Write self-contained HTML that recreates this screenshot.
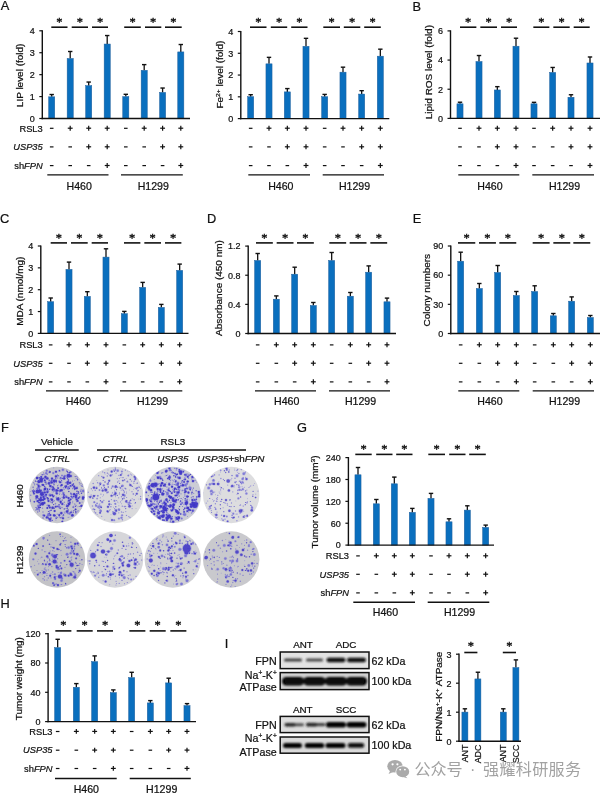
<!DOCTYPE html>
<html lang="en"><head><meta charset="utf-8"><title>Figure</title>
<style>
html,body{margin:0;padding:0;background:#fff;}
body{width:600px;height:793px;overflow:hidden;}
svg{display:block;font-family:"Liberation Sans","Noto Sans CJK SC",sans-serif;}
svg text{stroke:#111;stroke-width:.22px;}
svg text.wm{stroke:none;}
</style></head><body>
<svg width="600" height="793" viewBox="0 0 600 793">
<rect x="0" y="0" width="600" height="793" fill="#fff"/>
<text x="0.8" y="9.7" font-size="12.8" text-anchor="start" fill="#111" >A</text>
<line x1="51.7" y1="96.82" x2="51.7" y2="94.52" stroke="#111" stroke-width="1.3" stroke-linecap="butt"/>
<line x1="49.5" y1="94.52" x2="53.9" y2="94.52" stroke="#111" stroke-width="1.4" stroke-linecap="butt"/>
<rect x="48.65" y="96.82" width="6.1" height="21.68" fill="#0a6fbe" stroke="#1f5f9c" stroke-width="0.5"/>
<line x1="70.2" y1="58.49" x2="70.2" y2="51.49" stroke="#111" stroke-width="1.3" stroke-linecap="butt"/>
<line x1="68" y1="51.49" x2="72.4" y2="51.49" stroke="#111" stroke-width="1.4" stroke-linecap="butt"/>
<rect x="67.15" y="58.49" width="6.1" height="60.01" fill="#0a6fbe" stroke="#1f5f9c" stroke-width="0.5"/>
<line x1="88.7" y1="85.65" x2="88.7" y2="82.05" stroke="#111" stroke-width="1.3" stroke-linecap="butt"/>
<line x1="86.5" y1="82.05" x2="90.9" y2="82.05" stroke="#111" stroke-width="1.4" stroke-linecap="butt"/>
<rect x="85.65" y="85.65" width="6.1" height="32.85" fill="#0a6fbe" stroke="#1f5f9c" stroke-width="0.5"/>
<line x1="107.2" y1="44.04" x2="107.2" y2="35.54" stroke="#111" stroke-width="1.3" stroke-linecap="butt"/>
<line x1="105" y1="35.54" x2="109.4" y2="35.54" stroke="#111" stroke-width="1.4" stroke-linecap="butt"/>
<rect x="104.15" y="44.04" width="6.1" height="74.46" fill="#0a6fbe" stroke="#1f5f9c" stroke-width="0.5"/>
<line x1="125.8" y1="96.6" x2="125.8" y2="94.3" stroke="#111" stroke-width="1.3" stroke-linecap="butt"/>
<line x1="123.6" y1="94.3" x2="128" y2="94.3" stroke="#111" stroke-width="1.4" stroke-linecap="butt"/>
<rect x="122.75" y="96.6" width="6.1" height="21.9" fill="#0a6fbe" stroke="#1f5f9c" stroke-width="0.5"/>
<line x1="144.2" y1="70.32" x2="144.2" y2="64.62" stroke="#111" stroke-width="1.3" stroke-linecap="butt"/>
<line x1="142" y1="64.62" x2="146.4" y2="64.62" stroke="#111" stroke-width="1.4" stroke-linecap="butt"/>
<rect x="141.15" y="70.32" width="6.1" height="48.18" fill="#0a6fbe" stroke="#1f5f9c" stroke-width="0.5"/>
<line x1="162.6" y1="92.44" x2="162.6" y2="88.04" stroke="#111" stroke-width="1.3" stroke-linecap="butt"/>
<line x1="160.4" y1="88.04" x2="164.8" y2="88.04" stroke="#111" stroke-width="1.4" stroke-linecap="butt"/>
<rect x="159.55" y="92.44" width="6.1" height="26.06" fill="#0a6fbe" stroke="#1f5f9c" stroke-width="0.5"/>
<line x1="180.8" y1="51.92" x2="180.8" y2="44.52" stroke="#111" stroke-width="1.3" stroke-linecap="butt"/>
<line x1="178.6" y1="44.52" x2="183" y2="44.52" stroke="#111" stroke-width="1.4" stroke-linecap="butt"/>
<rect x="177.75" y="51.92" width="6.1" height="66.58" fill="#0a6fbe" stroke="#1f5f9c" stroke-width="0.5"/>
<line x1="42.3" y1="30.2" x2="42.3" y2="119.2" stroke="#111" stroke-width="1.4" stroke-linecap="butt"/>
<line x1="41.6" y1="118.5" x2="190" y2="118.5" stroke="#111" stroke-width="1.4" stroke-linecap="butt"/>
<line x1="39.3" y1="118.5" x2="42.3" y2="118.5" stroke="#111" stroke-width="1.2" stroke-linecap="butt"/>
<text x="34.7" y="121.8" font-size="9" text-anchor="end" fill="#111" >0</text>
<line x1="39.3" y1="96.58" x2="42.3" y2="96.58" stroke="#111" stroke-width="1.2" stroke-linecap="butt"/>
<text x="34.7" y="99.88" font-size="9" text-anchor="end" fill="#111" >1</text>
<line x1="39.3" y1="74.65" x2="42.3" y2="74.65" stroke="#111" stroke-width="1.2" stroke-linecap="butt"/>
<text x="34.7" y="77.95" font-size="9" text-anchor="end" fill="#111" >2</text>
<line x1="39.3" y1="52.72" x2="42.3" y2="52.72" stroke="#111" stroke-width="1.2" stroke-linecap="butt"/>
<text x="34.7" y="56.02" font-size="9" text-anchor="end" fill="#111" >3</text>
<line x1="39.3" y1="30.8" x2="42.3" y2="30.8" stroke="#111" stroke-width="1.2" stroke-linecap="butt"/>
<text x="34.7" y="34.1" font-size="9" text-anchor="end" fill="#111" >4</text>
<text transform="translate(22.8 75.4) rotate(-90) scale(1.195 1)" font-size="8.35" text-anchor="middle" fill="#111">LIP level (fold)</text>
<line x1="51.3" y1="27.2" x2="67.5" y2="27.2" stroke="#111" stroke-width="1.6" stroke-linecap="butt"/>
<text x="59.4" y="26.2" font-size="12.4" text-anchor="middle" fill="#111" font-family="Liberation Serif, serif" style="stroke-width:.4px">*</text>
<line x1="71.7" y1="27.2" x2="88" y2="27.2" stroke="#111" stroke-width="1.6" stroke-linecap="butt"/>
<text x="79.85" y="26.2" font-size="12.4" text-anchor="middle" fill="#111" font-family="Liberation Serif, serif" style="stroke-width:.4px">*</text>
<line x1="92" y1="27.2" x2="108" y2="27.2" stroke="#111" stroke-width="1.6" stroke-linecap="butt"/>
<text x="100" y="26.2" font-size="12.4" text-anchor="middle" fill="#111" font-family="Liberation Serif, serif" style="stroke-width:.4px">*</text>
<line x1="124.2" y1="27.2" x2="140.8" y2="27.2" stroke="#111" stroke-width="1.6" stroke-linecap="butt"/>
<text x="132.5" y="26.2" font-size="12.4" text-anchor="middle" fill="#111" font-family="Liberation Serif, serif" style="stroke-width:.4px">*</text>
<line x1="145" y1="27.2" x2="161.3" y2="27.2" stroke="#111" stroke-width="1.6" stroke-linecap="butt"/>
<text x="153.15" y="26.2" font-size="12.4" text-anchor="middle" fill="#111" font-family="Liberation Serif, serif" style="stroke-width:.4px">*</text>
<line x1="165" y1="27.2" x2="181.7" y2="27.2" stroke="#111" stroke-width="1.6" stroke-linecap="butt"/>
<text x="173.35" y="26.2" font-size="12.4" text-anchor="middle" fill="#111" font-family="Liberation Serif, serif" style="stroke-width:.4px">*</text>
<line x1="49.9" y1="128.3" x2="53.5" y2="128.3" stroke="#111" stroke-width="1.2" stroke-linecap="butt"/>
<line x1="67.75" y1="128.2" x2="72.65" y2="128.2" stroke="#111" stroke-width="1.2" stroke-linecap="butt"/>
<line x1="70.2" y1="125.75" x2="70.2" y2="130.65" stroke="#111" stroke-width="1.2" stroke-linecap="butt"/>
<line x1="86.25" y1="128.2" x2="91.15" y2="128.2" stroke="#111" stroke-width="1.2" stroke-linecap="butt"/>
<line x1="88.7" y1="125.75" x2="88.7" y2="130.65" stroke="#111" stroke-width="1.2" stroke-linecap="butt"/>
<line x1="104.75" y1="128.2" x2="109.65" y2="128.2" stroke="#111" stroke-width="1.2" stroke-linecap="butt"/>
<line x1="107.2" y1="125.75" x2="107.2" y2="130.65" stroke="#111" stroke-width="1.2" stroke-linecap="butt"/>
<line x1="124" y1="128.3" x2="127.6" y2="128.3" stroke="#111" stroke-width="1.2" stroke-linecap="butt"/>
<line x1="141.75" y1="128.2" x2="146.65" y2="128.2" stroke="#111" stroke-width="1.2" stroke-linecap="butt"/>
<line x1="144.2" y1="125.75" x2="144.2" y2="130.65" stroke="#111" stroke-width="1.2" stroke-linecap="butt"/>
<line x1="160.15" y1="128.2" x2="165.05" y2="128.2" stroke="#111" stroke-width="1.2" stroke-linecap="butt"/>
<line x1="162.6" y1="125.75" x2="162.6" y2="130.65" stroke="#111" stroke-width="1.2" stroke-linecap="butt"/>
<line x1="178.35" y1="128.2" x2="183.25" y2="128.2" stroke="#111" stroke-width="1.2" stroke-linecap="butt"/>
<line x1="180.8" y1="125.75" x2="180.8" y2="130.65" stroke="#111" stroke-width="1.2" stroke-linecap="butt"/>
<line x1="49.9" y1="146.9" x2="53.5" y2="146.9" stroke="#111" stroke-width="1.2" stroke-linecap="butt"/>
<line x1="68.4" y1="146.9" x2="72" y2="146.9" stroke="#111" stroke-width="1.2" stroke-linecap="butt"/>
<line x1="86.25" y1="146.8" x2="91.15" y2="146.8" stroke="#111" stroke-width="1.2" stroke-linecap="butt"/>
<line x1="88.7" y1="144.35" x2="88.7" y2="149.25" stroke="#111" stroke-width="1.2" stroke-linecap="butt"/>
<line x1="104.75" y1="146.8" x2="109.65" y2="146.8" stroke="#111" stroke-width="1.2" stroke-linecap="butt"/>
<line x1="107.2" y1="144.35" x2="107.2" y2="149.25" stroke="#111" stroke-width="1.2" stroke-linecap="butt"/>
<line x1="124" y1="146.9" x2="127.6" y2="146.9" stroke="#111" stroke-width="1.2" stroke-linecap="butt"/>
<line x1="142.4" y1="146.9" x2="146" y2="146.9" stroke="#111" stroke-width="1.2" stroke-linecap="butt"/>
<line x1="160.15" y1="146.8" x2="165.05" y2="146.8" stroke="#111" stroke-width="1.2" stroke-linecap="butt"/>
<line x1="162.6" y1="144.35" x2="162.6" y2="149.25" stroke="#111" stroke-width="1.2" stroke-linecap="butt"/>
<line x1="178.35" y1="146.8" x2="183.25" y2="146.8" stroke="#111" stroke-width="1.2" stroke-linecap="butt"/>
<line x1="180.8" y1="144.35" x2="180.8" y2="149.25" stroke="#111" stroke-width="1.2" stroke-linecap="butt"/>
<line x1="49.9" y1="165.6" x2="53.5" y2="165.6" stroke="#111" stroke-width="1.2" stroke-linecap="butt"/>
<line x1="68.4" y1="165.6" x2="72" y2="165.6" stroke="#111" stroke-width="1.2" stroke-linecap="butt"/>
<line x1="86.9" y1="165.6" x2="90.5" y2="165.6" stroke="#111" stroke-width="1.2" stroke-linecap="butt"/>
<line x1="104.75" y1="165.5" x2="109.65" y2="165.5" stroke="#111" stroke-width="1.2" stroke-linecap="butt"/>
<line x1="107.2" y1="163.05" x2="107.2" y2="167.95" stroke="#111" stroke-width="1.2" stroke-linecap="butt"/>
<line x1="124" y1="165.6" x2="127.6" y2="165.6" stroke="#111" stroke-width="1.2" stroke-linecap="butt"/>
<line x1="142.4" y1="165.6" x2="146" y2="165.6" stroke="#111" stroke-width="1.2" stroke-linecap="butt"/>
<line x1="160.8" y1="165.6" x2="164.4" y2="165.6" stroke="#111" stroke-width="1.2" stroke-linecap="butt"/>
<line x1="178.35" y1="165.5" x2="183.25" y2="165.5" stroke="#111" stroke-width="1.2" stroke-linecap="butt"/>
<line x1="180.8" y1="163.05" x2="180.8" y2="167.95" stroke="#111" stroke-width="1.2" stroke-linecap="butt"/>
<text x="42.7" y="131.5" font-size="9.3" text-anchor="end" fill="#111">RSL3</text>
<text x="42.7" y="150.1" font-size="9.3" text-anchor="end" fill="#111"><tspan font-style="italic">USP35</tspan></text>
<text x="42.7" y="168.8" font-size="9.3" text-anchor="end" fill="#111">sh<tspan font-style="italic">FPN</tspan></text>
<line x1="47.3" y1="174.9" x2="108.5" y2="174.9" stroke="#111" stroke-width="1.4" stroke-linecap="butt"/>
<line x1="121" y1="174.9" x2="182.8" y2="174.9" stroke="#111" stroke-width="1.4" stroke-linecap="butt"/>
<text x="79.2" y="189.6" font-size="10.6" text-anchor="middle" fill="#111" >H460</text>
<text x="153.3" y="189.6" font-size="10.6" text-anchor="middle" fill="#111" >H1299</text>
<line x1="250.67" y1="96.7" x2="250.67" y2="94.7" stroke="#111" stroke-width="1.3" stroke-linecap="butt"/>
<line x1="248.47" y1="94.7" x2="252.87" y2="94.7" stroke="#111" stroke-width="1.4" stroke-linecap="butt"/>
<rect x="247.62" y="96.7" width="6.1" height="21.9" fill="#0a6fbe" stroke="#1f5f9c" stroke-width="0.5"/>
<line x1="269" y1="63.85" x2="269" y2="57.35" stroke="#111" stroke-width="1.3" stroke-linecap="butt"/>
<line x1="266.8" y1="57.35" x2="271.2" y2="57.35" stroke="#111" stroke-width="1.4" stroke-linecap="butt"/>
<rect x="265.95" y="63.85" width="6.1" height="54.75" fill="#0a6fbe" stroke="#1f5f9c" stroke-width="0.5"/>
<line x1="287.33" y1="91.88" x2="287.33" y2="88.58" stroke="#111" stroke-width="1.3" stroke-linecap="butt"/>
<line x1="285.13" y1="88.58" x2="289.53" y2="88.58" stroke="#111" stroke-width="1.4" stroke-linecap="butt"/>
<rect x="284.28" y="91.88" width="6.1" height="26.72" fill="#0a6fbe" stroke="#1f5f9c" stroke-width="0.5"/>
<line x1="306" y1="46.33" x2="306" y2="38.33" stroke="#111" stroke-width="1.3" stroke-linecap="butt"/>
<line x1="303.8" y1="38.33" x2="308.2" y2="38.33" stroke="#111" stroke-width="1.4" stroke-linecap="butt"/>
<rect x="302.95" y="46.33" width="6.1" height="72.27" fill="#0a6fbe" stroke="#1f5f9c" stroke-width="0.5"/>
<line x1="324.67" y1="96.7" x2="324.67" y2="94.4" stroke="#111" stroke-width="1.3" stroke-linecap="butt"/>
<line x1="322.47" y1="94.4" x2="326.87" y2="94.4" stroke="#111" stroke-width="1.4" stroke-linecap="butt"/>
<rect x="321.62" y="96.7" width="6.1" height="21.9" fill="#0a6fbe" stroke="#1f5f9c" stroke-width="0.5"/>
<line x1="343" y1="72.17" x2="343" y2="67.17" stroke="#111" stroke-width="1.3" stroke-linecap="butt"/>
<line x1="340.8" y1="67.17" x2="345.2" y2="67.17" stroke="#111" stroke-width="1.4" stroke-linecap="butt"/>
<rect x="339.95" y="72.17" width="6.1" height="46.43" fill="#0a6fbe" stroke="#1f5f9c" stroke-width="0.5"/>
<line x1="361.67" y1="94.07" x2="361.67" y2="90.67" stroke="#111" stroke-width="1.3" stroke-linecap="butt"/>
<line x1="359.47" y1="90.67" x2="363.87" y2="90.67" stroke="#111" stroke-width="1.4" stroke-linecap="butt"/>
<rect x="358.62" y="94.07" width="6.1" height="24.53" fill="#0a6fbe" stroke="#1f5f9c" stroke-width="0.5"/>
<line x1="380.33" y1="56.18" x2="380.33" y2="49.18" stroke="#111" stroke-width="1.3" stroke-linecap="butt"/>
<line x1="378.13" y1="49.18" x2="382.53" y2="49.18" stroke="#111" stroke-width="1.4" stroke-linecap="butt"/>
<rect x="377.28" y="56.18" width="6.1" height="62.41" fill="#0a6fbe" stroke="#1f5f9c" stroke-width="0.5"/>
<line x1="240.8" y1="30.9" x2="240.8" y2="119.3" stroke="#111" stroke-width="1.4" stroke-linecap="butt"/>
<line x1="240.1" y1="118.6" x2="389.3" y2="118.6" stroke="#111" stroke-width="1.4" stroke-linecap="butt"/>
<line x1="237.8" y1="118.6" x2="240.8" y2="118.6" stroke="#111" stroke-width="1.2" stroke-linecap="butt"/>
<text x="233.2" y="121.9" font-size="9" text-anchor="end" fill="#111" >0</text>
<line x1="237.8" y1="96.82" x2="240.8" y2="96.82" stroke="#111" stroke-width="1.2" stroke-linecap="butt"/>
<text x="233.2" y="100.12" font-size="9" text-anchor="end" fill="#111" >1</text>
<line x1="237.8" y1="75.05" x2="240.8" y2="75.05" stroke="#111" stroke-width="1.2" stroke-linecap="butt"/>
<text x="233.2" y="78.35" font-size="9" text-anchor="end" fill="#111" >2</text>
<line x1="237.8" y1="53.28" x2="240.8" y2="53.28" stroke="#111" stroke-width="1.2" stroke-linecap="butt"/>
<text x="233.2" y="56.58" font-size="9" text-anchor="end" fill="#111" >3</text>
<line x1="237.8" y1="31.5" x2="240.8" y2="31.5" stroke="#111" stroke-width="1.2" stroke-linecap="butt"/>
<text x="233.2" y="34.8" font-size="9" text-anchor="end" fill="#111" >4</text>
<text transform="translate(222.8 74.6) rotate(-90) scale(1.195 1)" font-size="8.35" text-anchor="middle" fill="#111">Fe<tspan font-size="5.6" dy="-3.2">2+</tspan><tspan dy="3.2"> level (fold)</tspan></text>
<line x1="250" y1="27.2" x2="266.5" y2="27.2" stroke="#111" stroke-width="1.6" stroke-linecap="butt"/>
<text x="258.25" y="26.2" font-size="12.4" text-anchor="middle" fill="#111" font-family="Liberation Serif, serif" style="stroke-width:.4px">*</text>
<line x1="270.8" y1="27.2" x2="287.2" y2="27.2" stroke="#111" stroke-width="1.6" stroke-linecap="butt"/>
<text x="279" y="26.2" font-size="12.4" text-anchor="middle" fill="#111" font-family="Liberation Serif, serif" style="stroke-width:.4px">*</text>
<line x1="291.2" y1="27.2" x2="307.5" y2="27.2" stroke="#111" stroke-width="1.6" stroke-linecap="butt"/>
<text x="299.35" y="26.2" font-size="12.4" text-anchor="middle" fill="#111" font-family="Liberation Serif, serif" style="stroke-width:.4px">*</text>
<line x1="323.3" y1="27.2" x2="340" y2="27.2" stroke="#111" stroke-width="1.6" stroke-linecap="butt"/>
<text x="331.65" y="26.2" font-size="12.4" text-anchor="middle" fill="#111" font-family="Liberation Serif, serif" style="stroke-width:.4px">*</text>
<line x1="343.8" y1="27.2" x2="360.3" y2="27.2" stroke="#111" stroke-width="1.6" stroke-linecap="butt"/>
<text x="352.05" y="26.2" font-size="12.4" text-anchor="middle" fill="#111" font-family="Liberation Serif, serif" style="stroke-width:.4px">*</text>
<line x1="364.2" y1="27.2" x2="380.8" y2="27.2" stroke="#111" stroke-width="1.6" stroke-linecap="butt"/>
<text x="372.5" y="26.2" font-size="12.4" text-anchor="middle" fill="#111" font-family="Liberation Serif, serif" style="stroke-width:.4px">*</text>
<line x1="248.87" y1="128.3" x2="252.47" y2="128.3" stroke="#111" stroke-width="1.2" stroke-linecap="butt"/>
<line x1="266.55" y1="128.2" x2="271.45" y2="128.2" stroke="#111" stroke-width="1.2" stroke-linecap="butt"/>
<line x1="269" y1="125.75" x2="269" y2="130.65" stroke="#111" stroke-width="1.2" stroke-linecap="butt"/>
<line x1="284.88" y1="128.2" x2="289.78" y2="128.2" stroke="#111" stroke-width="1.2" stroke-linecap="butt"/>
<line x1="287.33" y1="125.75" x2="287.33" y2="130.65" stroke="#111" stroke-width="1.2" stroke-linecap="butt"/>
<line x1="303.55" y1="128.2" x2="308.45" y2="128.2" stroke="#111" stroke-width="1.2" stroke-linecap="butt"/>
<line x1="306" y1="125.75" x2="306" y2="130.65" stroke="#111" stroke-width="1.2" stroke-linecap="butt"/>
<line x1="322.87" y1="128.3" x2="326.47" y2="128.3" stroke="#111" stroke-width="1.2" stroke-linecap="butt"/>
<line x1="340.55" y1="128.2" x2="345.45" y2="128.2" stroke="#111" stroke-width="1.2" stroke-linecap="butt"/>
<line x1="343" y1="125.75" x2="343" y2="130.65" stroke="#111" stroke-width="1.2" stroke-linecap="butt"/>
<line x1="359.22" y1="128.2" x2="364.12" y2="128.2" stroke="#111" stroke-width="1.2" stroke-linecap="butt"/>
<line x1="361.67" y1="125.75" x2="361.67" y2="130.65" stroke="#111" stroke-width="1.2" stroke-linecap="butt"/>
<line x1="377.88" y1="128.2" x2="382.78" y2="128.2" stroke="#111" stroke-width="1.2" stroke-linecap="butt"/>
<line x1="380.33" y1="125.75" x2="380.33" y2="130.65" stroke="#111" stroke-width="1.2" stroke-linecap="butt"/>
<line x1="248.87" y1="146.9" x2="252.47" y2="146.9" stroke="#111" stroke-width="1.2" stroke-linecap="butt"/>
<line x1="267.2" y1="146.9" x2="270.8" y2="146.9" stroke="#111" stroke-width="1.2" stroke-linecap="butt"/>
<line x1="284.88" y1="146.8" x2="289.78" y2="146.8" stroke="#111" stroke-width="1.2" stroke-linecap="butt"/>
<line x1="287.33" y1="144.35" x2="287.33" y2="149.25" stroke="#111" stroke-width="1.2" stroke-linecap="butt"/>
<line x1="303.55" y1="146.8" x2="308.45" y2="146.8" stroke="#111" stroke-width="1.2" stroke-linecap="butt"/>
<line x1="306" y1="144.35" x2="306" y2="149.25" stroke="#111" stroke-width="1.2" stroke-linecap="butt"/>
<line x1="322.87" y1="146.9" x2="326.47" y2="146.9" stroke="#111" stroke-width="1.2" stroke-linecap="butt"/>
<line x1="341.2" y1="146.9" x2="344.8" y2="146.9" stroke="#111" stroke-width="1.2" stroke-linecap="butt"/>
<line x1="359.22" y1="146.8" x2="364.12" y2="146.8" stroke="#111" stroke-width="1.2" stroke-linecap="butt"/>
<line x1="361.67" y1="144.35" x2="361.67" y2="149.25" stroke="#111" stroke-width="1.2" stroke-linecap="butt"/>
<line x1="377.88" y1="146.8" x2="382.78" y2="146.8" stroke="#111" stroke-width="1.2" stroke-linecap="butt"/>
<line x1="380.33" y1="144.35" x2="380.33" y2="149.25" stroke="#111" stroke-width="1.2" stroke-linecap="butt"/>
<line x1="248.87" y1="165.6" x2="252.47" y2="165.6" stroke="#111" stroke-width="1.2" stroke-linecap="butt"/>
<line x1="267.2" y1="165.6" x2="270.8" y2="165.6" stroke="#111" stroke-width="1.2" stroke-linecap="butt"/>
<line x1="285.53" y1="165.6" x2="289.13" y2="165.6" stroke="#111" stroke-width="1.2" stroke-linecap="butt"/>
<line x1="303.55" y1="165.5" x2="308.45" y2="165.5" stroke="#111" stroke-width="1.2" stroke-linecap="butt"/>
<line x1="306" y1="163.05" x2="306" y2="167.95" stroke="#111" stroke-width="1.2" stroke-linecap="butt"/>
<line x1="322.87" y1="165.6" x2="326.47" y2="165.6" stroke="#111" stroke-width="1.2" stroke-linecap="butt"/>
<line x1="341.2" y1="165.6" x2="344.8" y2="165.6" stroke="#111" stroke-width="1.2" stroke-linecap="butt"/>
<line x1="359.87" y1="165.6" x2="363.47" y2="165.6" stroke="#111" stroke-width="1.2" stroke-linecap="butt"/>
<line x1="377.88" y1="165.5" x2="382.78" y2="165.5" stroke="#111" stroke-width="1.2" stroke-linecap="butt"/>
<line x1="380.33" y1="163.05" x2="380.33" y2="167.95" stroke="#111" stroke-width="1.2" stroke-linecap="butt"/>
<line x1="248.3" y1="174.9" x2="310" y2="174.9" stroke="#111" stroke-width="1.4" stroke-linecap="butt"/>
<line x1="322.7" y1="174.9" x2="384" y2="174.9" stroke="#111" stroke-width="1.4" stroke-linecap="butt"/>
<text x="280.8" y="189.6" font-size="10.6" text-anchor="middle" fill="#111" >H460</text>
<text x="354.5" y="189.6" font-size="10.6" text-anchor="middle" fill="#111" >H1299</text>
<text x="412.4" y="10.7" font-size="12.8" text-anchor="start" fill="#111" >B</text>
<line x1="460" y1="103.82" x2="460" y2="102.22" stroke="#111" stroke-width="1.3" stroke-linecap="butt"/>
<line x1="457.8" y1="102.22" x2="462.2" y2="102.22" stroke="#111" stroke-width="1.4" stroke-linecap="butt"/>
<rect x="456.95" y="103.82" width="6.1" height="14.58" fill="#0a6fbe" stroke="#1f5f9c" stroke-width="0.5"/>
<line x1="479" y1="61.53" x2="479" y2="55.53" stroke="#111" stroke-width="1.3" stroke-linecap="butt"/>
<line x1="476.8" y1="55.53" x2="481.2" y2="55.53" stroke="#111" stroke-width="1.4" stroke-linecap="butt"/>
<rect x="475.95" y="61.53" width="6.1" height="56.88" fill="#0a6fbe" stroke="#1f5f9c" stroke-width="0.5"/>
<line x1="497.33" y1="89.96" x2="497.33" y2="86.66" stroke="#111" stroke-width="1.3" stroke-linecap="butt"/>
<line x1="495.13" y1="86.66" x2="499.53" y2="86.66" stroke="#111" stroke-width="1.4" stroke-linecap="butt"/>
<rect x="494.28" y="89.96" width="6.1" height="28.44" fill="#0a6fbe" stroke="#1f5f9c" stroke-width="0.5"/>
<line x1="516" y1="46.21" x2="516" y2="38.21" stroke="#111" stroke-width="1.3" stroke-linecap="butt"/>
<line x1="513.8" y1="38.21" x2="518.2" y2="38.21" stroke="#111" stroke-width="1.4" stroke-linecap="butt"/>
<rect x="512.95" y="46.21" width="6.1" height="72.19" fill="#0a6fbe" stroke="#1f5f9c" stroke-width="0.5"/>
<line x1="534" y1="103.82" x2="534" y2="102.32" stroke="#111" stroke-width="1.3" stroke-linecap="butt"/>
<line x1="531.8" y1="102.32" x2="536.2" y2="102.32" stroke="#111" stroke-width="1.4" stroke-linecap="butt"/>
<rect x="530.95" y="103.82" width="6.1" height="14.58" fill="#0a6fbe" stroke="#1f5f9c" stroke-width="0.5"/>
<line x1="552.67" y1="72.46" x2="552.67" y2="67.46" stroke="#111" stroke-width="1.3" stroke-linecap="butt"/>
<line x1="550.47" y1="67.46" x2="554.87" y2="67.46" stroke="#111" stroke-width="1.4" stroke-linecap="butt"/>
<rect x="549.62" y="72.46" width="6.1" height="45.94" fill="#0a6fbe" stroke="#1f5f9c" stroke-width="0.5"/>
<line x1="571" y1="97.25" x2="571" y2="94.75" stroke="#111" stroke-width="1.3" stroke-linecap="butt"/>
<line x1="568.8" y1="94.75" x2="573.2" y2="94.75" stroke="#111" stroke-width="1.4" stroke-linecap="butt"/>
<rect x="567.95" y="97.25" width="6.1" height="21.15" fill="#0a6fbe" stroke="#1f5f9c" stroke-width="0.5"/>
<line x1="590" y1="62.98" x2="590" y2="56.98" stroke="#111" stroke-width="1.3" stroke-linecap="butt"/>
<line x1="587.8" y1="56.98" x2="592.2" y2="56.98" stroke="#111" stroke-width="1.4" stroke-linecap="butt"/>
<rect x="586.95" y="62.98" width="6.1" height="55.42" fill="#0a6fbe" stroke="#1f5f9c" stroke-width="0.5"/>
<line x1="450.5" y1="30.3" x2="450.5" y2="119.1" stroke="#111" stroke-width="1.4" stroke-linecap="butt"/>
<line x1="449.8" y1="118.4" x2="600" y2="118.4" stroke="#111" stroke-width="1.4" stroke-linecap="butt"/>
<line x1="447.5" y1="118.4" x2="450.5" y2="118.4" stroke="#111" stroke-width="1.2" stroke-linecap="butt"/>
<text x="442.9" y="121.7" font-size="9" text-anchor="end" fill="#111" >0</text>
<line x1="447.5" y1="89.23" x2="450.5" y2="89.23" stroke="#111" stroke-width="1.2" stroke-linecap="butt"/>
<text x="442.9" y="92.53" font-size="9" text-anchor="end" fill="#111" >2</text>
<line x1="447.5" y1="60.07" x2="450.5" y2="60.07" stroke="#111" stroke-width="1.2" stroke-linecap="butt"/>
<text x="442.9" y="63.37" font-size="9" text-anchor="end" fill="#111" >4</text>
<line x1="447.5" y1="30.9" x2="450.5" y2="30.9" stroke="#111" stroke-width="1.2" stroke-linecap="butt"/>
<text x="442.9" y="34.2" font-size="9" text-anchor="end" fill="#111" >6</text>
<text transform="translate(432 72.1) rotate(-90) scale(1.195 1)" font-size="8.35" text-anchor="middle" fill="#111">Lipid ROS level (fold)</text>
<line x1="460" y1="27.2" x2="476.37" y2="27.2" stroke="#111" stroke-width="1.6" stroke-linecap="butt"/>
<text x="468.18" y="26.2" font-size="12.4" text-anchor="middle" fill="#111" font-family="Liberation Serif, serif" style="stroke-width:.4px">*</text>
<line x1="480.33" y1="27.2" x2="497.03" y2="27.2" stroke="#111" stroke-width="1.6" stroke-linecap="butt"/>
<text x="488.68" y="26.2" font-size="12.4" text-anchor="middle" fill="#111" font-family="Liberation Serif, serif" style="stroke-width:.4px">*</text>
<line x1="501" y1="27.2" x2="517.03" y2="27.2" stroke="#111" stroke-width="1.6" stroke-linecap="butt"/>
<text x="509.02" y="26.2" font-size="12.4" text-anchor="middle" fill="#111" font-family="Liberation Serif, serif" style="stroke-width:.4px">*</text>
<line x1="533.33" y1="27.2" x2="549.37" y2="27.2" stroke="#111" stroke-width="1.6" stroke-linecap="butt"/>
<text x="541.35" y="26.2" font-size="12.4" text-anchor="middle" fill="#111" font-family="Liberation Serif, serif" style="stroke-width:.4px">*</text>
<line x1="553.33" y1="27.2" x2="569.7" y2="27.2" stroke="#111" stroke-width="1.6" stroke-linecap="butt"/>
<text x="561.52" y="26.2" font-size="12.4" text-anchor="middle" fill="#111" font-family="Liberation Serif, serif" style="stroke-width:.4px">*</text>
<line x1="573.67" y1="27.2" x2="589.7" y2="27.2" stroke="#111" stroke-width="1.6" stroke-linecap="butt"/>
<text x="581.68" y="26.2" font-size="12.4" text-anchor="middle" fill="#111" font-family="Liberation Serif, serif" style="stroke-width:.4px">*</text>
<line x1="458.2" y1="128.3" x2="461.8" y2="128.3" stroke="#111" stroke-width="1.2" stroke-linecap="butt"/>
<line x1="476.55" y1="128.2" x2="481.45" y2="128.2" stroke="#111" stroke-width="1.2" stroke-linecap="butt"/>
<line x1="479" y1="125.75" x2="479" y2="130.65" stroke="#111" stroke-width="1.2" stroke-linecap="butt"/>
<line x1="494.88" y1="128.2" x2="499.78" y2="128.2" stroke="#111" stroke-width="1.2" stroke-linecap="butt"/>
<line x1="497.33" y1="125.75" x2="497.33" y2="130.65" stroke="#111" stroke-width="1.2" stroke-linecap="butt"/>
<line x1="513.55" y1="128.2" x2="518.45" y2="128.2" stroke="#111" stroke-width="1.2" stroke-linecap="butt"/>
<line x1="516" y1="125.75" x2="516" y2="130.65" stroke="#111" stroke-width="1.2" stroke-linecap="butt"/>
<line x1="532.2" y1="128.3" x2="535.8" y2="128.3" stroke="#111" stroke-width="1.2" stroke-linecap="butt"/>
<line x1="550.22" y1="128.2" x2="555.12" y2="128.2" stroke="#111" stroke-width="1.2" stroke-linecap="butt"/>
<line x1="552.67" y1="125.75" x2="552.67" y2="130.65" stroke="#111" stroke-width="1.2" stroke-linecap="butt"/>
<line x1="568.55" y1="128.2" x2="573.45" y2="128.2" stroke="#111" stroke-width="1.2" stroke-linecap="butt"/>
<line x1="571" y1="125.75" x2="571" y2="130.65" stroke="#111" stroke-width="1.2" stroke-linecap="butt"/>
<line x1="587.55" y1="128.2" x2="592.45" y2="128.2" stroke="#111" stroke-width="1.2" stroke-linecap="butt"/>
<line x1="590" y1="125.75" x2="590" y2="130.65" stroke="#111" stroke-width="1.2" stroke-linecap="butt"/>
<line x1="458.2" y1="146.9" x2="461.8" y2="146.9" stroke="#111" stroke-width="1.2" stroke-linecap="butt"/>
<line x1="477.2" y1="146.9" x2="480.8" y2="146.9" stroke="#111" stroke-width="1.2" stroke-linecap="butt"/>
<line x1="494.88" y1="146.8" x2="499.78" y2="146.8" stroke="#111" stroke-width="1.2" stroke-linecap="butt"/>
<line x1="497.33" y1="144.35" x2="497.33" y2="149.25" stroke="#111" stroke-width="1.2" stroke-linecap="butt"/>
<line x1="513.55" y1="146.8" x2="518.45" y2="146.8" stroke="#111" stroke-width="1.2" stroke-linecap="butt"/>
<line x1="516" y1="144.35" x2="516" y2="149.25" stroke="#111" stroke-width="1.2" stroke-linecap="butt"/>
<line x1="532.2" y1="146.9" x2="535.8" y2="146.9" stroke="#111" stroke-width="1.2" stroke-linecap="butt"/>
<line x1="550.87" y1="146.9" x2="554.47" y2="146.9" stroke="#111" stroke-width="1.2" stroke-linecap="butt"/>
<line x1="568.55" y1="146.8" x2="573.45" y2="146.8" stroke="#111" stroke-width="1.2" stroke-linecap="butt"/>
<line x1="571" y1="144.35" x2="571" y2="149.25" stroke="#111" stroke-width="1.2" stroke-linecap="butt"/>
<line x1="587.55" y1="146.8" x2="592.45" y2="146.8" stroke="#111" stroke-width="1.2" stroke-linecap="butt"/>
<line x1="590" y1="144.35" x2="590" y2="149.25" stroke="#111" stroke-width="1.2" stroke-linecap="butt"/>
<line x1="458.2" y1="165.6" x2="461.8" y2="165.6" stroke="#111" stroke-width="1.2" stroke-linecap="butt"/>
<line x1="477.2" y1="165.6" x2="480.8" y2="165.6" stroke="#111" stroke-width="1.2" stroke-linecap="butt"/>
<line x1="495.53" y1="165.6" x2="499.13" y2="165.6" stroke="#111" stroke-width="1.2" stroke-linecap="butt"/>
<line x1="513.55" y1="165.5" x2="518.45" y2="165.5" stroke="#111" stroke-width="1.2" stroke-linecap="butt"/>
<line x1="516" y1="163.05" x2="516" y2="167.95" stroke="#111" stroke-width="1.2" stroke-linecap="butt"/>
<line x1="532.2" y1="165.6" x2="535.8" y2="165.6" stroke="#111" stroke-width="1.2" stroke-linecap="butt"/>
<line x1="550.87" y1="165.6" x2="554.47" y2="165.6" stroke="#111" stroke-width="1.2" stroke-linecap="butt"/>
<line x1="569.2" y1="165.6" x2="572.8" y2="165.6" stroke="#111" stroke-width="1.2" stroke-linecap="butt"/>
<line x1="587.55" y1="165.5" x2="592.45" y2="165.5" stroke="#111" stroke-width="1.2" stroke-linecap="butt"/>
<line x1="590" y1="163.05" x2="590" y2="167.95" stroke="#111" stroke-width="1.2" stroke-linecap="butt"/>
<line x1="458.3" y1="174.9" x2="519.3" y2="174.9" stroke="#111" stroke-width="1.4" stroke-linecap="butt"/>
<line x1="532.3" y1="174.9" x2="594" y2="174.9" stroke="#111" stroke-width="1.4" stroke-linecap="butt"/>
<text x="490" y="189.6" font-size="10.6" text-anchor="middle" fill="#111" >H460</text>
<text x="564.5" y="189.6" font-size="10.6" text-anchor="middle" fill="#111" >H1299</text>
<text x="0.1" y="223.2" font-size="12.8" text-anchor="start" fill="#111" >C</text>
<line x1="50.67" y1="301.7" x2="50.67" y2="298" stroke="#111" stroke-width="1.3" stroke-linecap="butt"/>
<line x1="48.47" y1="298" x2="52.87" y2="298" stroke="#111" stroke-width="1.4" stroke-linecap="butt"/>
<rect x="47.62" y="301.7" width="6.1" height="31.7" fill="#0a6fbe" stroke="#1f5f9c" stroke-width="0.5"/>
<line x1="69" y1="269.4" x2="69" y2="262.1" stroke="#111" stroke-width="1.3" stroke-linecap="butt"/>
<line x1="66.8" y1="262.1" x2="71.2" y2="262.1" stroke="#111" stroke-width="1.4" stroke-linecap="butt"/>
<rect x="65.95" y="269.4" width="6.1" height="64" fill="#0a6fbe" stroke="#1f5f9c" stroke-width="0.5"/>
<line x1="87.33" y1="296.4" x2="87.33" y2="291.7" stroke="#111" stroke-width="1.3" stroke-linecap="butt"/>
<line x1="85.13" y1="291.7" x2="89.53" y2="291.7" stroke="#111" stroke-width="1.4" stroke-linecap="butt"/>
<rect x="84.28" y="296.4" width="6.1" height="37" fill="#0a6fbe" stroke="#1f5f9c" stroke-width="0.5"/>
<line x1="106" y1="257.1" x2="106" y2="248.8" stroke="#111" stroke-width="1.3" stroke-linecap="butt"/>
<line x1="103.8" y1="248.8" x2="108.2" y2="248.8" stroke="#111" stroke-width="1.4" stroke-linecap="butt"/>
<rect x="102.95" y="257.1" width="6.1" height="76.3" fill="#0a6fbe" stroke="#1f5f9c" stroke-width="0.5"/>
<line x1="124.33" y1="313.7" x2="124.33" y2="311.4" stroke="#111" stroke-width="1.3" stroke-linecap="butt"/>
<line x1="122.13" y1="311.4" x2="126.53" y2="311.4" stroke="#111" stroke-width="1.4" stroke-linecap="butt"/>
<rect x="121.28" y="313.7" width="6.1" height="19.7" fill="#0a6fbe" stroke="#1f5f9c" stroke-width="0.5"/>
<line x1="142.67" y1="287.4" x2="142.67" y2="282.4" stroke="#111" stroke-width="1.3" stroke-linecap="butt"/>
<line x1="140.47" y1="282.4" x2="144.87" y2="282.4" stroke="#111" stroke-width="1.4" stroke-linecap="butt"/>
<rect x="139.62" y="287.4" width="6.1" height="46" fill="#0a6fbe" stroke="#1f5f9c" stroke-width="0.5"/>
<line x1="161.33" y1="307.4" x2="161.33" y2="304.4" stroke="#111" stroke-width="1.3" stroke-linecap="butt"/>
<line x1="159.13" y1="304.4" x2="163.53" y2="304.4" stroke="#111" stroke-width="1.4" stroke-linecap="butt"/>
<rect x="158.28" y="307.4" width="6.1" height="26" fill="#0a6fbe" stroke="#1f5f9c" stroke-width="0.5"/>
<line x1="179.67" y1="270.4" x2="179.67" y2="264.1" stroke="#111" stroke-width="1.3" stroke-linecap="butt"/>
<line x1="177.47" y1="264.1" x2="181.87" y2="264.1" stroke="#111" stroke-width="1.4" stroke-linecap="butt"/>
<rect x="176.62" y="270.4" width="6.1" height="63" fill="#0a6fbe" stroke="#1f5f9c" stroke-width="0.5"/>
<line x1="40.8" y1="245.4" x2="40.8" y2="334.1" stroke="#111" stroke-width="1.4" stroke-linecap="butt"/>
<line x1="40.1" y1="333.4" x2="188.5" y2="333.4" stroke="#111" stroke-width="1.4" stroke-linecap="butt"/>
<line x1="37.8" y1="333.4" x2="40.8" y2="333.4" stroke="#111" stroke-width="1.2" stroke-linecap="butt"/>
<text x="33.2" y="336.7" font-size="9" text-anchor="end" fill="#111" >0</text>
<line x1="37.8" y1="311.55" x2="40.8" y2="311.55" stroke="#111" stroke-width="1.2" stroke-linecap="butt"/>
<text x="33.2" y="314.85" font-size="9" text-anchor="end" fill="#111" >1</text>
<line x1="37.8" y1="289.7" x2="40.8" y2="289.7" stroke="#111" stroke-width="1.2" stroke-linecap="butt"/>
<text x="33.2" y="293" font-size="9" text-anchor="end" fill="#111" >2</text>
<line x1="37.8" y1="267.85" x2="40.8" y2="267.85" stroke="#111" stroke-width="1.2" stroke-linecap="butt"/>
<text x="33.2" y="271.15" font-size="9" text-anchor="end" fill="#111" >3</text>
<line x1="37.8" y1="246" x2="40.8" y2="246" stroke="#111" stroke-width="1.2" stroke-linecap="butt"/>
<text x="33.2" y="249.3" font-size="9" text-anchor="end" fill="#111" >4</text>
<text transform="translate(23 291.2) rotate(-90) scale(1.195 1)" font-size="8.35" text-anchor="middle" fill="#111">MDA (nmol/mg)</text>
<line x1="50.67" y1="242.9" x2="67.03" y2="242.9" stroke="#111" stroke-width="1.6" stroke-linecap="butt"/>
<text x="58.85" y="241.9" font-size="12.4" text-anchor="middle" fill="#111" font-family="Liberation Serif, serif" style="stroke-width:.4px">*</text>
<line x1="71" y1="242.9" x2="87.7" y2="242.9" stroke="#111" stroke-width="1.6" stroke-linecap="butt"/>
<text x="79.35" y="241.9" font-size="12.4" text-anchor="middle" fill="#111" font-family="Liberation Serif, serif" style="stroke-width:.4px">*</text>
<line x1="91.67" y1="242.9" x2="108.03" y2="242.9" stroke="#111" stroke-width="1.6" stroke-linecap="butt"/>
<text x="99.85" y="241.9" font-size="12.4" text-anchor="middle" fill="#111" font-family="Liberation Serif, serif" style="stroke-width:.4px">*</text>
<line x1="124" y1="242.9" x2="140.37" y2="242.9" stroke="#111" stroke-width="1.6" stroke-linecap="butt"/>
<text x="132.18" y="241.9" font-size="12.4" text-anchor="middle" fill="#111" font-family="Liberation Serif, serif" style="stroke-width:.4px">*</text>
<line x1="144.33" y1="242.9" x2="161.03" y2="242.9" stroke="#111" stroke-width="1.6" stroke-linecap="butt"/>
<text x="152.68" y="241.9" font-size="12.4" text-anchor="middle" fill="#111" font-family="Liberation Serif, serif" style="stroke-width:.4px">*</text>
<line x1="165" y1="242.9" x2="181.37" y2="242.9" stroke="#111" stroke-width="1.6" stroke-linecap="butt"/>
<text x="173.18" y="241.9" font-size="12.4" text-anchor="middle" fill="#111" font-family="Liberation Serif, serif" style="stroke-width:.4px">*</text>
<line x1="48.87" y1="344.9" x2="52.47" y2="344.9" stroke="#111" stroke-width="1.2" stroke-linecap="butt"/>
<line x1="66.55" y1="344.8" x2="71.45" y2="344.8" stroke="#111" stroke-width="1.2" stroke-linecap="butt"/>
<line x1="69" y1="342.35" x2="69" y2="347.25" stroke="#111" stroke-width="1.2" stroke-linecap="butt"/>
<line x1="84.88" y1="344.8" x2="89.78" y2="344.8" stroke="#111" stroke-width="1.2" stroke-linecap="butt"/>
<line x1="87.33" y1="342.35" x2="87.33" y2="347.25" stroke="#111" stroke-width="1.2" stroke-linecap="butt"/>
<line x1="103.55" y1="344.8" x2="108.45" y2="344.8" stroke="#111" stroke-width="1.2" stroke-linecap="butt"/>
<line x1="106" y1="342.35" x2="106" y2="347.25" stroke="#111" stroke-width="1.2" stroke-linecap="butt"/>
<line x1="122.53" y1="344.9" x2="126.13" y2="344.9" stroke="#111" stroke-width="1.2" stroke-linecap="butt"/>
<line x1="140.22" y1="344.8" x2="145.12" y2="344.8" stroke="#111" stroke-width="1.2" stroke-linecap="butt"/>
<line x1="142.67" y1="342.35" x2="142.67" y2="347.25" stroke="#111" stroke-width="1.2" stroke-linecap="butt"/>
<line x1="158.88" y1="344.8" x2="163.78" y2="344.8" stroke="#111" stroke-width="1.2" stroke-linecap="butt"/>
<line x1="161.33" y1="342.35" x2="161.33" y2="347.25" stroke="#111" stroke-width="1.2" stroke-linecap="butt"/>
<line x1="177.22" y1="344.8" x2="182.12" y2="344.8" stroke="#111" stroke-width="1.2" stroke-linecap="butt"/>
<line x1="179.67" y1="342.35" x2="179.67" y2="347.25" stroke="#111" stroke-width="1.2" stroke-linecap="butt"/>
<line x1="48.87" y1="363.3" x2="52.47" y2="363.3" stroke="#111" stroke-width="1.2" stroke-linecap="butt"/>
<line x1="67.2" y1="363.3" x2="70.8" y2="363.3" stroke="#111" stroke-width="1.2" stroke-linecap="butt"/>
<line x1="84.88" y1="363.2" x2="89.78" y2="363.2" stroke="#111" stroke-width="1.2" stroke-linecap="butt"/>
<line x1="87.33" y1="360.75" x2="87.33" y2="365.65" stroke="#111" stroke-width="1.2" stroke-linecap="butt"/>
<line x1="103.55" y1="363.2" x2="108.45" y2="363.2" stroke="#111" stroke-width="1.2" stroke-linecap="butt"/>
<line x1="106" y1="360.75" x2="106" y2="365.65" stroke="#111" stroke-width="1.2" stroke-linecap="butt"/>
<line x1="122.53" y1="363.3" x2="126.13" y2="363.3" stroke="#111" stroke-width="1.2" stroke-linecap="butt"/>
<line x1="140.87" y1="363.3" x2="144.47" y2="363.3" stroke="#111" stroke-width="1.2" stroke-linecap="butt"/>
<line x1="158.88" y1="363.2" x2="163.78" y2="363.2" stroke="#111" stroke-width="1.2" stroke-linecap="butt"/>
<line x1="161.33" y1="360.75" x2="161.33" y2="365.65" stroke="#111" stroke-width="1.2" stroke-linecap="butt"/>
<line x1="177.22" y1="363.2" x2="182.12" y2="363.2" stroke="#111" stroke-width="1.2" stroke-linecap="butt"/>
<line x1="179.67" y1="360.75" x2="179.67" y2="365.65" stroke="#111" stroke-width="1.2" stroke-linecap="butt"/>
<line x1="48.87" y1="381.9" x2="52.47" y2="381.9" stroke="#111" stroke-width="1.2" stroke-linecap="butt"/>
<line x1="67.2" y1="381.9" x2="70.8" y2="381.9" stroke="#111" stroke-width="1.2" stroke-linecap="butt"/>
<line x1="85.53" y1="381.9" x2="89.13" y2="381.9" stroke="#111" stroke-width="1.2" stroke-linecap="butt"/>
<line x1="103.55" y1="381.8" x2="108.45" y2="381.8" stroke="#111" stroke-width="1.2" stroke-linecap="butt"/>
<line x1="106" y1="379.35" x2="106" y2="384.25" stroke="#111" stroke-width="1.2" stroke-linecap="butt"/>
<line x1="122.53" y1="381.9" x2="126.13" y2="381.9" stroke="#111" stroke-width="1.2" stroke-linecap="butt"/>
<line x1="140.87" y1="381.9" x2="144.47" y2="381.9" stroke="#111" stroke-width="1.2" stroke-linecap="butt"/>
<line x1="159.53" y1="381.9" x2="163.13" y2="381.9" stroke="#111" stroke-width="1.2" stroke-linecap="butt"/>
<line x1="177.22" y1="381.8" x2="182.12" y2="381.8" stroke="#111" stroke-width="1.2" stroke-linecap="butt"/>
<line x1="179.67" y1="379.35" x2="179.67" y2="384.25" stroke="#111" stroke-width="1.2" stroke-linecap="butt"/>
<text x="42.7" y="348.1" font-size="9.3" text-anchor="end" fill="#111">RSL3</text>
<text x="42.7" y="366.5" font-size="9.3" text-anchor="end" fill="#111"><tspan font-style="italic">USP35</tspan></text>
<text x="42.7" y="385.1" font-size="9.3" text-anchor="end" fill="#111">sh<tspan font-style="italic">FPN</tspan></text>
<line x1="46" y1="390.9" x2="108.3" y2="390.9" stroke="#111" stroke-width="1.4" stroke-linecap="butt"/>
<line x1="120" y1="390.9" x2="182.3" y2="390.9" stroke="#111" stroke-width="1.4" stroke-linecap="butt"/>
<text x="78.3" y="404.8" font-size="10.6" text-anchor="middle" fill="#111" >H460</text>
<text x="152.5" y="404.8" font-size="10.6" text-anchor="middle" fill="#111" >H1299</text>
<text x="207" y="223" font-size="12.8" text-anchor="start" fill="#111" >D</text>
<line x1="257.67" y1="260.5" x2="257.67" y2="253.5" stroke="#111" stroke-width="1.3" stroke-linecap="butt"/>
<line x1="255.47" y1="253.5" x2="259.87" y2="253.5" stroke="#111" stroke-width="1.4" stroke-linecap="butt"/>
<rect x="254.62" y="260.5" width="6.1" height="73" fill="#0a6fbe" stroke="#1f5f9c" stroke-width="0.5"/>
<line x1="276.33" y1="299.2" x2="276.33" y2="295.9" stroke="#111" stroke-width="1.3" stroke-linecap="butt"/>
<line x1="274.13" y1="295.9" x2="278.53" y2="295.9" stroke="#111" stroke-width="1.4" stroke-linecap="butt"/>
<rect x="273.28" y="299.2" width="6.1" height="34.3" fill="#0a6fbe" stroke="#1f5f9c" stroke-width="0.5"/>
<line x1="294.67" y1="274.2" x2="294.67" y2="267.2" stroke="#111" stroke-width="1.3" stroke-linecap="butt"/>
<line x1="292.47" y1="267.2" x2="296.87" y2="267.2" stroke="#111" stroke-width="1.4" stroke-linecap="butt"/>
<rect x="291.62" y="274.2" width="6.1" height="59.3" fill="#0a6fbe" stroke="#1f5f9c" stroke-width="0.5"/>
<line x1="313.33" y1="305.5" x2="313.33" y2="302.5" stroke="#111" stroke-width="1.3" stroke-linecap="butt"/>
<line x1="311.13" y1="302.5" x2="315.53" y2="302.5" stroke="#111" stroke-width="1.4" stroke-linecap="butt"/>
<rect x="310.28" y="305.5" width="6.1" height="28" fill="#0a6fbe" stroke="#1f5f9c" stroke-width="0.5"/>
<line x1="331.67" y1="260.5" x2="331.67" y2="252.5" stroke="#111" stroke-width="1.3" stroke-linecap="butt"/>
<line x1="329.47" y1="252.5" x2="333.87" y2="252.5" stroke="#111" stroke-width="1.4" stroke-linecap="butt"/>
<rect x="328.62" y="260.5" width="6.1" height="73" fill="#0a6fbe" stroke="#1f5f9c" stroke-width="0.5"/>
<line x1="350.33" y1="296.2" x2="350.33" y2="292.5" stroke="#111" stroke-width="1.3" stroke-linecap="butt"/>
<line x1="348.13" y1="292.5" x2="352.53" y2="292.5" stroke="#111" stroke-width="1.4" stroke-linecap="butt"/>
<rect x="347.28" y="296.2" width="6.1" height="37.3" fill="#0a6fbe" stroke="#1f5f9c" stroke-width="0.5"/>
<line x1="368.67" y1="272.2" x2="368.67" y2="265.9" stroke="#111" stroke-width="1.3" stroke-linecap="butt"/>
<line x1="366.47" y1="265.9" x2="370.87" y2="265.9" stroke="#111" stroke-width="1.4" stroke-linecap="butt"/>
<rect x="365.62" y="272.2" width="6.1" height="61.3" fill="#0a6fbe" stroke="#1f5f9c" stroke-width="0.5"/>
<line x1="387" y1="301.8" x2="387" y2="298.1" stroke="#111" stroke-width="1.3" stroke-linecap="butt"/>
<line x1="384.8" y1="298.1" x2="389.2" y2="298.1" stroke="#111" stroke-width="1.4" stroke-linecap="butt"/>
<rect x="383.95" y="301.8" width="6.1" height="31.7" fill="#0a6fbe" stroke="#1f5f9c" stroke-width="0.5"/>
<line x1="248.2" y1="245.5" x2="248.2" y2="334.2" stroke="#111" stroke-width="1.4" stroke-linecap="butt"/>
<line x1="247.5" y1="333.5" x2="396" y2="333.5" stroke="#111" stroke-width="1.4" stroke-linecap="butt"/>
<line x1="245.2" y1="333.5" x2="248.2" y2="333.5" stroke="#111" stroke-width="1.2" stroke-linecap="butt"/>
<text x="240.6" y="336.8" font-size="9" text-anchor="end" fill="#111" >0</text>
<line x1="245.2" y1="304.37" x2="248.2" y2="304.37" stroke="#111" stroke-width="1.2" stroke-linecap="butt"/>
<text x="240.6" y="307.67" font-size="9" text-anchor="end" fill="#111" >0.4</text>
<line x1="245.2" y1="275.23" x2="248.2" y2="275.23" stroke="#111" stroke-width="1.2" stroke-linecap="butt"/>
<text x="240.6" y="278.53" font-size="9" text-anchor="end" fill="#111" >0.8</text>
<line x1="245.2" y1="246.1" x2="248.2" y2="246.1" stroke="#111" stroke-width="1.2" stroke-linecap="butt"/>
<text x="240.6" y="249.4" font-size="9" text-anchor="end" fill="#111" >1.2</text>
<text transform="translate(222 288.1) rotate(-90) scale(1.195 1)" font-size="8.35" text-anchor="middle" fill="#111">Absorbance (450 nm)</text>
<line x1="256" y1="242.9" x2="272.83" y2="242.9" stroke="#111" stroke-width="1.6" stroke-linecap="butt"/>
<text x="264.42" y="241.9" font-size="12.4" text-anchor="middle" fill="#111" font-family="Liberation Serif, serif" style="stroke-width:.4px">*</text>
<line x1="276.67" y1="242.9" x2="293.5" y2="242.9" stroke="#111" stroke-width="1.6" stroke-linecap="butt"/>
<text x="285.08" y="241.9" font-size="12.4" text-anchor="middle" fill="#111" font-family="Liberation Serif, serif" style="stroke-width:.4px">*</text>
<line x1="297" y1="242.9" x2="313.83" y2="242.9" stroke="#111" stroke-width="1.6" stroke-linecap="butt"/>
<text x="305.42" y="241.9" font-size="12.4" text-anchor="middle" fill="#111" font-family="Liberation Serif, serif" style="stroke-width:.4px">*</text>
<line x1="329.33" y1="242.9" x2="346.17" y2="242.9" stroke="#111" stroke-width="1.6" stroke-linecap="butt"/>
<text x="337.75" y="241.9" font-size="12.4" text-anchor="middle" fill="#111" font-family="Liberation Serif, serif" style="stroke-width:.4px">*</text>
<line x1="349.67" y1="242.9" x2="366.5" y2="242.9" stroke="#111" stroke-width="1.6" stroke-linecap="butt"/>
<text x="358.08" y="241.9" font-size="12.4" text-anchor="middle" fill="#111" font-family="Liberation Serif, serif" style="stroke-width:.4px">*</text>
<line x1="370.33" y1="242.9" x2="387.17" y2="242.9" stroke="#111" stroke-width="1.6" stroke-linecap="butt"/>
<text x="378.75" y="241.9" font-size="12.4" text-anchor="middle" fill="#111" font-family="Liberation Serif, serif" style="stroke-width:.4px">*</text>
<line x1="255.87" y1="344.9" x2="259.47" y2="344.9" stroke="#111" stroke-width="1.2" stroke-linecap="butt"/>
<line x1="273.88" y1="344.8" x2="278.78" y2="344.8" stroke="#111" stroke-width="1.2" stroke-linecap="butt"/>
<line x1="276.33" y1="342.35" x2="276.33" y2="347.25" stroke="#111" stroke-width="1.2" stroke-linecap="butt"/>
<line x1="292.22" y1="344.8" x2="297.12" y2="344.8" stroke="#111" stroke-width="1.2" stroke-linecap="butt"/>
<line x1="294.67" y1="342.35" x2="294.67" y2="347.25" stroke="#111" stroke-width="1.2" stroke-linecap="butt"/>
<line x1="310.88" y1="344.8" x2="315.78" y2="344.8" stroke="#111" stroke-width="1.2" stroke-linecap="butt"/>
<line x1="313.33" y1="342.35" x2="313.33" y2="347.25" stroke="#111" stroke-width="1.2" stroke-linecap="butt"/>
<line x1="329.87" y1="344.9" x2="333.47" y2="344.9" stroke="#111" stroke-width="1.2" stroke-linecap="butt"/>
<line x1="347.88" y1="344.8" x2="352.78" y2="344.8" stroke="#111" stroke-width="1.2" stroke-linecap="butt"/>
<line x1="350.33" y1="342.35" x2="350.33" y2="347.25" stroke="#111" stroke-width="1.2" stroke-linecap="butt"/>
<line x1="366.22" y1="344.8" x2="371.12" y2="344.8" stroke="#111" stroke-width="1.2" stroke-linecap="butt"/>
<line x1="368.67" y1="342.35" x2="368.67" y2="347.25" stroke="#111" stroke-width="1.2" stroke-linecap="butt"/>
<line x1="384.55" y1="344.8" x2="389.45" y2="344.8" stroke="#111" stroke-width="1.2" stroke-linecap="butt"/>
<line x1="387" y1="342.35" x2="387" y2="347.25" stroke="#111" stroke-width="1.2" stroke-linecap="butt"/>
<line x1="255.87" y1="363.3" x2="259.47" y2="363.3" stroke="#111" stroke-width="1.2" stroke-linecap="butt"/>
<line x1="274.53" y1="363.3" x2="278.13" y2="363.3" stroke="#111" stroke-width="1.2" stroke-linecap="butt"/>
<line x1="292.22" y1="363.2" x2="297.12" y2="363.2" stroke="#111" stroke-width="1.2" stroke-linecap="butt"/>
<line x1="294.67" y1="360.75" x2="294.67" y2="365.65" stroke="#111" stroke-width="1.2" stroke-linecap="butt"/>
<line x1="310.88" y1="363.2" x2="315.78" y2="363.2" stroke="#111" stroke-width="1.2" stroke-linecap="butt"/>
<line x1="313.33" y1="360.75" x2="313.33" y2="365.65" stroke="#111" stroke-width="1.2" stroke-linecap="butt"/>
<line x1="329.87" y1="363.3" x2="333.47" y2="363.3" stroke="#111" stroke-width="1.2" stroke-linecap="butt"/>
<line x1="348.53" y1="363.3" x2="352.13" y2="363.3" stroke="#111" stroke-width="1.2" stroke-linecap="butt"/>
<line x1="366.22" y1="363.2" x2="371.12" y2="363.2" stroke="#111" stroke-width="1.2" stroke-linecap="butt"/>
<line x1="368.67" y1="360.75" x2="368.67" y2="365.65" stroke="#111" stroke-width="1.2" stroke-linecap="butt"/>
<line x1="384.55" y1="363.2" x2="389.45" y2="363.2" stroke="#111" stroke-width="1.2" stroke-linecap="butt"/>
<line x1="387" y1="360.75" x2="387" y2="365.65" stroke="#111" stroke-width="1.2" stroke-linecap="butt"/>
<line x1="255.87" y1="381.9" x2="259.47" y2="381.9" stroke="#111" stroke-width="1.2" stroke-linecap="butt"/>
<line x1="274.53" y1="381.9" x2="278.13" y2="381.9" stroke="#111" stroke-width="1.2" stroke-linecap="butt"/>
<line x1="292.87" y1="381.9" x2="296.47" y2="381.9" stroke="#111" stroke-width="1.2" stroke-linecap="butt"/>
<line x1="310.88" y1="381.8" x2="315.78" y2="381.8" stroke="#111" stroke-width="1.2" stroke-linecap="butt"/>
<line x1="313.33" y1="379.35" x2="313.33" y2="384.25" stroke="#111" stroke-width="1.2" stroke-linecap="butt"/>
<line x1="329.87" y1="381.9" x2="333.47" y2="381.9" stroke="#111" stroke-width="1.2" stroke-linecap="butt"/>
<line x1="348.53" y1="381.9" x2="352.13" y2="381.9" stroke="#111" stroke-width="1.2" stroke-linecap="butt"/>
<line x1="366.87" y1="381.9" x2="370.47" y2="381.9" stroke="#111" stroke-width="1.2" stroke-linecap="butt"/>
<line x1="384.55" y1="381.8" x2="389.45" y2="381.8" stroke="#111" stroke-width="1.2" stroke-linecap="butt"/>
<line x1="387" y1="379.35" x2="387" y2="384.25" stroke="#111" stroke-width="1.2" stroke-linecap="butt"/>
<line x1="255" y1="390.9" x2="316" y2="390.9" stroke="#111" stroke-width="1.4" stroke-linecap="butt"/>
<line x1="329" y1="390.9" x2="390" y2="390.9" stroke="#111" stroke-width="1.4" stroke-linecap="butt"/>
<text x="286.7" y="404.8" font-size="10.6" text-anchor="middle" fill="#111" >H460</text>
<text x="360.5" y="404.8" font-size="10.6" text-anchor="middle" fill="#111" >H1299</text>
<text x="412.7" y="222.5" font-size="12.8" text-anchor="start" fill="#111" >E</text>
<line x1="460.67" y1="261.2" x2="460.67" y2="252.2" stroke="#111" stroke-width="1.3" stroke-linecap="butt"/>
<line x1="458.47" y1="252.2" x2="462.87" y2="252.2" stroke="#111" stroke-width="1.4" stroke-linecap="butt"/>
<rect x="457.62" y="261.2" width="6.1" height="72.3" fill="#0a6fbe" stroke="#1f5f9c" stroke-width="0.5"/>
<line x1="479.33" y1="288.5" x2="479.33" y2="283.5" stroke="#111" stroke-width="1.3" stroke-linecap="butt"/>
<line x1="477.13" y1="283.5" x2="481.53" y2="283.5" stroke="#111" stroke-width="1.4" stroke-linecap="butt"/>
<rect x="476.28" y="288.5" width="6.1" height="45" fill="#0a6fbe" stroke="#1f5f9c" stroke-width="0.5"/>
<line x1="497.67" y1="272.5" x2="497.67" y2="265.5" stroke="#111" stroke-width="1.3" stroke-linecap="butt"/>
<line x1="495.47" y1="265.5" x2="499.87" y2="265.5" stroke="#111" stroke-width="1.4" stroke-linecap="butt"/>
<rect x="494.62" y="272.5" width="6.1" height="61" fill="#0a6fbe" stroke="#1f5f9c" stroke-width="0.5"/>
<line x1="516.33" y1="295.5" x2="516.33" y2="291.5" stroke="#111" stroke-width="1.3" stroke-linecap="butt"/>
<line x1="514.13" y1="291.5" x2="518.53" y2="291.5" stroke="#111" stroke-width="1.4" stroke-linecap="butt"/>
<rect x="513.28" y="295.5" width="6.1" height="38" fill="#0a6fbe" stroke="#1f5f9c" stroke-width="0.5"/>
<line x1="534.67" y1="291.5" x2="534.67" y2="285.8" stroke="#111" stroke-width="1.3" stroke-linecap="butt"/>
<line x1="532.47" y1="285.8" x2="536.87" y2="285.8" stroke="#111" stroke-width="1.4" stroke-linecap="butt"/>
<rect x="531.62" y="291.5" width="6.1" height="42" fill="#0a6fbe" stroke="#1f5f9c" stroke-width="0.5"/>
<line x1="553.33" y1="315.8" x2="553.33" y2="313.5" stroke="#111" stroke-width="1.3" stroke-linecap="butt"/>
<line x1="551.13" y1="313.5" x2="555.53" y2="313.5" stroke="#111" stroke-width="1.4" stroke-linecap="butt"/>
<rect x="550.28" y="315.8" width="6.1" height="17.7" fill="#0a6fbe" stroke="#1f5f9c" stroke-width="0.5"/>
<line x1="571.67" y1="301.2" x2="571.67" y2="296.9" stroke="#111" stroke-width="1.3" stroke-linecap="butt"/>
<line x1="569.47" y1="296.9" x2="573.87" y2="296.9" stroke="#111" stroke-width="1.4" stroke-linecap="butt"/>
<rect x="568.62" y="301.2" width="6.1" height="32.3" fill="#0a6fbe" stroke="#1f5f9c" stroke-width="0.5"/>
<line x1="590.33" y1="317.5" x2="590.33" y2="315.5" stroke="#111" stroke-width="1.3" stroke-linecap="butt"/>
<line x1="588.13" y1="315.5" x2="592.53" y2="315.5" stroke="#111" stroke-width="1.4" stroke-linecap="butt"/>
<rect x="587.28" y="317.5" width="6.1" height="16" fill="#0a6fbe" stroke="#1f5f9c" stroke-width="0.5"/>
<line x1="450.8" y1="245.4" x2="450.8" y2="334.2" stroke="#111" stroke-width="1.4" stroke-linecap="butt"/>
<line x1="450.1" y1="333.5" x2="600" y2="333.5" stroke="#111" stroke-width="1.4" stroke-linecap="butt"/>
<line x1="447.8" y1="333.5" x2="450.8" y2="333.5" stroke="#111" stroke-width="1.2" stroke-linecap="butt"/>
<text x="443.2" y="336.8" font-size="9" text-anchor="end" fill="#111" >0</text>
<line x1="447.8" y1="304.33" x2="450.8" y2="304.33" stroke="#111" stroke-width="1.2" stroke-linecap="butt"/>
<text x="443.2" y="307.63" font-size="9" text-anchor="end" fill="#111" >30</text>
<line x1="447.8" y1="275.17" x2="450.8" y2="275.17" stroke="#111" stroke-width="1.2" stroke-linecap="butt"/>
<text x="443.2" y="278.47" font-size="9" text-anchor="end" fill="#111" >60</text>
<line x1="447.8" y1="246" x2="450.8" y2="246" stroke="#111" stroke-width="1.2" stroke-linecap="butt"/>
<text x="443.2" y="249.3" font-size="9" text-anchor="end" fill="#111" >90</text>
<text transform="translate(430 290.2) rotate(-90) scale(1.195 1)" font-size="8.35" text-anchor="middle" fill="#111">Colony numbers</text>
<line x1="458" y1="242.9" x2="475.27" y2="242.9" stroke="#111" stroke-width="1.6" stroke-linecap="butt"/>
<text x="466.63" y="241.9" font-size="12.4" text-anchor="middle" fill="#111" font-family="Liberation Serif, serif" style="stroke-width:.4px">*</text>
<line x1="479" y1="242.9" x2="495.93" y2="242.9" stroke="#111" stroke-width="1.6" stroke-linecap="butt"/>
<text x="487.47" y="241.9" font-size="12.4" text-anchor="middle" fill="#111" font-family="Liberation Serif, serif" style="stroke-width:.4px">*</text>
<line x1="499.33" y1="242.9" x2="516.27" y2="242.9" stroke="#111" stroke-width="1.6" stroke-linecap="butt"/>
<text x="507.8" y="241.9" font-size="12.4" text-anchor="middle" fill="#111" font-family="Liberation Serif, serif" style="stroke-width:.4px">*</text>
<line x1="532.67" y1="242.9" x2="549.6" y2="242.9" stroke="#111" stroke-width="1.6" stroke-linecap="butt"/>
<text x="541.13" y="241.9" font-size="12.4" text-anchor="middle" fill="#111" font-family="Liberation Serif, serif" style="stroke-width:.4px">*</text>
<line x1="553.33" y1="242.9" x2="570.27" y2="242.9" stroke="#111" stroke-width="1.6" stroke-linecap="butt"/>
<text x="561.8" y="241.9" font-size="12.4" text-anchor="middle" fill="#111" font-family="Liberation Serif, serif" style="stroke-width:.4px">*</text>
<line x1="573.33" y1="242.9" x2="590.27" y2="242.9" stroke="#111" stroke-width="1.6" stroke-linecap="butt"/>
<text x="581.8" y="241.9" font-size="12.4" text-anchor="middle" fill="#111" font-family="Liberation Serif, serif" style="stroke-width:.4px">*</text>
<line x1="458.87" y1="344.9" x2="462.47" y2="344.9" stroke="#111" stroke-width="1.2" stroke-linecap="butt"/>
<line x1="476.88" y1="344.8" x2="481.78" y2="344.8" stroke="#111" stroke-width="1.2" stroke-linecap="butt"/>
<line x1="479.33" y1="342.35" x2="479.33" y2="347.25" stroke="#111" stroke-width="1.2" stroke-linecap="butt"/>
<line x1="495.22" y1="344.8" x2="500.12" y2="344.8" stroke="#111" stroke-width="1.2" stroke-linecap="butt"/>
<line x1="497.67" y1="342.35" x2="497.67" y2="347.25" stroke="#111" stroke-width="1.2" stroke-linecap="butt"/>
<line x1="513.88" y1="344.8" x2="518.78" y2="344.8" stroke="#111" stroke-width="1.2" stroke-linecap="butt"/>
<line x1="516.33" y1="342.35" x2="516.33" y2="347.25" stroke="#111" stroke-width="1.2" stroke-linecap="butt"/>
<line x1="532.87" y1="344.9" x2="536.47" y2="344.9" stroke="#111" stroke-width="1.2" stroke-linecap="butt"/>
<line x1="550.88" y1="344.8" x2="555.78" y2="344.8" stroke="#111" stroke-width="1.2" stroke-linecap="butt"/>
<line x1="553.33" y1="342.35" x2="553.33" y2="347.25" stroke="#111" stroke-width="1.2" stroke-linecap="butt"/>
<line x1="569.22" y1="344.8" x2="574.12" y2="344.8" stroke="#111" stroke-width="1.2" stroke-linecap="butt"/>
<line x1="571.67" y1="342.35" x2="571.67" y2="347.25" stroke="#111" stroke-width="1.2" stroke-linecap="butt"/>
<line x1="587.88" y1="344.8" x2="592.78" y2="344.8" stroke="#111" stroke-width="1.2" stroke-linecap="butt"/>
<line x1="590.33" y1="342.35" x2="590.33" y2="347.25" stroke="#111" stroke-width="1.2" stroke-linecap="butt"/>
<line x1="458.87" y1="363.3" x2="462.47" y2="363.3" stroke="#111" stroke-width="1.2" stroke-linecap="butt"/>
<line x1="477.53" y1="363.3" x2="481.13" y2="363.3" stroke="#111" stroke-width="1.2" stroke-linecap="butt"/>
<line x1="495.22" y1="363.2" x2="500.12" y2="363.2" stroke="#111" stroke-width="1.2" stroke-linecap="butt"/>
<line x1="497.67" y1="360.75" x2="497.67" y2="365.65" stroke="#111" stroke-width="1.2" stroke-linecap="butt"/>
<line x1="513.88" y1="363.2" x2="518.78" y2="363.2" stroke="#111" stroke-width="1.2" stroke-linecap="butt"/>
<line x1="516.33" y1="360.75" x2="516.33" y2="365.65" stroke="#111" stroke-width="1.2" stroke-linecap="butt"/>
<line x1="532.87" y1="363.3" x2="536.47" y2="363.3" stroke="#111" stroke-width="1.2" stroke-linecap="butt"/>
<line x1="551.53" y1="363.3" x2="555.13" y2="363.3" stroke="#111" stroke-width="1.2" stroke-linecap="butt"/>
<line x1="569.22" y1="363.2" x2="574.12" y2="363.2" stroke="#111" stroke-width="1.2" stroke-linecap="butt"/>
<line x1="571.67" y1="360.75" x2="571.67" y2="365.65" stroke="#111" stroke-width="1.2" stroke-linecap="butt"/>
<line x1="587.88" y1="363.2" x2="592.78" y2="363.2" stroke="#111" stroke-width="1.2" stroke-linecap="butt"/>
<line x1="590.33" y1="360.75" x2="590.33" y2="365.65" stroke="#111" stroke-width="1.2" stroke-linecap="butt"/>
<line x1="458.87" y1="381.9" x2="462.47" y2="381.9" stroke="#111" stroke-width="1.2" stroke-linecap="butt"/>
<line x1="477.53" y1="381.9" x2="481.13" y2="381.9" stroke="#111" stroke-width="1.2" stroke-linecap="butt"/>
<line x1="495.87" y1="381.9" x2="499.47" y2="381.9" stroke="#111" stroke-width="1.2" stroke-linecap="butt"/>
<line x1="513.88" y1="381.8" x2="518.78" y2="381.8" stroke="#111" stroke-width="1.2" stroke-linecap="butt"/>
<line x1="516.33" y1="379.35" x2="516.33" y2="384.25" stroke="#111" stroke-width="1.2" stroke-linecap="butt"/>
<line x1="532.87" y1="381.9" x2="536.47" y2="381.9" stroke="#111" stroke-width="1.2" stroke-linecap="butt"/>
<line x1="551.53" y1="381.9" x2="555.13" y2="381.9" stroke="#111" stroke-width="1.2" stroke-linecap="butt"/>
<line x1="569.87" y1="381.9" x2="573.47" y2="381.9" stroke="#111" stroke-width="1.2" stroke-linecap="butt"/>
<line x1="587.88" y1="381.8" x2="592.78" y2="381.8" stroke="#111" stroke-width="1.2" stroke-linecap="butt"/>
<line x1="590.33" y1="379.35" x2="590.33" y2="384.25" stroke="#111" stroke-width="1.2" stroke-linecap="butt"/>
<line x1="458.3" y1="390.9" x2="519.3" y2="390.9" stroke="#111" stroke-width="1.4" stroke-linecap="butt"/>
<line x1="532.7" y1="390.9" x2="594" y2="390.9" stroke="#111" stroke-width="1.4" stroke-linecap="butt"/>
<text x="490" y="404.8" font-size="10.6" text-anchor="middle" fill="#111" >H460</text>
<text x="564.5" y="404.8" font-size="10.6" text-anchor="middle" fill="#111" >H1299</text>
<text x="296.9" y="431.5" font-size="12.8" text-anchor="start" fill="#111" >G</text>
<line x1="358" y1="474.8" x2="358" y2="467.5" stroke="#111" stroke-width="1.3" stroke-linecap="butt"/>
<line x1="355.8" y1="467.5" x2="360.2" y2="467.5" stroke="#111" stroke-width="1.4" stroke-linecap="butt"/>
<rect x="354.95" y="474.8" width="6.1" height="70.3" fill="#0a6fbe" stroke="#1f5f9c" stroke-width="0.5"/>
<line x1="376.33" y1="503.8" x2="376.33" y2="499.5" stroke="#111" stroke-width="1.3" stroke-linecap="butt"/>
<line x1="374.13" y1="499.5" x2="378.53" y2="499.5" stroke="#111" stroke-width="1.4" stroke-linecap="butt"/>
<rect x="373.28" y="503.8" width="6.1" height="41.3" fill="#0a6fbe" stroke="#1f5f9c" stroke-width="0.5"/>
<line x1="394.33" y1="483.8" x2="394.33" y2="477.1" stroke="#111" stroke-width="1.3" stroke-linecap="butt"/>
<line x1="392.13" y1="477.1" x2="396.53" y2="477.1" stroke="#111" stroke-width="1.4" stroke-linecap="butt"/>
<rect x="391.28" y="483.8" width="6.1" height="61.3" fill="#0a6fbe" stroke="#1f5f9c" stroke-width="0.5"/>
<line x1="412.33" y1="512.4" x2="412.33" y2="508.4" stroke="#111" stroke-width="1.3" stroke-linecap="butt"/>
<line x1="410.13" y1="508.4" x2="414.53" y2="508.4" stroke="#111" stroke-width="1.4" stroke-linecap="butt"/>
<rect x="409.28" y="512.4" width="6.1" height="32.7" fill="#0a6fbe" stroke="#1f5f9c" stroke-width="0.5"/>
<line x1="431" y1="498.4" x2="431" y2="493.4" stroke="#111" stroke-width="1.3" stroke-linecap="butt"/>
<line x1="428.8" y1="493.4" x2="433.2" y2="493.4" stroke="#111" stroke-width="1.4" stroke-linecap="butt"/>
<rect x="427.95" y="498.4" width="6.1" height="46.7" fill="#0a6fbe" stroke="#1f5f9c" stroke-width="0.5"/>
<line x1="449" y1="521.8" x2="449" y2="518.8" stroke="#111" stroke-width="1.3" stroke-linecap="butt"/>
<line x1="446.8" y1="518.8" x2="451.2" y2="518.8" stroke="#111" stroke-width="1.4" stroke-linecap="butt"/>
<rect x="445.95" y="521.8" width="6.1" height="23.3" fill="#0a6fbe" stroke="#1f5f9c" stroke-width="0.5"/>
<line x1="467.33" y1="510.1" x2="467.33" y2="505.8" stroke="#111" stroke-width="1.3" stroke-linecap="butt"/>
<line x1="465.13" y1="505.8" x2="469.53" y2="505.8" stroke="#111" stroke-width="1.4" stroke-linecap="butt"/>
<rect x="464.28" y="510.1" width="6.1" height="35" fill="#0a6fbe" stroke="#1f5f9c" stroke-width="0.5"/>
<line x1="485.67" y1="527.4" x2="485.67" y2="525.1" stroke="#111" stroke-width="1.3" stroke-linecap="butt"/>
<line x1="483.47" y1="525.1" x2="487.87" y2="525.1" stroke="#111" stroke-width="1.4" stroke-linecap="butt"/>
<rect x="482.62" y="527.4" width="6.1" height="17.7" fill="#0a6fbe" stroke="#1f5f9c" stroke-width="0.5"/>
<line x1="348.4" y1="457" x2="348.4" y2="545.8" stroke="#111" stroke-width="1.4" stroke-linecap="butt"/>
<line x1="347.7" y1="545.1" x2="494" y2="545.1" stroke="#111" stroke-width="1.4" stroke-linecap="butt"/>
<line x1="345.4" y1="545.1" x2="348.4" y2="545.1" stroke="#111" stroke-width="1.2" stroke-linecap="butt"/>
<text x="340.8" y="548.4" font-size="9" text-anchor="end" fill="#111" >0</text>
<line x1="345.4" y1="523.23" x2="348.4" y2="523.23" stroke="#111" stroke-width="1.2" stroke-linecap="butt"/>
<text x="340.8" y="526.52" font-size="9" text-anchor="end" fill="#111" >60</text>
<line x1="345.4" y1="501.35" x2="348.4" y2="501.35" stroke="#111" stroke-width="1.2" stroke-linecap="butt"/>
<text x="340.8" y="504.65" font-size="9" text-anchor="end" fill="#111" >120</text>
<line x1="345.4" y1="479.48" x2="348.4" y2="479.48" stroke="#111" stroke-width="1.2" stroke-linecap="butt"/>
<text x="340.8" y="482.78" font-size="9" text-anchor="end" fill="#111" >180</text>
<line x1="345.4" y1="457.6" x2="348.4" y2="457.6" stroke="#111" stroke-width="1.2" stroke-linecap="butt"/>
<text x="340.8" y="460.9" font-size="9" text-anchor="end" fill="#111" >240</text>
<text transform="translate(318.3 501.9) rotate(-90) scale(1.195 1)" font-size="8.35" text-anchor="middle" fill="#111">Tumor volume (mm<tspan font-size="5.6" dy="-3.2">3</tspan><tspan dy="3.2">)</tspan></text>
<line x1="355.3" y1="454.4" x2="371.7" y2="454.4" stroke="#111" stroke-width="1.6" stroke-linecap="butt"/>
<text x="363.5" y="452.8" font-size="12.4" text-anchor="middle" fill="#111" font-family="Liberation Serif, serif" style="stroke-width:.4px">*</text>
<line x1="376.2" y1="454.4" x2="392.5" y2="454.4" stroke="#111" stroke-width="1.6" stroke-linecap="butt"/>
<text x="384.35" y="452.8" font-size="12.4" text-anchor="middle" fill="#111" font-family="Liberation Serif, serif" style="stroke-width:.4px">*</text>
<line x1="396.2" y1="454.4" x2="412.5" y2="454.4" stroke="#111" stroke-width="1.6" stroke-linecap="butt"/>
<text x="404.35" y="452.8" font-size="12.4" text-anchor="middle" fill="#111" font-family="Liberation Serif, serif" style="stroke-width:.4px">*</text>
<line x1="428.3" y1="454.4" x2="445" y2="454.4" stroke="#111" stroke-width="1.6" stroke-linecap="butt"/>
<text x="436.65" y="452.8" font-size="12.4" text-anchor="middle" fill="#111" font-family="Liberation Serif, serif" style="stroke-width:.4px">*</text>
<line x1="449.2" y1="454.4" x2="465.5" y2="454.4" stroke="#111" stroke-width="1.6" stroke-linecap="butt"/>
<text x="457.35" y="452.8" font-size="12.4" text-anchor="middle" fill="#111" font-family="Liberation Serif, serif" style="stroke-width:.4px">*</text>
<line x1="469.2" y1="454.4" x2="485.8" y2="454.4" stroke="#111" stroke-width="1.6" stroke-linecap="butt"/>
<text x="477.5" y="452.8" font-size="12.4" text-anchor="middle" fill="#111" font-family="Liberation Serif, serif" style="stroke-width:.4px">*</text>
<line x1="356.2" y1="555.9" x2="359.8" y2="555.9" stroke="#111" stroke-width="1.2" stroke-linecap="butt"/>
<line x1="373.88" y1="555.8" x2="378.78" y2="555.8" stroke="#111" stroke-width="1.2" stroke-linecap="butt"/>
<line x1="376.33" y1="553.35" x2="376.33" y2="558.25" stroke="#111" stroke-width="1.2" stroke-linecap="butt"/>
<line x1="391.88" y1="555.8" x2="396.78" y2="555.8" stroke="#111" stroke-width="1.2" stroke-linecap="butt"/>
<line x1="394.33" y1="553.35" x2="394.33" y2="558.25" stroke="#111" stroke-width="1.2" stroke-linecap="butt"/>
<line x1="409.88" y1="555.8" x2="414.78" y2="555.8" stroke="#111" stroke-width="1.2" stroke-linecap="butt"/>
<line x1="412.33" y1="553.35" x2="412.33" y2="558.25" stroke="#111" stroke-width="1.2" stroke-linecap="butt"/>
<line x1="429.2" y1="555.9" x2="432.8" y2="555.9" stroke="#111" stroke-width="1.2" stroke-linecap="butt"/>
<line x1="446.55" y1="555.8" x2="451.45" y2="555.8" stroke="#111" stroke-width="1.2" stroke-linecap="butt"/>
<line x1="449" y1="553.35" x2="449" y2="558.25" stroke="#111" stroke-width="1.2" stroke-linecap="butt"/>
<line x1="464.88" y1="555.8" x2="469.78" y2="555.8" stroke="#111" stroke-width="1.2" stroke-linecap="butt"/>
<line x1="467.33" y1="553.35" x2="467.33" y2="558.25" stroke="#111" stroke-width="1.2" stroke-linecap="butt"/>
<line x1="483.22" y1="555.8" x2="488.12" y2="555.8" stroke="#111" stroke-width="1.2" stroke-linecap="butt"/>
<line x1="485.67" y1="553.35" x2="485.67" y2="558.25" stroke="#111" stroke-width="1.2" stroke-linecap="butt"/>
<line x1="356.2" y1="574.3" x2="359.8" y2="574.3" stroke="#111" stroke-width="1.2" stroke-linecap="butt"/>
<line x1="374.53" y1="574.3" x2="378.13" y2="574.3" stroke="#111" stroke-width="1.2" stroke-linecap="butt"/>
<line x1="391.88" y1="574.2" x2="396.78" y2="574.2" stroke="#111" stroke-width="1.2" stroke-linecap="butt"/>
<line x1="394.33" y1="571.75" x2="394.33" y2="576.65" stroke="#111" stroke-width="1.2" stroke-linecap="butt"/>
<line x1="409.88" y1="574.2" x2="414.78" y2="574.2" stroke="#111" stroke-width="1.2" stroke-linecap="butt"/>
<line x1="412.33" y1="571.75" x2="412.33" y2="576.65" stroke="#111" stroke-width="1.2" stroke-linecap="butt"/>
<line x1="429.2" y1="574.3" x2="432.8" y2="574.3" stroke="#111" stroke-width="1.2" stroke-linecap="butt"/>
<line x1="447.2" y1="574.3" x2="450.8" y2="574.3" stroke="#111" stroke-width="1.2" stroke-linecap="butt"/>
<line x1="464.88" y1="574.2" x2="469.78" y2="574.2" stroke="#111" stroke-width="1.2" stroke-linecap="butt"/>
<line x1="467.33" y1="571.75" x2="467.33" y2="576.65" stroke="#111" stroke-width="1.2" stroke-linecap="butt"/>
<line x1="483.22" y1="574.2" x2="488.12" y2="574.2" stroke="#111" stroke-width="1.2" stroke-linecap="butt"/>
<line x1="485.67" y1="571.75" x2="485.67" y2="576.65" stroke="#111" stroke-width="1.2" stroke-linecap="butt"/>
<line x1="356.2" y1="592.9" x2="359.8" y2="592.9" stroke="#111" stroke-width="1.2" stroke-linecap="butt"/>
<line x1="374.53" y1="592.9" x2="378.13" y2="592.9" stroke="#111" stroke-width="1.2" stroke-linecap="butt"/>
<line x1="392.53" y1="592.9" x2="396.13" y2="592.9" stroke="#111" stroke-width="1.2" stroke-linecap="butt"/>
<line x1="409.88" y1="592.8" x2="414.78" y2="592.8" stroke="#111" stroke-width="1.2" stroke-linecap="butt"/>
<line x1="412.33" y1="590.35" x2="412.33" y2="595.25" stroke="#111" stroke-width="1.2" stroke-linecap="butt"/>
<line x1="429.2" y1="592.9" x2="432.8" y2="592.9" stroke="#111" stroke-width="1.2" stroke-linecap="butt"/>
<line x1="447.2" y1="592.9" x2="450.8" y2="592.9" stroke="#111" stroke-width="1.2" stroke-linecap="butt"/>
<line x1="465.53" y1="592.9" x2="469.13" y2="592.9" stroke="#111" stroke-width="1.2" stroke-linecap="butt"/>
<line x1="483.22" y1="592.8" x2="488.12" y2="592.8" stroke="#111" stroke-width="1.2" stroke-linecap="butt"/>
<line x1="485.67" y1="590.35" x2="485.67" y2="595.25" stroke="#111" stroke-width="1.2" stroke-linecap="butt"/>
<text x="349" y="559.1" font-size="9.3" text-anchor="end" fill="#111">RSL3</text>
<text x="349" y="577.5" font-size="9.3" text-anchor="end" fill="#111"><tspan font-style="italic">USP35</tspan></text>
<text x="349" y="596.1" font-size="9.3" text-anchor="end" fill="#111">sh<tspan font-style="italic">FPN</tspan></text>
<line x1="353.3" y1="602.2" x2="415" y2="602.2" stroke="#111" stroke-width="1.4" stroke-linecap="butt"/>
<line x1="427.7" y1="602.2" x2="489.3" y2="602.2" stroke="#111" stroke-width="1.4" stroke-linecap="butt"/>
<text x="385.5" y="616.2" font-size="10.6" text-anchor="middle" fill="#111" >H460</text>
<text x="459.5" y="616.2" font-size="10.6" text-anchor="middle" fill="#111" >H1299</text>
<text x="0.5" y="608.1" font-size="12.8" text-anchor="start" fill="#111" >H</text>
<line x1="57.67" y1="647.6" x2="57.67" y2="639.3" stroke="#111" stroke-width="1.3" stroke-linecap="butt"/>
<line x1="55.47" y1="639.3" x2="59.87" y2="639.3" stroke="#111" stroke-width="1.4" stroke-linecap="butt"/>
<rect x="54.62" y="647.6" width="6.1" height="74" fill="#0a6fbe" stroke="#1f5f9c" stroke-width="0.5"/>
<line x1="76.33" y1="687.3" x2="76.33" y2="683.6" stroke="#111" stroke-width="1.3" stroke-linecap="butt"/>
<line x1="74.13" y1="683.6" x2="78.53" y2="683.6" stroke="#111" stroke-width="1.4" stroke-linecap="butt"/>
<rect x="73.28" y="687.3" width="6.1" height="34.3" fill="#0a6fbe" stroke="#1f5f9c" stroke-width="0.5"/>
<line x1="94.67" y1="661.6" x2="94.67" y2="655.9" stroke="#111" stroke-width="1.3" stroke-linecap="butt"/>
<line x1="92.47" y1="655.9" x2="96.87" y2="655.9" stroke="#111" stroke-width="1.4" stroke-linecap="butt"/>
<rect x="91.62" y="661.6" width="6.1" height="60" fill="#0a6fbe" stroke="#1f5f9c" stroke-width="0.5"/>
<line x1="113.33" y1="692.6" x2="113.33" y2="689.9" stroke="#111" stroke-width="1.3" stroke-linecap="butt"/>
<line x1="111.13" y1="689.9" x2="115.53" y2="689.9" stroke="#111" stroke-width="1.4" stroke-linecap="butt"/>
<rect x="110.28" y="692.6" width="6.1" height="29" fill="#0a6fbe" stroke="#1f5f9c" stroke-width="0.5"/>
<line x1="131.67" y1="677.6" x2="131.67" y2="672.3" stroke="#111" stroke-width="1.3" stroke-linecap="butt"/>
<line x1="129.47" y1="672.3" x2="133.87" y2="672.3" stroke="#111" stroke-width="1.4" stroke-linecap="butt"/>
<rect x="128.62" y="677.6" width="6.1" height="44" fill="#0a6fbe" stroke="#1f5f9c" stroke-width="0.5"/>
<line x1="150.33" y1="702.9" x2="150.33" y2="700.6" stroke="#111" stroke-width="1.3" stroke-linecap="butt"/>
<line x1="148.13" y1="700.6" x2="152.53" y2="700.6" stroke="#111" stroke-width="1.4" stroke-linecap="butt"/>
<rect x="147.28" y="702.9" width="6.1" height="18.7" fill="#0a6fbe" stroke="#1f5f9c" stroke-width="0.5"/>
<line x1="168.67" y1="682.9" x2="168.67" y2="678.2" stroke="#111" stroke-width="1.3" stroke-linecap="butt"/>
<line x1="166.47" y1="678.2" x2="170.87" y2="678.2" stroke="#111" stroke-width="1.4" stroke-linecap="butt"/>
<rect x="165.62" y="682.9" width="6.1" height="38.7" fill="#0a6fbe" stroke="#1f5f9c" stroke-width="0.5"/>
<line x1="187" y1="705.6" x2="187" y2="703.6" stroke="#111" stroke-width="1.3" stroke-linecap="butt"/>
<line x1="184.8" y1="703.6" x2="189.2" y2="703.6" stroke="#111" stroke-width="1.4" stroke-linecap="butt"/>
<rect x="183.95" y="705.6" width="6.1" height="16" fill="#0a6fbe" stroke="#1f5f9c" stroke-width="0.5"/>
<line x1="48.1" y1="633.1" x2="48.1" y2="722.3" stroke="#111" stroke-width="1.4" stroke-linecap="butt"/>
<line x1="47.4" y1="721.6" x2="196" y2="721.6" stroke="#111" stroke-width="1.4" stroke-linecap="butt"/>
<line x1="45.1" y1="721.6" x2="48.1" y2="721.6" stroke="#111" stroke-width="1.2" stroke-linecap="butt"/>
<text x="40.5" y="724.9" font-size="9" text-anchor="end" fill="#111" >0</text>
<line x1="45.1" y1="692.3" x2="48.1" y2="692.3" stroke="#111" stroke-width="1.2" stroke-linecap="butt"/>
<text x="40.5" y="695.6" font-size="9" text-anchor="end" fill="#111" >40</text>
<line x1="45.1" y1="663" x2="48.1" y2="663" stroke="#111" stroke-width="1.2" stroke-linecap="butt"/>
<text x="40.5" y="666.3" font-size="9" text-anchor="end" fill="#111" >80</text>
<line x1="45.1" y1="633.7" x2="48.1" y2="633.7" stroke="#111" stroke-width="1.2" stroke-linecap="butt"/>
<text x="40.5" y="637" font-size="9" text-anchor="end" fill="#111" >120</text>
<text transform="translate(21.9 678.7) rotate(-90) scale(1.195 1)" font-size="8.35" text-anchor="middle" fill="#111">Tumor weight (mg)</text>
<line x1="55.33" y1="630.9" x2="71.37" y2="630.9" stroke="#111" stroke-width="1.6" stroke-linecap="butt"/>
<text x="63.35" y="629" font-size="12.4" text-anchor="middle" fill="#111" font-family="Liberation Serif, serif" style="stroke-width:.4px">*</text>
<line x1="76.67" y1="630.9" x2="92.7" y2="630.9" stroke="#111" stroke-width="1.6" stroke-linecap="butt"/>
<text x="84.68" y="629" font-size="12.4" text-anchor="middle" fill="#111" font-family="Liberation Serif, serif" style="stroke-width:.4px">*</text>
<line x1="97" y1="630.9" x2="113.03" y2="630.9" stroke="#111" stroke-width="1.6" stroke-linecap="butt"/>
<text x="105.02" y="629" font-size="12.4" text-anchor="middle" fill="#111" font-family="Liberation Serif, serif" style="stroke-width:.4px">*</text>
<line x1="129.33" y1="630.9" x2="145.37" y2="630.9" stroke="#111" stroke-width="1.6" stroke-linecap="butt"/>
<text x="137.35" y="629" font-size="12.4" text-anchor="middle" fill="#111" font-family="Liberation Serif, serif" style="stroke-width:.4px">*</text>
<line x1="149.67" y1="630.9" x2="165.7" y2="630.9" stroke="#111" stroke-width="1.6" stroke-linecap="butt"/>
<text x="157.68" y="629" font-size="12.4" text-anchor="middle" fill="#111" font-family="Liberation Serif, serif" style="stroke-width:.4px">*</text>
<line x1="170.33" y1="630.9" x2="186.37" y2="630.9" stroke="#111" stroke-width="1.6" stroke-linecap="butt"/>
<text x="178.35" y="629" font-size="12.4" text-anchor="middle" fill="#111" font-family="Liberation Serif, serif" style="stroke-width:.4px">*</text>
<line x1="55.87" y1="731.5" x2="59.47" y2="731.5" stroke="#111" stroke-width="1.2" stroke-linecap="butt"/>
<line x1="73.88" y1="731.4" x2="78.78" y2="731.4" stroke="#111" stroke-width="1.2" stroke-linecap="butt"/>
<line x1="76.33" y1="728.95" x2="76.33" y2="733.85" stroke="#111" stroke-width="1.2" stroke-linecap="butt"/>
<line x1="92.22" y1="731.4" x2="97.12" y2="731.4" stroke="#111" stroke-width="1.2" stroke-linecap="butt"/>
<line x1="94.67" y1="728.95" x2="94.67" y2="733.85" stroke="#111" stroke-width="1.2" stroke-linecap="butt"/>
<line x1="110.88" y1="731.4" x2="115.78" y2="731.4" stroke="#111" stroke-width="1.2" stroke-linecap="butt"/>
<line x1="113.33" y1="728.95" x2="113.33" y2="733.85" stroke="#111" stroke-width="1.2" stroke-linecap="butt"/>
<line x1="129.87" y1="731.5" x2="133.47" y2="731.5" stroke="#111" stroke-width="1.2" stroke-linecap="butt"/>
<line x1="147.88" y1="731.4" x2="152.78" y2="731.4" stroke="#111" stroke-width="1.2" stroke-linecap="butt"/>
<line x1="150.33" y1="728.95" x2="150.33" y2="733.85" stroke="#111" stroke-width="1.2" stroke-linecap="butt"/>
<line x1="166.22" y1="731.4" x2="171.12" y2="731.4" stroke="#111" stroke-width="1.2" stroke-linecap="butt"/>
<line x1="168.67" y1="728.95" x2="168.67" y2="733.85" stroke="#111" stroke-width="1.2" stroke-linecap="butt"/>
<line x1="184.55" y1="731.4" x2="189.45" y2="731.4" stroke="#111" stroke-width="1.2" stroke-linecap="butt"/>
<line x1="187" y1="728.95" x2="187" y2="733.85" stroke="#111" stroke-width="1.2" stroke-linecap="butt"/>
<line x1="55.87" y1="750.2" x2="59.47" y2="750.2" stroke="#111" stroke-width="1.2" stroke-linecap="butt"/>
<line x1="74.53" y1="750.2" x2="78.13" y2="750.2" stroke="#111" stroke-width="1.2" stroke-linecap="butt"/>
<line x1="92.22" y1="750.1" x2="97.12" y2="750.1" stroke="#111" stroke-width="1.2" stroke-linecap="butt"/>
<line x1="94.67" y1="747.65" x2="94.67" y2="752.55" stroke="#111" stroke-width="1.2" stroke-linecap="butt"/>
<line x1="110.88" y1="750.1" x2="115.78" y2="750.1" stroke="#111" stroke-width="1.2" stroke-linecap="butt"/>
<line x1="113.33" y1="747.65" x2="113.33" y2="752.55" stroke="#111" stroke-width="1.2" stroke-linecap="butt"/>
<line x1="129.87" y1="750.2" x2="133.47" y2="750.2" stroke="#111" stroke-width="1.2" stroke-linecap="butt"/>
<line x1="148.53" y1="750.2" x2="152.13" y2="750.2" stroke="#111" stroke-width="1.2" stroke-linecap="butt"/>
<line x1="166.22" y1="750.1" x2="171.12" y2="750.1" stroke="#111" stroke-width="1.2" stroke-linecap="butt"/>
<line x1="168.67" y1="747.65" x2="168.67" y2="752.55" stroke="#111" stroke-width="1.2" stroke-linecap="butt"/>
<line x1="184.55" y1="750.1" x2="189.45" y2="750.1" stroke="#111" stroke-width="1.2" stroke-linecap="butt"/>
<line x1="187" y1="747.65" x2="187" y2="752.55" stroke="#111" stroke-width="1.2" stroke-linecap="butt"/>
<line x1="55.87" y1="768.5" x2="59.47" y2="768.5" stroke="#111" stroke-width="1.2" stroke-linecap="butt"/>
<line x1="74.53" y1="768.5" x2="78.13" y2="768.5" stroke="#111" stroke-width="1.2" stroke-linecap="butt"/>
<line x1="92.87" y1="768.5" x2="96.47" y2="768.5" stroke="#111" stroke-width="1.2" stroke-linecap="butt"/>
<line x1="110.88" y1="768.4" x2="115.78" y2="768.4" stroke="#111" stroke-width="1.2" stroke-linecap="butt"/>
<line x1="113.33" y1="765.95" x2="113.33" y2="770.85" stroke="#111" stroke-width="1.2" stroke-linecap="butt"/>
<line x1="129.87" y1="768.5" x2="133.47" y2="768.5" stroke="#111" stroke-width="1.2" stroke-linecap="butt"/>
<line x1="148.53" y1="768.5" x2="152.13" y2="768.5" stroke="#111" stroke-width="1.2" stroke-linecap="butt"/>
<line x1="166.87" y1="768.5" x2="170.47" y2="768.5" stroke="#111" stroke-width="1.2" stroke-linecap="butt"/>
<line x1="184.55" y1="768.4" x2="189.45" y2="768.4" stroke="#111" stroke-width="1.2" stroke-linecap="butt"/>
<line x1="187" y1="765.95" x2="187" y2="770.85" stroke="#111" stroke-width="1.2" stroke-linecap="butt"/>
<text x="52.5" y="734.7" font-size="9.3" text-anchor="end" fill="#111">RSL3</text>
<text x="52.5" y="753.4" font-size="9.3" text-anchor="end" fill="#111"><tspan font-style="italic">USP35</tspan></text>
<text x="52.5" y="771.7" font-size="9.3" text-anchor="end" fill="#111">sh<tspan font-style="italic">FPN</tspan></text>
<line x1="55" y1="778.5" x2="116.7" y2="778.5" stroke="#111" stroke-width="1.4" stroke-linecap="butt"/>
<line x1="129.7" y1="778.5" x2="190.8" y2="778.5" stroke="#111" stroke-width="1.4" stroke-linecap="butt"/>
<text x="86.3" y="793.4" font-size="10.6" text-anchor="middle" fill="#111" >H460</text>
<text x="161.7" y="793.4" font-size="10.6" text-anchor="middle" fill="#111" >H1299</text>
<line x1="464.9" y1="712.1" x2="464.9" y2="708.8" stroke="#111" stroke-width="1.3" stroke-linecap="butt"/>
<line x1="462.7" y1="708.8" x2="467.1" y2="708.8" stroke="#111" stroke-width="1.4" stroke-linecap="butt"/>
<rect x="461.9" y="712.1" width="6" height="29.1" fill="#0a6fbe" stroke="#1f5f9c" stroke-width="0.5"/>
<line x1="477.9" y1="678.93" x2="477.9" y2="672.23" stroke="#111" stroke-width="1.3" stroke-linecap="butt"/>
<line x1="475.7" y1="672.23" x2="480.1" y2="672.23" stroke="#111" stroke-width="1.4" stroke-linecap="butt"/>
<rect x="474.9" y="678.93" width="6" height="62.27" fill="#0a6fbe" stroke="#1f5f9c" stroke-width="0.5"/>
<line x1="503.3" y1="712.1" x2="503.3" y2="708.8" stroke="#111" stroke-width="1.3" stroke-linecap="butt"/>
<line x1="501.1" y1="708.8" x2="505.5" y2="708.8" stroke="#111" stroke-width="1.4" stroke-linecap="butt"/>
<rect x="500.3" y="712.1" width="6" height="29.1" fill="#0a6fbe" stroke="#1f5f9c" stroke-width="0.5"/>
<line x1="515.9" y1="667.58" x2="515.9" y2="659.88" stroke="#111" stroke-width="1.3" stroke-linecap="butt"/>
<line x1="513.7" y1="659.88" x2="518.1" y2="659.88" stroke="#111" stroke-width="1.4" stroke-linecap="butt"/>
<rect x="512.9" y="667.58" width="6" height="73.62" fill="#0a6fbe" stroke="#1f5f9c" stroke-width="0.5"/>
<line x1="459" y1="653.6" x2="459" y2="741.9" stroke="#111" stroke-width="1.4" stroke-linecap="butt"/>
<line x1="458.3" y1="741.2" x2="521" y2="741.2" stroke="#111" stroke-width="1.4" stroke-linecap="butt"/>
<line x1="456" y1="741.2" x2="459" y2="741.2" stroke="#111" stroke-width="1.2" stroke-linecap="butt"/>
<text x="451.4" y="744.5" font-size="9" text-anchor="end" fill="#111" >0</text>
<line x1="456" y1="712.2" x2="459" y2="712.2" stroke="#111" stroke-width="1.2" stroke-linecap="butt"/>
<text x="451.4" y="715.5" font-size="9" text-anchor="end" fill="#111" >1</text>
<line x1="456" y1="683.2" x2="459" y2="683.2" stroke="#111" stroke-width="1.2" stroke-linecap="butt"/>
<text x="451.4" y="686.5" font-size="9" text-anchor="end" fill="#111" >2</text>
<line x1="456" y1="654.2" x2="459" y2="654.2" stroke="#111" stroke-width="1.2" stroke-linecap="butt"/>
<text x="451.4" y="657.5" font-size="9" text-anchor="end" fill="#111" >3</text>
<text transform="translate(441.9 696.7) rotate(-90) scale(1.195 1)" font-size="8.35" text-anchor="middle" fill="#111">FPN/Na<tspan font-size="5.6" dy="-3.2">+</tspan><tspan dy="3.2">-K</tspan><tspan font-size="5.6" dy="-3.2">+</tspan><tspan dy="3.2"> ATPase</tspan></text>
<line x1="464.3" y1="652.5" x2="477.4" y2="652.5" stroke="#111" stroke-width="1.6" stroke-linecap="butt"/>
<text x="470.85" y="650.3" font-size="12.4" text-anchor="middle" fill="#111" font-family="Liberation Serif, serif" style="stroke-width:.4px">*</text>
<line x1="502.8" y1="652.5" x2="516" y2="652.5" stroke="#111" stroke-width="1.6" stroke-linecap="butt"/>
<text x="509.4" y="650.3" font-size="12.4" text-anchor="middle" fill="#111" font-family="Liberation Serif, serif" style="stroke-width:.4px">*</text>
<text x="468.1" y="744.6" font-size="8.9" text-anchor="end" transform="rotate(-90 468.1 744.6)" fill="#111" >ANT</text>
<text x="481.1" y="744.6" font-size="8.9" text-anchor="end" transform="rotate(-90 481.1 744.6)" fill="#111" >ADC</text>
<text x="506.5" y="744.6" font-size="8.9" text-anchor="end" transform="rotate(-90 506.5 744.6)" fill="#111" >ANT</text>
<text x="519.1" y="744.6" font-size="8.9" text-anchor="end" transform="rotate(-90 519.1 744.6)" fill="#111" >SCC</text>
<text x="0.9" y="431.7" font-size="12.8" text-anchor="start" fill="#111" >F</text>
<text x="57" y="445.4" font-size="9.9" text-anchor="middle" fill="#111" >Vehicle</text>
<line x1="35" y1="449.9" x2="78.7" y2="449.9" stroke="#111" stroke-width="1.5" stroke-linecap="butt"/>
<text x="172.8" y="445.4" font-size="9.9" text-anchor="middle" fill="#111" >RSL3</text>
<line x1="97" y1="449.9" x2="246" y2="449.9" stroke="#111" stroke-width="1.5" stroke-linecap="butt"/>
<text x="57.2" y="462.4" font-size="9.9" text-anchor="middle" font-style="italic" fill="#111" >CTRL</text>
<text x="115.3" y="462.4" font-size="9.9" text-anchor="middle" font-style="italic" fill="#111" >CTRL</text>
<text x="172.8" y="462.4" font-size="9.9" text-anchor="middle" font-style="italic" fill="#111" >USP35</text>
<text x="230.8" y="462.4" font-size="9.9" text-anchor="middle" fill="#111"><tspan font-style="italic">USP35</tspan>+sh<tspan font-style="italic">FPN</tspan></text>
<text x="23.1" y="496" font-size="9.7" text-anchor="middle" transform="rotate(-90 23.1 496)" fill="#111" >H460</text>
<text x="23.1" y="559.8" font-size="9.7" text-anchor="middle" transform="rotate(-90 23.1 559.8)" fill="#111" >H1299</text>
<defs><filter id="bl" x="-5%" y="-5%" width="110%" height="110%"><feGaussianBlur stdDeviation="0.4"/></filter><filter id="bb" x="-20%" y="-50%" width="140%" height="200%"><feGaussianBlur stdDeviation="0.9"/></filter>
<clipPath id="cp0"><circle cx="57" cy="495" r="27.8"/></clipPath>
<clipPath id="cp1"><circle cx="115" cy="495" r="27.8"/></clipPath>
<clipPath id="cp2"><circle cx="172.8" cy="495" r="27.8"/></clipPath>
<clipPath id="cp3"><circle cx="231.2" cy="495" r="27.8"/></clipPath>
<clipPath id="cp4"><circle cx="57" cy="559.5" r="27.8"/></clipPath>
<clipPath id="cp5"><circle cx="115" cy="559.5" r="27.8"/></clipPath>
<clipPath id="cp6"><circle cx="172.8" cy="559.5" r="27.8"/></clipPath>
<clipPath id="cp7"><circle cx="231.2" cy="559.5" r="27.8"/></clipPath>
</defs>
<circle cx="57" cy="495" r="28.2" fill="#c8c8cd"/>
<g clip-path="url(#cp0)"><g filter="url(#bl)" transform="translate(57 495)">
<g fill="#7d78dc" opacity="0.49">
<circle cx="-3.7" cy="-21.9" r="1.33"/><circle cx="21.4" cy="3.1" r="1.44"/><circle cx="-9" cy="20.4" r="1.55"/><circle cx="17.1" cy="-0.8" r="1.73"/><circle cx="7" cy="-0.1" r="1.43"/><circle cx="5.4" cy="26.5" r="1.22"/><circle cx="26.4" cy="17.3" r="1.05"/><circle cx="5.9" cy="-25.2" r="1.6"/><circle cx="13.4" cy="-11.9" r="1.18"/><circle cx="12.6" cy="-22.2" r="1.14"/><circle cx="23.7" cy="-3.8" r="1.13"/><circle cx="12.1" cy="5.5" r="1.6"/><circle cx="-8.1" cy="10.8" r="1.54"/><circle cx="-9.5" cy="-5.9" r="1.14"/><circle cx="7.1" cy="-18" r="1.17"/><circle cx="-19.5" cy="-22.7" r="1.85"/><circle cx="-16.9" cy="-3.6" r="1.66"/><circle cx="-7.5" cy="-14.5" r="1.3"/><circle cx="3.4" cy="-4.8" r="1.39"/><circle cx="10.6" cy="-12.5" r="1.79"/><circle cx="-9.4" cy="-3.7" r="1.86"/><circle cx="-1.4" cy="11.7" r="1.26"/><circle cx="-16.1" cy="2.4" r="1.41"/><circle cx="29.4" cy="0.2" r="1.5"/><circle cx="13.7" cy="-8.8" r="1.35"/><circle cx="-23" cy="-3.9" r="1.36"/><circle cx="-18.3" cy="-9.5" r="1.35"/><circle cx="-6.7" cy="20.1" r="1.54"/><circle cx="-23.5" cy="-2.4" r="1.09"/><circle cx="-9" cy="-28.5" r="1.58"/><circle cx="-11.4" cy="-17.3" r="1.86"/><circle cx="-10.1" cy="22.4" r="1.7"/><circle cx="6.4" cy="-2" r="1.51"/><circle cx="26" cy="3.7" r="1.67"/><circle cx="-10.9" cy="-0.3" r="1.57"/><circle cx="3.7" cy="6.9" r="1.62"/><circle cx="-10.8" cy="-21.8" r="1.42"/><circle cx="13.6" cy="-22.9" r="1.34"/><circle cx="-5" cy="-16.4" r="1.62"/><circle cx="11" cy="18.3" r="1.17"/><circle cx="-15.6" cy="-14.8" r="1.41"/><circle cx="17.2" cy="-8.3" r="1.62"/><circle cx="18.5" cy="14.4" r="1.19"/><circle cx="14.5" cy="-0.7" r="1.36"/><circle cx="-20" cy="6.1" r="1.43"/><circle cx="-0.3" cy="-1.7" r="1.63"/><circle cx="-7.1" cy="-0" r="1.81"/><circle cx="5.3" cy="9" r="1.56"/><circle cx="15.5" cy="-9.9" r="1.45"/><circle cx="12.1" cy="9" r="1.75"/><circle cx="-18.4" cy="-8.4" r="1.32"/><circle cx="2.3" cy="-24.3" r="1.13"/><circle cx="12.9" cy="7.7" r="1.33"/><circle cx="-6.8" cy="-8.9" r="1.62"/><circle cx="-2.9" cy="-14.4" r="1.76"/><circle cx="4.3" cy="18.1" r="1.78"/><circle cx="27.3" cy="2.5" r="1.27"/><circle cx="26.1" cy="2.3" r="1.73"/><circle cx="4.7" cy="-9.9" r="1.49"/><circle cx="2.2" cy="-13.7" r="1.09"/><circle cx="3.1" cy="-12.8" r="1.42"/><circle cx="18.1" cy="-6.7" r="1.52"/><circle cx="33.6" cy="6.6" r="1.59"/><circle cx="16.4" cy="12.2" r="1.15"/><circle cx="4.7" cy="-4.9" r="1.6"/><circle cx="-2.3" cy="-4.9" r="1.85"/><circle cx="-17.3" cy="-4.7" r="1.61"/><circle cx="-19.9" cy="-17" r="1.78"/><circle cx="12.7" cy="18.5" r="1.51"/><circle cx="9.9" cy="11.2" r="1.33"/><circle cx="26.2" cy="-4" r="1.81"/><circle cx="18.9" cy="2.4" r="1.54"/><circle cx="-19.9" cy="-17.1" r="1.12"/><circle cx="8.9" cy="1.8" r="1.77"/><circle cx="-14.3" cy="8.2" r="1.55"/><circle cx="-3.7" cy="-6.9" r="1.36"/><circle cx="20.7" cy="5.9" r="1.33"/><circle cx="6" cy="23.2" r="1.48"/><circle cx="-12.6" cy="3.7" r="1.78"/><circle cx="-18.2" cy="-13.8" r="1.81"/><circle cx="-16.2" cy="-13.4" r="1.52"/><circle cx="-13.6" cy="-10" r="1.32"/><circle cx="5" cy="-19.4" r="1.11"/><circle cx="14" cy="17.4" r="1.16"/><circle cx="20" cy="-7.6" r="1.16"/><circle cx="-12.7" cy="20.6" r="1.36"/><circle cx="-1" cy="-18.7" r="1.73"/><circle cx="-5.1" cy="4.7" r="1.8"/><circle cx="11.8" cy="-7.9" r="1.33"/><circle cx="-6.3" cy="0.6" r="1.25"/><circle cx="1.1" cy="-6.9" r="1.35"/><circle cx="15.4" cy="20.2" r="1.86"/><circle cx="11" cy="10.8" r="1.53"/><circle cx="7.3" cy="-16.6" r="1.71"/><circle cx="2" cy="4.7" r="1.31"/><circle cx="-10.9" cy="-0.3" r="1.32"/><circle cx="-18.2" cy="-12.9" r="1.75"/><circle cx="-0.3" cy="-4.6" r="1.68"/><circle cx="-11.9" cy="0.8" r="1.73"/><circle cx="19.7" cy="4.5" r="1.59"/><circle cx="-8.5" cy="19" r="1.33"/><circle cx="-5.2" cy="-12.6" r="1.66"/><circle cx="-15.8" cy="-18" r="1.5"/><circle cx="11.3" cy="-6.8" r="1.82"/><circle cx="10.1" cy="16.6" r="1.86"/><circle cx="-8.5" cy="6" r="1.38"/><circle cx="-13.9" cy="-16.6" r="1.05"/><circle cx="0.8" cy="-4.4" r="1.36"/><circle cx="-2.5" cy="20.5" r="1.57"/><circle cx="-3" cy="-6.1" r="1.17"/><circle cx="13.7" cy="4.5" r="1.09"/><circle cx="11.6" cy="3.1" r="1.57"/><circle cx="6.8" cy="2.6" r="1.76"/><circle cx="-9.7" cy="-16.6" r="1.81"/><circle cx="-14" cy="4.9" r="1.6"/><circle cx="-8.2" cy="-11.6" r="1.71"/><circle cx="-4.4" cy="12.7" r="1.81"/><circle cx="-13.4" cy="20.2" r="1.55"/><circle cx="-4.3" cy="-5.4" r="1.6"/><circle cx="10.5" cy="-11" r="1.2"/><circle cx="21.4" cy="-2" r="1.15"/><circle cx="18.8" cy="0.8" r="1.77"/><circle cx="-12.2" cy="-14.6" r="1.37"/><circle cx="-34.5" cy="-0.9" r="1.24"/><circle cx="-23" cy="-1.4" r="1.28"/><circle cx="-10.3" cy="-24.3" r="1.32"/><circle cx="-6.7" cy="25.7" r="1.56"/><circle cx="-7.2" cy="12.5" r="1.48"/><circle cx="-12.2" cy="-2.5" r="1.66"/><circle cx="-14.5" cy="-10.2" r="1.38"/><circle cx="-7.1" cy="24.2" r="1.76"/><circle cx="9.9" cy="2.3" r="1.12"/><circle cx="-18.6" cy="10.9" r="1.72"/><circle cx="19.7" cy="-6.8" r="1.4"/><circle cx="-17.6" cy="-2.9" r="1.17"/><circle cx="-17.7" cy="-8.1" r="1.27"/><circle cx="-22.7" cy="6.8" r="1.14"/><circle cx="4.9" cy="-4.2" r="1.11"/><circle cx="-9" cy="3.7" r="1.4"/><circle cx="-18" cy="12.5" r="1.61"/><circle cx="-9.7" cy="-2.8" r="1.52"/><circle cx="-1" cy="-23.2" r="1.56"/><circle cx="-13.5" cy="-0.3" r="1.31"/><circle cx="-2.9" cy="-13.5" r="1.64"/><circle cx="8.1" cy="-8.7" r="1.08"/><circle cx="2.3" cy="20" r="1.42"/><circle cx="-12.7" cy="7.9" r="1.69"/><circle cx="13.3" cy="-12.6" r="1.36"/><circle cx="3.8" cy="-16.8" r="1.6"/><circle cx="-12" cy="-5.9" r="1.87"/><circle cx="-12.6" cy="-4.9" r="1.49"/><circle cx="-0.8" cy="-3.4" r="1.39"/><circle cx="-19.1" cy="-6.8" r="1.3"/><circle cx="-17.6" cy="7.8" r="1.09"/><circle cx="24.6" cy="10.9" r="1.64"/><circle cx="-13.6" cy="1.9" r="1.61"/><circle cx="-9.7" cy="13" r="1.32"/><circle cx="-3.1" cy="20.2" r="1.49"/><circle cx="3.4" cy="-4.4" r="1.45"/><circle cx="-3.8" cy="-7.6" r="1.09"/><circle cx="-3.8" cy="1.5" r="1.29"/><circle cx="-19.5" cy="13.9" r="1.62"/><circle cx="-2.4" cy="16.1" r="1.49"/><circle cx="-5.8" cy="-8.8" r="1.31"/><circle cx="0" cy="11.5" r="1.15"/><circle cx="-1" cy="-14" r="1.45"/><circle cx="-11.5" cy="-18.2" r="1.63"/><circle cx="9.2" cy="-8.8" r="1.44"/><circle cx="7.8" cy="-19" r="1.55"/><circle cx="2.4" cy="12.1" r="1.58"/><circle cx="8.6" cy="-7.4" r="1.2"/><circle cx="-20.8" cy="3.6" r="1.34"/><circle cx="11.4" cy="-14.9" r="1.1"/><circle cx="13.8" cy="-19" r="1.68"/><circle cx="15.3" cy="2.4" r="1.54"/><circle cx="-16.5" cy="-3.5" r="1.7"/><circle cx="-15.2" cy="-13.3" r="1.09"/><circle cx="22.7" cy="8" r="1.23"/><circle cx="-16.6" cy="10.1" r="1.27"/><circle cx="-11.8" cy="-7.7" r="1.14"/><circle cx="-15.1" cy="-1.1" r="2.71"/><circle cx="-15.8" cy="-15.4" r="2.5"/><circle cx="-14.5" cy="8.8" r="2.3"/><circle cx="-19.5" cy="-3.6" r="2.61"/><circle cx="0.7" cy="4" r="2.08"/><circle cx="-20.2" cy="1.7" r="1.96"/><circle cx="11.6" cy="-19.3" r="2.5"/><circle cx="-16.5" cy="4.8" r="2.35"/>
</g>
<g fill="#5b54d2" opacity="0.6">
<circle cx="-1.8" cy="9.1" r="0.53"/><circle cx="-3.4" cy="-27.3" r="0.64"/><circle cx="-7" cy="-6.7" r="0.63"/><circle cx="19" cy="14.4" r="0.76"/><circle cx="11.2" cy="22.3" r="0.62"/><circle cx="-19.6" cy="1.1" r="0.77"/><circle cx="7.1" cy="-5.5" r="0.68"/><circle cx="17.9" cy="9.2" r="0.69"/><circle cx="20.6" cy="-14.8" r="0.57"/><circle cx="-19.3" cy="-9.5" r="0.55"/><circle cx="19" cy="10.5" r="0.8"/><circle cx="20.4" cy="11.8" r="0.41"/><circle cx="2.8" cy="22.6" r="0.6"/><circle cx="-0.1" cy="2.9" r="0.52"/><circle cx="-17.6" cy="-6.4" r="0.77"/><circle cx="15.6" cy="7.8" r="0.57"/><circle cx="4" cy="-8.2" r="0.59"/><circle cx="-14.5" cy="13.2" r="0.67"/><circle cx="-6.3" cy="-13" r="0.54"/><circle cx="-11" cy="-13.4" r="0.48"/><circle cx="-0.9" cy="23" r="0.7"/><circle cx="5.9" cy="20.7" r="0.68"/><circle cx="0.7" cy="-17" r="0.72"/><circle cx="-10.6" cy="3.2" r="0.48"/><circle cx="11.4" cy="-7.7" r="0.72"/><circle cx="-7.2" cy="-10" r="0.69"/><circle cx="-2.5" cy="-12.3" r="0.76"/><circle cx="-23.5" cy="-5.6" r="0.53"/><circle cx="-4.5" cy="6.4" r="0.58"/><circle cx="9.9" cy="-17.8" r="0.47"/><circle cx="-0.9" cy="22.3" r="0.78"/><circle cx="25.1" cy="7.1" r="0.62"/><circle cx="-5.8" cy="-14.1" r="0.68"/><circle cx="18.4" cy="14.2" r="0.45"/><circle cx="2.9" cy="3.5" r="0.41"/><circle cx="-14.9" cy="-13.3" r="0.75"/><circle cx="-0.5" cy="2.1" r="0.57"/><circle cx="-3.4" cy="-11.7" r="0.65"/><circle cx="24.1" cy="-5.7" r="0.65"/><circle cx="3.3" cy="3.6" r="0.78"/><circle cx="25.6" cy="2.5" r="0.72"/><circle cx="-11.9" cy="-12.6" r="0.64"/><circle cx="4.7" cy="-13" r="0.76"/><circle cx="6.8" cy="-15.9" r="0.76"/><circle cx="2.6" cy="-23.7" r="0.56"/><circle cx="9.7" cy="9.7" r="0.76"/><circle cx="10.9" cy="8.1" r="0.56"/><circle cx="-12.4" cy="-15.9" r="0.67"/><circle cx="15.7" cy="-6.4" r="0.79"/><circle cx="-12.2" cy="-20.1" r="0.41"/><circle cx="3.8" cy="22.8" r="0.5"/><circle cx="22.9" cy="-10.9" r="0.59"/><circle cx="-15.1" cy="-0.3" r="0.6"/><circle cx="-13.4" cy="-22.1" r="0.64"/><circle cx="5" cy="12.6" r="0.79"/><circle cx="-20.5" cy="-6.8" r="0.55"/><circle cx="7.4" cy="7.2" r="0.75"/><circle cx="-8.1" cy="6.7" r="0.46"/><circle cx="-16.2" cy="-9" r="0.53"/><circle cx="-22.4" cy="-10.2" r="0.59"/><circle cx="-6.2" cy="6.9" r="0.68"/><circle cx="24.2" cy="-9.6" r="0.58"/><circle cx="-7.1" cy="15.7" r="0.77"/><circle cx="11.2" cy="6" r="0.67"/><circle cx="3.6" cy="7.3" r="0.58"/><circle cx="-1.5" cy="2.2" r="0.41"/><circle cx="-6.8" cy="6.8" r="0.6"/><circle cx="-11" cy="-6.7" r="0.68"/><circle cx="10.2" cy="-19.7" r="0.74"/><circle cx="20.4" cy="-17.1" r="0.66"/><circle cx="9.1" cy="13.5" r="0.76"/><circle cx="-21.2" cy="14.9" r="0.77"/><circle cx="-12.8" cy="-20.2" r="0.44"/><circle cx="2" cy="9.8" r="0.72"/><circle cx="3.7" cy="-23.9" r="0.42"/><circle cx="3.6" cy="-9.2" r="0.7"/><circle cx="5.8" cy="7.9" r="0.54"/><circle cx="17.4" cy="-14.5" r="0.43"/><circle cx="-3.7" cy="6.5" r="0.79"/><circle cx="-2.7" cy="0.7" r="0.8"/><circle cx="-5.5" cy="-8.1" r="0.77"/><circle cx="11.7" cy="9.6" r="0.51"/><circle cx="-15.9" cy="5.5" r="0.44"/><circle cx="0.6" cy="-1.3" r="0.56"/><circle cx="23.4" cy="11.5" r="0.57"/><circle cx="17.1" cy="1.7" r="0.68"/><circle cx="-5.2" cy="-7.2" r="0.55"/><circle cx="9.7" cy="-18.9" r="0.46"/><circle cx="19.5" cy="-1.6" r="0.69"/><circle cx="19.1" cy="18.9" r="0.45"/><circle cx="-18.9" cy="-7.6" r="0.51"/><circle cx="8.7" cy="-19.2" r="0.45"/><circle cx="4.3" cy="2.2" r="0.47"/><circle cx="-8.2" cy="-12.7" r="0.67"/><circle cx="-1.8" cy="20.4" r="0.53"/><circle cx="-2.7" cy="5.7" r="0.69"/><circle cx="-19.3" cy="-13.6" r="0.52"/><circle cx="16.6" cy="-11" r="0.75"/><circle cx="20.5" cy="16" r="0.62"/><circle cx="19.8" cy="-18.6" r="0.69"/><circle cx="-19.6" cy="-5.8" r="0.47"/><circle cx="-16.3" cy="-8.4" r="0.52"/><circle cx="-5" cy="-3" r="0.41"/><circle cx="-26.3" cy="0.3" r="0.79"/><circle cx="2.8" cy="-2" r="0.65"/><circle cx="-12.9" cy="-2.7" r="0.78"/><circle cx="11.4" cy="-10.8" r="0.78"/><circle cx="12.2" cy="22.1" r="0.45"/><circle cx="5" cy="-0.4" r="0.58"/><circle cx="17.4" cy="-8.3" r="0.47"/><circle cx="-14" cy="17" r="0.71"/><circle cx="12.7" cy="-18.6" r="0.61"/><circle cx="-12.9" cy="3.3" r="0.67"/><circle cx="-5.1" cy="0" r="0.64"/><circle cx="-16.6" cy="7.2" r="0.51"/><circle cx="-22.4" cy="-10.9" r="0.73"/><circle cx="1.8" cy="-19.1" r="0.66"/><circle cx="0.2" cy="19.2" r="0.66"/><circle cx="-7.5" cy="17" r="0.68"/><circle cx="17" cy="11" r="0.59"/><circle cx="-9.8" cy="-20.8" r="0.79"/><circle cx="9.8" cy="-8.7" r="0.58"/><circle cx="-3.9" cy="-5.3" r="0.54"/><circle cx="24.9" cy="-9" r="0.56"/><circle cx="-14.2" cy="-13.5" r="0.7"/><circle cx="1.7" cy="-9.9" r="0.5"/><circle cx="20.2" cy="-7" r="0.64"/><circle cx="15" cy="17.2" r="0.5"/><circle cx="7.4" cy="9.8" r="0.51"/><circle cx="1.2" cy="5.4" r="0.41"/><circle cx="9.7" cy="-25.1" r="0.52"/><circle cx="4.8" cy="22.1" r="0.67"/><circle cx="15.7" cy="6.2" r="0.53"/><circle cx="-23.2" cy="-3" r="0.76"/><circle cx="-1.1" cy="25.1" r="0.52"/><circle cx="8.5" cy="-12.2" r="0.69"/><circle cx="7.3" cy="17.1" r="0.65"/><circle cx="-23.4" cy="-12.2" r="0.71"/><circle cx="-14.9" cy="9.3" r="0.51"/><circle cx="6.4" cy="19.4" r="0.61"/><circle cx="20.1" cy="0.4" r="0.74"/><circle cx="-20.3" cy="13.9" r="0.68"/><circle cx="4.9" cy="-9.7" r="0.65"/><circle cx="-9.9" cy="10.6" r="0.7"/><circle cx="0.5" cy="22.4" r="0.77"/><circle cx="-22.3" cy="-1.7" r="0.42"/><circle cx="-15.9" cy="1.8" r="0.56"/><circle cx="-0.4" cy="21.7" r="0.55"/><circle cx="25" cy="-9.7" r="0.45"/><circle cx="-11.6" cy="-12.6" r="0.77"/><circle cx="5.5" cy="-16.4" r="0.76"/><circle cx="3.4" cy="6.2" r="0.58"/><circle cx="-5.7" cy="-11.3" r="0.51"/><circle cx="10.2" cy="-17.5" r="0.76"/><circle cx="14.8" cy="20.9" r="0.51"/><circle cx="-16.2" cy="5.7" r="0.7"/><circle cx="-9.8" cy="9.3" r="0.48"/><circle cx="-11.9" cy="-17.9" r="0.51"/><circle cx="18.1" cy="-0.6" r="0.73"/><circle cx="19.7" cy="1.4" r="0.72"/><circle cx="-19.7" cy="14.4" r="0.73"/><circle cx="21.4" cy="15.7" r="0.56"/><circle cx="-13.5" cy="-20.4" r="0.55"/><circle cx="-0.7" cy="-12.5" r="0.7"/><circle cx="21" cy="17" r="0.57"/><circle cx="22.4" cy="-12.2" r="0.71"/><circle cx="19.2" cy="-16.3" r="0.65"/><circle cx="-14.8" cy="8.2" r="0.49"/><circle cx="-21.8" cy="-14.7" r="0.46"/><circle cx="-1.1" cy="-15.2" r="0.69"/><circle cx="6.5" cy="-7.2" r="0.8"/><circle cx="1.8" cy="5.2" r="0.58"/><circle cx="17.2" cy="8.4" r="0.42"/><circle cx="-3.6" cy="-3.2" r="0.67"/><circle cx="-7.7" cy="-23.8" r="0.78"/><circle cx="7.9" cy="18.1" r="0.68"/><circle cx="13.1" cy="17.2" r="0.57"/><circle cx="1.9" cy="20.6" r="0.51"/><circle cx="16.6" cy="1.6" r="0.64"/><circle cx="-1.5" cy="8.6" r="0.75"/><circle cx="-3.7" cy="-21.9" r="0.89"/><circle cx="-9" cy="20.4" r="1.03"/><circle cx="26.4" cy="17.3" r="0.7"/><circle cx="5.9" cy="-25.2" r="1.06"/><circle cx="23.7" cy="-3.8" r="0.75"/><circle cx="-7.5" cy="-14.5" r="0.87"/><circle cx="-9.4" cy="-3.7" r="1.24"/><circle cx="13.7" cy="-8.8" r="0.9"/><circle cx="-11.4" cy="-17.3" r="1.24"/><circle cx="6.4" cy="-2" r="1"/><circle cx="-10.9" cy="-0.3" r="1.04"/><circle cx="-10.8" cy="-21.8" r="0.94"/><circle cx="13.6" cy="-22.9" r="0.9"/><circle cx="11" cy="18.3" r="0.78"/><circle cx="14.5" cy="-0.7" r="0.91"/><circle cx="-20" cy="6.1" r="0.95"/><circle cx="-7.1" cy="-0" r="1.21"/><circle cx="2.3" cy="-24.3" r="0.75"/><circle cx="2.2" cy="-13.7" r="0.73"/><circle cx="16.4" cy="12.2" r="0.77"/><circle cx="-2.3" cy="-4.9" r="1.24"/><circle cx="12.7" cy="18.5" r="1.01"/><circle cx="26.2" cy="-4" r="1.21"/><circle cx="8.9" cy="1.8" r="1.18"/><circle cx="-14.3" cy="8.2" r="1.03"/><circle cx="-3.7" cy="-6.9" r="0.9"/><circle cx="5" cy="-19.4" r="0.74"/><circle cx="20" cy="-7.6" r="0.77"/><circle cx="11.8" cy="-7.9" r="0.89"/><circle cx="2" cy="4.7" r="0.87"/><circle cx="-11.9" cy="0.8" r="1.15"/><circle cx="-8.5" cy="19" r="0.89"/><circle cx="11.3" cy="-6.8" r="1.21"/><circle cx="-13.4" cy="20.2" r="1.04"/><circle cx="-10.3" cy="-24.3" r="0.88"/><circle cx="-6.7" cy="25.7" r="1.04"/><circle cx="-18.6" cy="10.9" r="1.14"/><circle cx="-17.7" cy="-8.1" r="0.85"/><circle cx="-13.5" cy="-0.3" r="0.87"/><circle cx="13.3" cy="-12.6" r="0.91"/><circle cx="3.8" cy="-16.8" r="1.07"/><circle cx="-12.6" cy="-4.9" r="1"/><circle cx="-0.8" cy="-3.4" r="0.93"/><circle cx="-19.1" cy="-6.8" r="0.86"/><circle cx="3.4" cy="-4.4" r="0.97"/><circle cx="-19.5" cy="13.9" r="1.08"/><circle cx="-5.8" cy="-8.8" r="0.87"/><circle cx="7.8" cy="-19" r="1.04"/><circle cx="2.4" cy="12.1" r="1.06"/><circle cx="-20.8" cy="3.6" r="0.89"/><circle cx="15.3" cy="2.4" r="1.03"/><circle cx="-11.8" cy="-7.7" r="0.76"/>
</g>
<g fill="#362cc4" opacity="0.85">
<circle cx="2.1" cy="9.8" r="0.66"/><circle cx="34.1" cy="-2.9" r="0.68"/><circle cx="-6.6" cy="-13.6" r="0.44"/><circle cx="25.3" cy="-10.3" r="0.4"/><circle cx="-26.5" cy="5" r="0.56"/><circle cx="2.5" cy="-13.9" r="0.43"/><circle cx="0.5" cy="-9.3" r="0.5"/><circle cx="1.7" cy="2.5" r="0.58"/><circle cx="14.8" cy="16" r="0.45"/><circle cx="-27" cy="6.4" r="0.66"/><circle cx="3.2" cy="13.5" r="0.71"/><circle cx="17.7" cy="-5.4" r="0.65"/><circle cx="-7.6" cy="0.8" r="0.42"/><circle cx="-0.8" cy="23.4" r="0.56"/><circle cx="-12.6" cy="-8.7" r="0.65"/><circle cx="1" cy="3.4" r="0.51"/><circle cx="-19.2" cy="6.4" r="0.79"/><circle cx="-10.5" cy="2" r="0.54"/><circle cx="-14.8" cy="-20.2" r="0.69"/><circle cx="-6.9" cy="-23.2" r="0.77"/><circle cx="-17.8" cy="15" r="0.63"/><circle cx="12.3" cy="-11.5" r="0.63"/><circle cx="-9.2" cy="5.8" r="0.42"/><circle cx="-10.9" cy="-10.9" r="0.73"/><circle cx="-12.8" cy="-17.4" r="0.45"/><circle cx="-10.5" cy="-12.7" r="0.43"/><circle cx="-4.6" cy="0.4" r="0.72"/><circle cx="7.3" cy="13.9" r="0.72"/><circle cx="28.5" cy="-6.8" r="0.67"/><circle cx="-19.9" cy="-10.7" r="0.7"/><circle cx="-3.4" cy="9.6" r="0.62"/><circle cx="-7.8" cy="4.9" r="0.4"/><circle cx="13.3" cy="-9.3" r="0.62"/><circle cx="12.5" cy="-6.5" r="0.59"/><circle cx="10.4" cy="-23.6" r="0.59"/><circle cx="-16.5" cy="8.2" r="0.53"/><circle cx="11.5" cy="8.6" r="0.74"/><circle cx="9.6" cy="-24" r="0.53"/><circle cx="5.4" cy="26.6" r="0.76"/><circle cx="-15.8" cy="-27" r="0.79"/><circle cx="1" cy="-19.3" r="0.67"/><circle cx="3.4" cy="8.6" r="0.47"/><circle cx="-8.6" cy="16.5" r="0.61"/><circle cx="22.7" cy="1.9" r="0.74"/><circle cx="-1.2" cy="-17.3" r="0.48"/><circle cx="13.5" cy="4.4" r="0.78"/><circle cx="-7.2" cy="-22.6" r="0.79"/><circle cx="-1" cy="-13.7" r="0.56"/><circle cx="22.2" cy="11.6" r="0.51"/><circle cx="-16.9" cy="9.9" r="0.74"/><circle cx="-14.6" cy="-10.2" r="0.6"/><circle cx="-7.6" cy="18.3" r="0.59"/><circle cx="-11.7" cy="-12.9" r="0.67"/><circle cx="-16.6" cy="12.4" r="0.69"/><circle cx="-7.3" cy="-5.6" r="0.65"/><circle cx="-18.7" cy="7.8" r="0.55"/><circle cx="-17.5" cy="-12.9" r="0.67"/><circle cx="4" cy="-9.2" r="0.52"/><circle cx="6.5" cy="1.6" r="0.51"/><circle cx="16" cy="12" r="0.43"/><circle cx="10.9" cy="-22.4" r="0.71"/><circle cx="-6" cy="22.9" r="0.73"/><circle cx="-12.1" cy="-6.4" r="0.43"/><circle cx="-5" cy="-13.6" r="0.46"/><circle cx="-1.2" cy="-16.5" r="0.56"/><circle cx="1.2" cy="6.4" r="0.46"/><circle cx="24.5" cy="14.2" r="0.72"/><circle cx="-15.6" cy="4.1" r="0.72"/><circle cx="5.7" cy="-16.7" r="0.57"/><circle cx="16.6" cy="-0.9" r="0.47"/><circle cx="-7" cy="25.9" r="0.42"/><circle cx="-0.3" cy="-5.3" r="0.44"/><circle cx="1.1" cy="11.2" r="0.6"/><circle cx="-23.9" cy="-7.8" r="0.59"/><circle cx="18.2" cy="-18.4" r="0.58"/><circle cx="12.4" cy="-12.4" r="0.71"/><circle cx="19.4" cy="6.7" r="0.47"/><circle cx="-3.7" cy="-0.1" r="0.48"/><circle cx="3.5" cy="-17.7" r="0.41"/><circle cx="25.2" cy="-8.8" r="0.53"/><circle cx="22.2" cy="-0.4" r="0.43"/><circle cx="16.7" cy="1.3" r="0.68"/><circle cx="0.6" cy="-20.3" r="0.43"/><circle cx="10.9" cy="6.9" r="0.46"/><circle cx="2.6" cy="-24.5" r="0.55"/><circle cx="-11.3" cy="-17.9" r="0.41"/><circle cx="-15.4" cy="-4.8" r="0.6"/><circle cx="-19.4" cy="2.3" r="0.43"/><circle cx="-5.1" cy="-14.8" r="0.77"/><circle cx="11.1" cy="14.9" r="0.73"/><circle cx="-20.4" cy="-13.3" r="0.41"/><circle cx="10.5" cy="13.2" r="0.63"/><circle cx="3" cy="-3.6" r="0.6"/><circle cx="20.7" cy="-15.7" r="0.63"/><circle cx="4.6" cy="-14.5" r="0.56"/><circle cx="16.3" cy="-11.1" r="0.61"/><circle cx="5.2" cy="5.1" r="0.61"/><circle cx="-6" cy="4" r="0.73"/><circle cx="-8.3" cy="-22.2" r="0.42"/><circle cx="-8.5" cy="23.1" r="0.78"/><circle cx="-4.8" cy="7.8" r="0.72"/><circle cx="15.6" cy="-13.9" r="0.49"/><circle cx="-7.1" cy="-12.4" r="0.66"/><circle cx="-18.4" cy="7.2" r="0.61"/><circle cx="-2.9" cy="13.3" r="0.72"/><circle cx="6.7" cy="20.1" r="0.62"/><circle cx="-4.4" cy="-5.3" r="0.6"/><circle cx="8.1" cy="-8.3" r="0.46"/><circle cx="-24.6" cy="-4" r="0.72"/><circle cx="16.4" cy="17.1" r="0.64"/><circle cx="-26.8" cy="-3.7" r="0.4"/><circle cx="-14" cy="23" r="0.64"/><circle cx="-21.6" cy="-13.8" r="0.59"/><circle cx="-17.6" cy="16.3" r="0.49"/><circle cx="-18.8" cy="3.3" r="0.65"/><circle cx="-17" cy="-4.4" r="0.42"/><circle cx="-7.5" cy="-10.2" r="0.44"/><circle cx="14.1" cy="1.6" r="0.74"/><circle cx="21.4" cy="-3.4" r="0.52"/><circle cx="-19.1" cy="16.6" r="0.49"/><circle cx="2.1" cy="21.5" r="0.44"/><circle cx="-14.2" cy="-2.7" r="0.71"/><circle cx="18.9" cy="17.8" r="0.76"/><circle cx="-23.8" cy="15.5" r="0.63"/><circle cx="-19.1" cy="17.5" r="0.42"/><circle cx="-5.9" cy="15.2" r="0.79"/><circle cx="29.5" cy="-8.7" r="0.72"/><circle cx="24.5" cy="-1.7" r="0.75"/><circle cx="12.8" cy="5.8" r="0.63"/><circle cx="-17.8" cy="-17.3" r="0.72"/><circle cx="-6.3" cy="-11.4" r="0.47"/><circle cx="6.6" cy="-1.2" r="0.48"/><circle cx="3.8" cy="22.8" r="0.56"/><circle cx="16.9" cy="15.5" r="0.59"/><circle cx="-21" cy="12.5" r="0.56"/><circle cx="-9.6" cy="2.6" r="0.67"/><circle cx="20" cy="4.2" r="0.4"/><circle cx="-2.5" cy="-13.8" r="0.49"/><circle cx="-4.7" cy="25.4" r="0.53"/><circle cx="3.9" cy="7.9" r="0.46"/><circle cx="19.2" cy="1.1" r="0.56"/><circle cx="11.8" cy="-3.6" r="0.75"/><circle cx="20" cy="-1.1" r="0.73"/><circle cx="-9.4" cy="-5.4" r="0.66"/><circle cx="18.8" cy="16.4" r="0.68"/><circle cx="-4.9" cy="-0.5" r="0.65"/><circle cx="2.4" cy="-0.8" r="0.45"/><circle cx="-3" cy="-10.2" r="0.68"/><circle cx="-19.1" cy="5.7" r="0.75"/><circle cx="24.2" cy="10.6" r="0.72"/><circle cx="24" cy="-11.5" r="0.49"/><circle cx="18.6" cy="11.5" r="0.61"/><circle cx="20" cy="-3.8" r="0.8"/><circle cx="13.8" cy="-1.8" r="0.65"/><circle cx="10.6" cy="-16.4" r="0.54"/><circle cx="-18.6" cy="5.2" r="0.78"/><circle cx="11.1" cy="-13.2" r="0.77"/><circle cx="-14.7" cy="-10.8" r="0.43"/><circle cx="-4.2" cy="-8.4" r="0.66"/><circle cx="11.9" cy="9.8" r="0.44"/><circle cx="21.4" cy="3.1" r="0.96"/><circle cx="17.1" cy="-0.8" r="1.16"/><circle cx="7" cy="-0.1" r="0.95"/><circle cx="5.4" cy="26.5" r="0.82"/><circle cx="13.4" cy="-11.9" r="0.79"/><circle cx="12.6" cy="-22.2" r="0.76"/><circle cx="12.1" cy="5.5" r="1.06"/><circle cx="-8.1" cy="10.8" r="1.02"/><circle cx="-9.5" cy="-5.9" r="0.76"/><circle cx="7.1" cy="-18" r="0.78"/><circle cx="-19.5" cy="-22.7" r="1.23"/><circle cx="-16.9" cy="-3.6" r="1.11"/><circle cx="3.4" cy="-4.8" r="0.93"/><circle cx="10.6" cy="-12.5" r="1.19"/><circle cx="-1.4" cy="11.7" r="0.84"/><circle cx="-16.1" cy="2.4" r="0.94"/><circle cx="29.4" cy="0.2" r="1"/><circle cx="-23" cy="-3.9" r="0.91"/><circle cx="-18.3" cy="-9.5" r="0.9"/><circle cx="-6.7" cy="20.1" r="1.02"/><circle cx="-23.5" cy="-2.4" r="0.73"/><circle cx="-9" cy="-28.5" r="1.06"/><circle cx="-10.1" cy="22.4" r="1.13"/><circle cx="26" cy="3.7" r="1.11"/><circle cx="3.7" cy="6.9" r="1.08"/><circle cx="-5" cy="-16.4" r="1.08"/><circle cx="-15.6" cy="-14.8" r="0.94"/><circle cx="17.2" cy="-8.3" r="1.08"/><circle cx="18.5" cy="14.4" r="0.79"/><circle cx="-0.3" cy="-1.7" r="1.08"/><circle cx="5.3" cy="9" r="1.04"/><circle cx="15.5" cy="-9.9" r="0.97"/><circle cx="12.1" cy="9" r="1.17"/><circle cx="-18.4" cy="-8.4" r="0.88"/><circle cx="12.9" cy="7.7" r="0.89"/><circle cx="-6.8" cy="-8.9" r="1.08"/><circle cx="-2.9" cy="-14.4" r="1.17"/><circle cx="4.3" cy="18.1" r="1.19"/><circle cx="27.3" cy="2.5" r="0.85"/><circle cx="26.1" cy="2.3" r="1.15"/><circle cx="4.7" cy="-9.9" r="0.99"/><circle cx="3.1" cy="-12.8" r="0.95"/><circle cx="18.1" cy="-6.7" r="1.01"/><circle cx="33.6" cy="6.6" r="1.06"/><circle cx="4.7" cy="-4.9" r="1.07"/><circle cx="-17.3" cy="-4.7" r="1.07"/><circle cx="-19.9" cy="-17" r="1.18"/><circle cx="9.9" cy="11.2" r="0.88"/><circle cx="18.9" cy="2.4" r="1.02"/><circle cx="-19.9" cy="-17.1" r="0.75"/><circle cx="20.7" cy="5.9" r="0.88"/><circle cx="6" cy="23.2" r="0.99"/><circle cx="-12.6" cy="3.7" r="1.19"/><circle cx="-18.2" cy="-13.8" r="1.21"/><circle cx="-16.2" cy="-13.4" r="1.02"/><circle cx="-13.6" cy="-10" r="0.88"/><circle cx="14" cy="17.4" r="0.78"/><circle cx="-12.7" cy="20.6" r="0.91"/><circle cx="-1" cy="-18.7" r="1.15"/><circle cx="-5.1" cy="4.7" r="1.2"/><circle cx="-6.3" cy="0.6" r="0.83"/><circle cx="1.1" cy="-6.9" r="0.9"/><circle cx="15.4" cy="20.2" r="1.24"/><circle cx="11" cy="10.8" r="1.02"/><circle cx="7.3" cy="-16.6" r="1.14"/><circle cx="-10.9" cy="-0.3" r="0.88"/><circle cx="-18.2" cy="-12.9" r="1.17"/><circle cx="-0.3" cy="-4.6" r="1.12"/><circle cx="19.7" cy="4.5" r="1.06"/><circle cx="-5.2" cy="-12.6" r="1.11"/><circle cx="-15.8" cy="-18" r="1"/><circle cx="10.1" cy="16.6" r="1.24"/><circle cx="-8.5" cy="6" r="0.92"/><circle cx="-13.9" cy="-16.6" r="0.7"/><circle cx="0.8" cy="-4.4" r="0.91"/><circle cx="-2.5" cy="20.5" r="1.05"/><circle cx="-3" cy="-6.1" r="0.78"/><circle cx="13.7" cy="4.5" r="0.73"/><circle cx="11.6" cy="3.1" r="1.05"/><circle cx="6.8" cy="2.6" r="1.17"/><circle cx="-9.7" cy="-16.6" r="1.21"/><circle cx="-14" cy="4.9" r="1.07"/><circle cx="-8.2" cy="-11.6" r="1.14"/><circle cx="-4.4" cy="12.7" r="1.21"/><circle cx="-4.3" cy="-5.4" r="1.07"/><circle cx="10.5" cy="-11" r="0.8"/><circle cx="21.4" cy="-2" r="0.77"/><circle cx="18.8" cy="0.8" r="1.18"/><circle cx="-12.2" cy="-14.6" r="0.91"/><circle cx="-34.5" cy="-0.9" r="0.83"/><circle cx="-23" cy="-1.4" r="0.85"/><circle cx="-7.2" cy="12.5" r="0.99"/><circle cx="-12.2" cy="-2.5" r="1.11"/><circle cx="-14.5" cy="-10.2" r="0.92"/><circle cx="-7.1" cy="24.2" r="1.17"/><circle cx="9.9" cy="2.3" r="0.74"/><circle cx="19.7" cy="-6.8" r="0.93"/><circle cx="-17.6" cy="-2.9" r="0.78"/><circle cx="-22.7" cy="6.8" r="0.76"/><circle cx="4.9" cy="-4.2" r="0.74"/><circle cx="-9" cy="3.7" r="0.93"/><circle cx="-18" cy="12.5" r="1.07"/><circle cx="-9.7" cy="-2.8" r="1.01"/><circle cx="-1" cy="-23.2" r="1.04"/><circle cx="-2.9" cy="-13.5" r="1.1"/><circle cx="8.1" cy="-8.7" r="0.72"/><circle cx="2.3" cy="20" r="0.95"/><circle cx="-12.7" cy="7.9" r="1.13"/><circle cx="-12" cy="-5.9" r="1.25"/><circle cx="-17.6" cy="7.8" r="0.73"/><circle cx="24.6" cy="10.9" r="1.09"/><circle cx="-13.6" cy="1.9" r="1.07"/><circle cx="-9.7" cy="13" r="0.88"/><circle cx="-3.1" cy="20.2" r="0.99"/><circle cx="-3.8" cy="-7.6" r="0.73"/><circle cx="-3.8" cy="1.5" r="0.86"/><circle cx="-2.4" cy="16.1" r="1"/><circle cx="0" cy="11.5" r="0.76"/><circle cx="-1" cy="-14" r="0.97"/><circle cx="-11.5" cy="-18.2" r="1.09"/><circle cx="9.2" cy="-8.8" r="0.96"/><circle cx="8.6" cy="-7.4" r="0.8"/><circle cx="11.4" cy="-14.9" r="0.73"/><circle cx="13.8" cy="-19" r="1.12"/><circle cx="-16.5" cy="-3.5" r="1.14"/><circle cx="-15.2" cy="-13.3" r="0.72"/><circle cx="22.7" cy="8" r="0.82"/><circle cx="-16.6" cy="10.1" r="0.84"/><circle cx="-15.1" cy="-1.1" r="2.01"/><circle cx="-15.8" cy="-15.4" r="1.85"/><circle cx="-14.5" cy="8.8" r="1.7"/><circle cx="-19.5" cy="-3.6" r="1.93"/><circle cx="0.7" cy="4" r="1.54"/><circle cx="-20.2" cy="1.7" r="1.45"/><circle cx="11.6" cy="-19.3" r="1.85"/><circle cx="-16.5" cy="4.8" r="1.74"/>
</g>
</g></g>
<circle cx="115" cy="495" r="28.2" fill="#d9d9dc"/>
<g clip-path="url(#cp1)"><g filter="url(#bl)" transform="translate(115 495)">
<g fill="#7d78dc" opacity="0.34">
<circle cx="-0.2" cy="-1.1" r="1.2"/><circle cx="12.2" cy="-13.3" r="1.06"/><circle cx="-14.6" cy="15.6" r="1.55"/><circle cx="-11.2" cy="-9.6" r="1.43"/><circle cx="-7.4" cy="16.2" r="1.3"/><circle cx="3.9" cy="14.6" r="1.68"/><circle cx="-15.5" cy="-4.9" r="1.17"/><circle cx="-5.7" cy="9.1" r="1.41"/><circle cx="0.4" cy="-25.1" r="1.24"/><circle cx="-24.8" cy="2.1" r="1.6"/><circle cx="-3" cy="25.1" r="1.5"/><circle cx="-3.4" cy="-23.2" r="1.37"/><circle cx="19.7" cy="-18.2" r="1.64"/><circle cx="8.1" cy="-0.2" r="1.76"/><circle cx="15.3" cy="-9.9" r="1.58"/><circle cx="7.4" cy="-9.1" r="1.7"/><circle cx="0.7" cy="-1.5" r="1.52"/><circle cx="-7.2" cy="-10.9" r="1.47"/><circle cx="1.2" cy="15.9" r="1.46"/><circle cx="9.6" cy="0.7" r="1.27"/><circle cx="6.9" cy="-23.4" r="1.25"/><circle cx="-7" cy="11.8" r="1.64"/><circle cx="-0.9" cy="25.2" r="1.27"/><circle cx="-16.8" cy="12" r="1.48"/><circle cx="22.3" cy="-7.2" r="1.13"/><circle cx="26.1" cy="-25.1" r="1.85"/><circle cx="14.6" cy="11.3" r="1.84"/><circle cx="-14.5" cy="11.8" r="1.73"/><circle cx="0.5" cy="8.9" r="1.08"/><circle cx="-14.9" cy="17.7" r="1.39"/><circle cx="-0.5" cy="5.8" r="1.28"/><circle cx="21.9" cy="-1.3" r="1.38"/><circle cx="-6" cy="6.4" r="1.08"/><circle cx="7.1" cy="20.3" r="1.26"/><circle cx="5.5" cy="-7.1" r="1.09"/><circle cx="5.8" cy="-20" r="1.32"/><circle cx="-12.3" cy="-4.4" r="1.64"/><circle cx="-17.9" cy="8.4" r="1.07"/><circle cx="11.2" cy="6.4" r="1.56"/><circle cx="0.7" cy="-8.2" r="1.83"/><circle cx="-17.2" cy="0.8" r="1.15"/><circle cx="-5.8" cy="-14.2" r="1.48"/><circle cx="0.3" cy="-2.2" r="1.45"/><circle cx="-29.4" cy="1.8" r="1.06"/><circle cx="-4.4" cy="-19.5" r="1.48"/><circle cx="-21.1" cy="1.1" r="1.67"/><circle cx="14.3" cy="7.7" r="1.52"/><circle cx="13.3" cy="-19.4" r="1.16"/><circle cx="-3.3" cy="-23.6" r="1.46"/><circle cx="-17.9" cy="3.6" r="1.07"/><circle cx="-3.5" cy="0.8" r="1.52"/><circle cx="3.9" cy="23.5" r="1.29"/><circle cx="-18.8" cy="10.8" r="1.53"/><circle cx="7.9" cy="-14.4" r="1.21"/><circle cx="20.3" cy="-16" r="1.49"/><circle cx="-12.8" cy="7.1" r="1.5"/><circle cx="1" cy="15" r="1.62"/><circle cx="-7.1" cy="16.8" r="1.4"/><circle cx="2.7" cy="-24.3" r="1.65"/><circle cx="-20.7" cy="7.2" r="1.31"/><circle cx="-18.4" cy="-6.9" r="1.35"/><circle cx="-7.5" cy="-2.6" r="1.11"/><circle cx="-21" cy="-7.4" r="1.78"/><circle cx="-25.9" cy="-18.5" r="1.74"/><circle cx="13.9" cy="9.4" r="1.46"/><circle cx="-14.8" cy="-11.4" r="1.68"/><circle cx="-11.5" cy="-17.4" r="1.45"/><circle cx="-2.3" cy="-8.6" r="1.29"/><circle cx="21.5" cy="-6.2" r="1.09"/><circle cx="6.5" cy="22.8" r="1.57"/><circle cx="-0.6" cy="18.6" r="2.26"/><circle cx="-9.2" cy="-5.1" r="2.03"/>
</g>
<g fill="#5b54d2" opacity="0.6">
<circle cx="-9.8" cy="-5.6" r="0.59"/><circle cx="3.8" cy="17.8" r="0.62"/><circle cx="-2.5" cy="-2.7" r="0.49"/><circle cx="18.6" cy="-5.4" r="0.47"/><circle cx="11.5" cy="-1.7" r="0.48"/><circle cx="16.1" cy="-28.3" r="0.66"/><circle cx="-13.3" cy="-6.5" r="0.55"/><circle cx="-13.2" cy="-18.4" r="0.77"/><circle cx="-8.6" cy="-2" r="0.46"/><circle cx="8.2" cy="17.4" r="0.6"/><circle cx="11.6" cy="2.5" r="0.59"/><circle cx="-5.9" cy="5.4" r="0.42"/><circle cx="4.5" cy="-16.8" r="0.55"/><circle cx="25.6" cy="1.5" r="0.64"/><circle cx="9.2" cy="-3.6" r="0.55"/><circle cx="14.1" cy="-23.5" r="0.47"/><circle cx="0.9" cy="-9.1" r="0.79"/><circle cx="-13.7" cy="16.1" r="0.78"/><circle cx="20.9" cy="-17.3" r="0.74"/><circle cx="19.9" cy="8.2" r="0.51"/><circle cx="6.5" cy="17" r="0.74"/><circle cx="-18.2" cy="-14.6" r="0.45"/><circle cx="21.3" cy="-11.8" r="0.47"/><circle cx="3.9" cy="-19.6" r="0.65"/><circle cx="9.3" cy="-2.5" r="0.64"/><circle cx="11.2" cy="-16.6" r="0.48"/><circle cx="-0.5" cy="13.7" r="0.58"/><circle cx="16.7" cy="-20.1" r="0.55"/><circle cx="-8.4" cy="16.1" r="0.51"/><circle cx="-2" cy="0.6" r="0.64"/><circle cx="9.2" cy="3.6" r="0.64"/><circle cx="3.9" cy="-14.1" r="0.58"/><circle cx="-20.6" cy="16.1" r="0.59"/><circle cx="-17" cy="21.2" r="0.42"/><circle cx="5.6" cy="6.9" r="0.55"/><circle cx="-19.4" cy="0.3" r="0.46"/><circle cx="16.5" cy="-13.9" r="0.68"/><circle cx="17.1" cy="13.6" r="0.59"/><circle cx="1.6" cy="5.6" r="0.64"/><circle cx="20.3" cy="-6.8" r="0.53"/><circle cx="24.1" cy="-7.8" r="0.5"/><circle cx="11.5" cy="20.4" r="0.7"/><circle cx="10.6" cy="11.5" r="0.74"/><circle cx="-17.4" cy="-12.3" r="0.71"/><circle cx="17" cy="-3.3" r="0.66"/><circle cx="-14.6" cy="16.3" r="0.54"/><circle cx="6.9" cy="-21.3" r="0.74"/><circle cx="-0.1" cy="15.3" r="0.44"/><circle cx="6.1" cy="-4.9" r="0.5"/><circle cx="14.3" cy="-5.1" r="0.48"/><circle cx="-4.1" cy="22.9" r="0.41"/><circle cx="-2.7" cy="-2" r="0.58"/><circle cx="17.2" cy="3.8" r="0.54"/><circle cx="15" cy="22.5" r="0.63"/><circle cx="1.1" cy="-21.8" r="0.59"/><circle cx="10.8" cy="16.6" r="0.57"/><circle cx="-7.7" cy="-19" r="0.72"/><circle cx="10" cy="-6.7" r="0.78"/><circle cx="2.7" cy="6.9" r="0.51"/><circle cx="13.8" cy="-20.1" r="0.4"/><circle cx="21.1" cy="-1.1" r="0.71"/><circle cx="-16.8" cy="10.2" r="0.48"/><circle cx="-28.2" cy="-7" r="0.64"/><circle cx="-26.6" cy="1.7" r="0.49"/><circle cx="-21.9" cy="3.3" r="0.58"/><circle cx="-20.8" cy="0.7" r="0.66"/><circle cx="7" cy="-4.3" r="0.4"/><circle cx="12.2" cy="7.8" r="0.74"/><circle cx="4.4" cy="-1.1" r="0.71"/><circle cx="24.3" cy="-7.7" r="0.79"/><circle cx="23.3" cy="-8.8" r="0.41"/><circle cx="-3.8" cy="9.3" r="0.64"/><circle cx="3.9" cy="7.9" r="0.41"/><circle cx="-12.7" cy="-5.1" r="0.48"/><circle cx="21" cy="13.4" r="0.42"/><circle cx="19.7" cy="-15.1" r="0.72"/><circle cx="25.5" cy="-6.7" r="0.47"/><circle cx="20.5" cy="0.4" r="0.58"/><circle cx="7.4" cy="24.7" r="0.75"/><circle cx="-15.1" cy="8.8" r="0.56"/><circle cx="7.3" cy="11.1" r="0.72"/><circle cx="-2.1" cy="16.9" r="0.79"/><circle cx="9.4" cy="11.6" r="0.78"/><circle cx="-26.9" cy="-2.7" r="0.77"/><circle cx="-19.8" cy="-4.7" r="0.76"/><circle cx="-23.3" cy="1.6" r="0.52"/><circle cx="21.4" cy="-6.7" r="0.68"/><circle cx="-15.6" cy="10" r="0.77"/><circle cx="-11.6" cy="-0.1" r="0.55"/><circle cx="10.2" cy="11.3" r="0.41"/><circle cx="-22.5" cy="-4.3" r="0.48"/><circle cx="-6.4" cy="-21.1" r="0.52"/><circle cx="31.6" cy="-4" r="0.78"/><circle cx="22.7" cy="-4.1" r="0.59"/><circle cx="-14.1" cy="-0.8" r="0.61"/><circle cx="31.4" cy="-14.8" r="0.74"/><circle cx="-6.8" cy="-3" r="0.69"/><circle cx="6.5" cy="1.8" r="0.69"/><circle cx="18.2" cy="-1.1" r="0.67"/><circle cx="-14.6" cy="16.1" r="0.43"/><circle cx="6" cy="-17.5" r="0.48"/><circle cx="-8.6" cy="-2.7" r="0.4"/><circle cx="27.1" cy="8.9" r="0.73"/><circle cx="12.4" cy="-24" r="0.47"/><circle cx="18.8" cy="-11.8" r="0.64"/><circle cx="-16.3" cy="-19.3" r="0.64"/><circle cx="-1.6" cy="-25" r="0.64"/><circle cx="18.5" cy="-1.1" r="0.76"/><circle cx="12.6" cy="-13.8" r="0.63"/><circle cx="-3.6" cy="4.6" r="0.65"/><circle cx="-4.9" cy="14.7" r="0.61"/><circle cx="-13.3" cy="21.3" r="0.64"/><circle cx="-21.5" cy="14" r="0.78"/><circle cx="9.9" cy="-0.3" r="0.52"/><circle cx="0.1" cy="8.5" r="0.73"/><circle cx="4.1" cy="-8" r="0.58"/><circle cx="-10.2" cy="24.7" r="0.42"/><circle cx="-22.5" cy="11" r="0.79"/><circle cx="19.1" cy="4.8" r="0.77"/><circle cx="-15.8" cy="13.5" r="0.69"/><circle cx="3.9" cy="10.8" r="0.51"/><circle cx="15.4" cy="-21" r="0.56"/><circle cx="19" cy="-7.2" r="0.41"/><circle cx="-17.9" cy="19.6" r="0.53"/><circle cx="3.7" cy="2.8" r="0.64"/><circle cx="-14.9" cy="11.7" r="0.74"/><circle cx="-4.1" cy="11.8" r="0.77"/><circle cx="30.3" cy="-15.6" r="0.75"/><circle cx="7.2" cy="11.3" r="0.49"/><circle cx="0.1" cy="9.1" r="0.5"/><circle cx="8.5" cy="-4.6" r="0.62"/><circle cx="-4" cy="19.8" r="0.44"/><circle cx="9" cy="2.9" r="0.77"/><circle cx="-20.8" cy="17.2" r="0.47"/><circle cx="-14.8" cy="-11.6" r="0.45"/><circle cx="14.8" cy="5.9" r="0.76"/><circle cx="-15.7" cy="-9.3" r="0.56"/><circle cx="13.8" cy="21.6" r="0.67"/><circle cx="7.9" cy="-9.7" r="0.49"/><circle cx="-14.7" cy="2.8" r="0.52"/><circle cx="23.2" cy="-4.6" r="0.75"/><circle cx="-21.8" cy="-11.6" r="0.76"/><circle cx="-18.7" cy="-6.8" r="0.55"/><circle cx="-12.3" cy="1.6" r="0.43"/><circle cx="7.5" cy="-25.4" r="0.45"/><circle cx="-9.9" cy="-20.9" r="0.45"/><circle cx="-10.4" cy="-22.3" r="0.77"/><circle cx="-18.1" cy="-8.7" r="0.41"/><circle cx="26.3" cy="-9.6" r="0.56"/><circle cx="-6.5" cy="9.8" r="0.48"/><circle cx="23.9" cy="4" r="0.41"/><circle cx="14.7" cy="-11.3" r="0.48"/><circle cx="-12.3" cy="-23.1" r="0.64"/><circle cx="-13.5" cy="-7.6" r="0.55"/><circle cx="-23.6" cy="-6.3" r="0.75"/><circle cx="7.8" cy="-5.9" r="0.62"/><circle cx="-21.2" cy="-7.3" r="0.62"/><circle cx="13.8" cy="-12.9" r="0.44"/><circle cx="-0.2" cy="-1.1" r="0.8"/><circle cx="12.2" cy="-13.3" r="0.7"/><circle cx="-14.6" cy="15.6" r="1.03"/><circle cx="-11.2" cy="-9.6" r="0.96"/><circle cx="3.9" cy="14.6" r="1.12"/><circle cx="-15.5" cy="-4.9" r="0.78"/><circle cx="0.4" cy="-25.1" r="0.83"/><circle cx="-3.4" cy="-23.2" r="0.92"/><circle cx="7.4" cy="-9.1" r="1.13"/><circle cx="-7.2" cy="-10.9" r="0.98"/><circle cx="9.6" cy="0.7" r="0.85"/><circle cx="6.9" cy="-23.4" r="0.83"/><circle cx="-0.9" cy="25.2" r="0.85"/><circle cx="-16.8" cy="12" r="0.99"/><circle cx="22.3" cy="-7.2" r="0.75"/><circle cx="26.1" cy="-25.1" r="1.23"/><circle cx="-14.5" cy="11.8" r="1.15"/><circle cx="0.5" cy="8.9" r="0.72"/><circle cx="-0.5" cy="5.8" r="0.85"/><circle cx="7.1" cy="20.3" r="0.84"/><circle cx="-17.9" cy="8.4" r="0.71"/><circle cx="-17.2" cy="0.8" r="0.77"/><circle cx="0.3" cy="-2.2" r="0.96"/><circle cx="14.3" cy="7.7" r="1.02"/><circle cx="13.3" cy="-19.4" r="0.78"/><circle cx="-17.9" cy="3.6" r="0.71"/><circle cx="3.9" cy="23.5" r="0.86"/><circle cx="-18.8" cy="10.8" r="1.02"/><circle cx="20.3" cy="-16" r="0.99"/><circle cx="-12.8" cy="7.1" r="1"/><circle cx="1" cy="15" r="1.08"/><circle cx="-7.1" cy="16.8" r="0.94"/><circle cx="2.7" cy="-24.3" r="1.1"/><circle cx="-20.7" cy="7.2" r="0.87"/><circle cx="-7.5" cy="-2.6" r="0.74"/><circle cx="13.9" cy="9.4" r="0.97"/><circle cx="-14.8" cy="-11.4" r="1.12"/><circle cx="-2.3" cy="-8.6" r="0.86"/><circle cx="21.5" cy="-6.2" r="0.73"/><circle cx="6.5" cy="22.8" r="1.05"/>
</g>
<g fill="#362cc4" opacity="0.7">
<circle cx="11.8" cy="5.8" r="0.72"/><circle cx="19.1" cy="-13.6" r="0.53"/><circle cx="-22.3" cy="3" r="0.66"/><circle cx="-1.6" cy="12.1" r="0.43"/><circle cx="-19.3" cy="17.9" r="0.67"/><circle cx="0.5" cy="-0.1" r="0.61"/><circle cx="0.8" cy="11.8" r="0.69"/><circle cx="-0.6" cy="-23.7" r="0.69"/><circle cx="6.6" cy="8.8" r="0.42"/><circle cx="4.5" cy="-2.6" r="0.45"/><circle cx="16.2" cy="-9.7" r="0.61"/><circle cx="15.2" cy="-15.5" r="0.65"/><circle cx="-7" cy="-25" r="0.42"/><circle cx="10.7" cy="13.6" r="0.63"/><circle cx="2.6" cy="-13" r="0.62"/><circle cx="-11.8" cy="-14.5" r="0.6"/><circle cx="-6.6" cy="-12.4" r="0.62"/><circle cx="-10" cy="-13.1" r="0.77"/><circle cx="20.5" cy="7.7" r="0.59"/><circle cx="6.6" cy="-8.7" r="0.54"/><circle cx="-19.4" cy="9.7" r="0.5"/><circle cx="-14.6" cy="-10.5" r="0.63"/><circle cx="20.5" cy="-15.7" r="0.46"/><circle cx="10.8" cy="-6.2" r="0.66"/><circle cx="1.5" cy="-5.3" r="0.6"/><circle cx="-7.7" cy="-21.9" r="0.59"/><circle cx="25.7" cy="4" r="0.64"/><circle cx="-5.4" cy="15.8" r="0.45"/><circle cx="-5.5" cy="10.6" r="0.45"/><circle cx="22.4" cy="-11.9" r="0.63"/><circle cx="17.1" cy="10.9" r="0.44"/><circle cx="4.3" cy="15.3" r="0.41"/><circle cx="-3.6" cy="-6.9" r="0.56"/><circle cx="-23.9" cy="0" r="0.52"/><circle cx="-10.5" cy="-7.3" r="0.58"/><circle cx="2.4" cy="-7.9" r="0.65"/><circle cx="2.3" cy="0.4" r="0.61"/><circle cx="-20.3" cy="14.4" r="0.66"/><circle cx="20.3" cy="-16.9" r="0.63"/><circle cx="16" cy="8.4" r="0.5"/><circle cx="-13.6" cy="12.5" r="0.72"/><circle cx="21.3" cy="-23" r="0.51"/><circle cx="-6.7" cy="-8" r="0.79"/><circle cx="17.2" cy="-8.6" r="0.67"/><circle cx="10.4" cy="-25" r="0.58"/><circle cx="9.6" cy="-15.1" r="0.7"/><circle cx="-0.4" cy="-4.1" r="0.44"/><circle cx="-14.6" cy="5.8" r="0.73"/><circle cx="7.6" cy="3.9" r="0.78"/><circle cx="-0.9" cy="-0.2" r="0.72"/><circle cx="8" cy="-17.4" r="0.58"/><circle cx="2.2" cy="-16.3" r="0.48"/><circle cx="0.3" cy="-27" r="0.64"/><circle cx="15.7" cy="5.2" r="0.76"/><circle cx="11.4" cy="-3.1" r="0.49"/><circle cx="0.5" cy="1.7" r="0.45"/><circle cx="6.9" cy="5.6" r="0.43"/><circle cx="-11.1" cy="5.2" r="0.5"/><circle cx="-22.1" cy="14.2" r="0.48"/><circle cx="-2.8" cy="-20.2" r="0.51"/><circle cx="4.6" cy="-11.6" r="0.62"/><circle cx="-11.8" cy="-6.7" r="0.43"/><circle cx="-7.4" cy="16.2" r="0.86"/><circle cx="-5.7" cy="9.1" r="0.94"/><circle cx="-24.8" cy="2.1" r="1.07"/><circle cx="-3" cy="25.1" r="1"/><circle cx="19.7" cy="-18.2" r="1.09"/><circle cx="8.1" cy="-0.2" r="1.17"/><circle cx="15.3" cy="-9.9" r="1.05"/><circle cx="0.7" cy="-1.5" r="1.01"/><circle cx="1.2" cy="15.9" r="0.97"/><circle cx="-7" cy="11.8" r="1.09"/><circle cx="14.6" cy="11.3" r="1.23"/><circle cx="-14.9" cy="17.7" r="0.93"/><circle cx="21.9" cy="-1.3" r="0.92"/><circle cx="-6" cy="6.4" r="0.72"/><circle cx="5.5" cy="-7.1" r="0.72"/><circle cx="5.8" cy="-20" r="0.88"/><circle cx="-12.3" cy="-4.4" r="1.09"/><circle cx="11.2" cy="6.4" r="1.04"/><circle cx="0.7" cy="-8.2" r="1.22"/><circle cx="-5.8" cy="-14.2" r="0.99"/><circle cx="-29.4" cy="1.8" r="0.71"/><circle cx="-4.4" cy="-19.5" r="0.99"/><circle cx="-21.1" cy="1.1" r="1.12"/><circle cx="-3.3" cy="-23.6" r="0.97"/><circle cx="-3.5" cy="0.8" r="1.01"/><circle cx="7.9" cy="-14.4" r="0.81"/><circle cx="-18.4" cy="-6.9" r="0.9"/><circle cx="-21" cy="-7.4" r="1.18"/><circle cx="-25.9" cy="-18.5" r="1.16"/><circle cx="-11.5" cy="-17.4" r="0.96"/><circle cx="-0.6" cy="18.6" r="1.67"/><circle cx="-9.2" cy="-5.1" r="1.5"/>
</g>
</g></g>
<circle cx="172.8" cy="495" r="28.2" fill="#cccdd5"/>
<g clip-path="url(#cp2)"><g filter="url(#bl)" transform="translate(172.8 495)">
<g fill="#7d78dc" opacity="0.51">
<circle cx="-7.1" cy="8.8" r="1.55"/><circle cx="20.2" cy="-13.9" r="1.69"/><circle cx="26.3" cy="1.2" r="1.76"/><circle cx="0.3" cy="-22.2" r="1.08"/><circle cx="-1.9" cy="28.1" r="1.58"/><circle cx="-21.6" cy="17.3" r="1.87"/><circle cx="12" cy="13.3" r="1.08"/><circle cx="17.4" cy="9.1" r="1.06"/><circle cx="13.2" cy="-20" r="1.87"/><circle cx="12" cy="-2.7" r="1.2"/><circle cx="-7" cy="-23.6" r="1.27"/><circle cx="-13.1" cy="16.8" r="1.07"/><circle cx="9.4" cy="7.9" r="1.33"/><circle cx="0.9" cy="36" r="1.47"/><circle cx="2.8" cy="23.1" r="1.13"/><circle cx="-19.1" cy="16.1" r="1.31"/><circle cx="0.7" cy="5.3" r="1.7"/><circle cx="-12.2" cy="-4.6" r="1.11"/><circle cx="14.5" cy="1.6" r="1.74"/><circle cx="-9.8" cy="13.1" r="1.62"/><circle cx="3.9" cy="0.5" r="1.23"/><circle cx="16.6" cy="14.8" r="1.61"/><circle cx="-6.5" cy="15.3" r="1.7"/><circle cx="20.1" cy="7.6" r="1.17"/><circle cx="-13" cy="-17.6" r="1.86"/><circle cx="-1.9" cy="2.3" r="1.87"/><circle cx="-12.8" cy="13" r="1.25"/><circle cx="12.6" cy="5.5" r="1.11"/><circle cx="26.1" cy="-3" r="1.66"/><circle cx="-2.4" cy="2.6" r="1.7"/><circle cx="2.2" cy="-21.5" r="1.11"/><circle cx="12.9" cy="-3.4" r="1.6"/><circle cx="8.1" cy="9.3" r="1.1"/><circle cx="-3.5" cy="-10.5" r="1.58"/><circle cx="-22.4" cy="-14.2" r="1.21"/><circle cx="-21.2" cy="9.8" r="1.75"/><circle cx="-3.4" cy="-17.5" r="1.86"/><circle cx="10.1" cy="-9.7" r="1.8"/><circle cx="12.1" cy="-20.3" r="1.2"/><circle cx="-16.4" cy="11.9" r="1.59"/><circle cx="-8.4" cy="7.8" r="1.57"/><circle cx="22.8" cy="6.5" r="1.18"/><circle cx="-5.3" cy="6.7" r="1.22"/><circle cx="1.5" cy="-3.9" r="1.06"/><circle cx="-23.6" cy="-8.1" r="1.74"/><circle cx="-18" cy="4.7" r="1.17"/><circle cx="4.4" cy="23.9" r="1.75"/><circle cx="13.3" cy="9" r="1.42"/><circle cx="24" cy="1.9" r="1.09"/><circle cx="-21.9" cy="6.3" r="1.52"/><circle cx="0" cy="31.1" r="1.21"/><circle cx="14.8" cy="-13.5" r="1.58"/><circle cx="-14.2" cy="18.4" r="1.46"/><circle cx="-22" cy="10.5" r="1.42"/><circle cx="-9.3" cy="-4" r="1.11"/><circle cx="-2.3" cy="2.3" r="1.48"/><circle cx="14.1" cy="12.5" r="1.49"/><circle cx="14.2" cy="-11.3" r="1.29"/><circle cx="5.1" cy="32.6" r="1.78"/><circle cx="-7.5" cy="9.5" r="1.5"/><circle cx="-26.1" cy="4.5" r="1.81"/><circle cx="-23.3" cy="11" r="1.75"/><circle cx="-9.1" cy="20.2" r="1.6"/><circle cx="-1" cy="-1.9" r="1.44"/><circle cx="5.1" cy="-11.9" r="1.81"/><circle cx="5.2" cy="-10.9" r="1.2"/><circle cx="12.6" cy="-10" r="1.82"/><circle cx="0" cy="11.5" r="1.68"/><circle cx="-24.5" cy="-7.6" r="1.78"/><circle cx="-5.5" cy="-2.1" r="1.55"/><circle cx="-7.3" cy="8.9" r="1.47"/><circle cx="-12.4" cy="-3.1" r="1.17"/><circle cx="-26" cy="4.6" r="1.27"/><circle cx="12.2" cy="-5" r="1.3"/><circle cx="-18.4" cy="-1.8" r="1.05"/><circle cx="-5.3" cy="-0.8" r="1.66"/><circle cx="17.8" cy="15.2" r="1.07"/><circle cx="-18.1" cy="12.7" r="1.34"/><circle cx="-27.5" cy="9.6" r="1.54"/><circle cx="5.5" cy="17.8" r="1.86"/><circle cx="-19.2" cy="-10.9" r="1.3"/><circle cx="5.5" cy="-2.6" r="1.78"/><circle cx="-16.9" cy="13.9" r="1.07"/><circle cx="-9.4" cy="17.2" r="1.86"/><circle cx="-12.6" cy="-5.4" r="1.86"/><circle cx="6" cy="22.6" r="1.86"/><circle cx="-8.9" cy="-9.6" r="1.5"/><circle cx="6.7" cy="-17.1" r="1.81"/><circle cx="11.9" cy="19.5" r="1.86"/><circle cx="-2.3" cy="30" r="1.39"/><circle cx="-21" cy="14.2" r="1.25"/><circle cx="22" cy="4.9" r="1.27"/><circle cx="-2.8" cy="-25.1" r="1.71"/><circle cx="-24.6" cy="10.3" r="1.33"/><circle cx="-2.8" cy="11.7" r="1.5"/><circle cx="-6.3" cy="-24.1" r="1.72"/><circle cx="14.1" cy="6.1" r="1.19"/><circle cx="-11.8" cy="6.1" r="1.15"/><circle cx="-17.6" cy="1.1" r="1.48"/><circle cx="-8.6" cy="25.2" r="1.14"/><circle cx="3.8" cy="-10.4" r="1.71"/><circle cx="0.4" cy="26.9" r="1.79"/><circle cx="-7.8" cy="-10.5" r="1.44"/><circle cx="-6.4" cy="4.7" r="1.78"/><circle cx="3.4" cy="5" r="1.57"/><circle cx="11.3" cy="16.9" r="1.25"/><circle cx="6.1" cy="23.2" r="1.32"/><circle cx="11.3" cy="-13.1" r="1.26"/><circle cx="0.4" cy="13.8" r="1.48"/><circle cx="-11.5" cy="16.3" r="1.21"/><circle cx="3.5" cy="15.5" r="1.27"/><circle cx="15.2" cy="13.1" r="1.85"/><circle cx="0.5" cy="12.7" r="1.62"/><circle cx="-26.6" cy="-2.7" r="1.29"/><circle cx="2.6" cy="0.5" r="1.29"/><circle cx="0.8" cy="9.7" r="1.66"/><circle cx="8.1" cy="-9.3" r="1.21"/><circle cx="6.4" cy="-23.5" r="1.1"/><circle cx="-21.2" cy="3.9" r="1.54"/><circle cx="3.8" cy="-26.5" r="1.16"/><circle cx="0.5" cy="4.9" r="1.71"/><circle cx="-3.7" cy="1.3" r="1.61"/><circle cx="-3.1" cy="21.9" r="1.35"/><circle cx="-21.8" cy="-4.8" r="1.75"/><circle cx="-6.2" cy="19.8" r="1.34"/><circle cx="-15.1" cy="-5.9" r="1.65"/><circle cx="4.6" cy="-1" r="1.8"/><circle cx="6.6" cy="-5" r="1.19"/><circle cx="-14.5" cy="17.7" r="1.87"/><circle cx="10.6" cy="-23.3" r="1.11"/><circle cx="0.8" cy="9.8" r="1.83"/><circle cx="26.4" cy="-0.8" r="1.3"/><circle cx="17.4" cy="-7" r="1.77"/><circle cx="-3" cy="21.2" r="1.56"/><circle cx="18.5" cy="9.2" r="1.47"/><circle cx="3" cy="-14" r="1.26"/><circle cx="-19.8" cy="-8.3" r="1.37"/><circle cx="-25.7" cy="5.4" r="1.2"/><circle cx="-29.2" cy="10.4" r="1.08"/><circle cx="-15.7" cy="-1.6" r="1.41"/><circle cx="15" cy="-18.2" r="1.46"/><circle cx="7.7" cy="-21.5" r="1.86"/><circle cx="-5" cy="-16.6" r="1.14"/><circle cx="6.5" cy="-25.1" r="1.21"/><circle cx="15.6" cy="-2.4" r="1.55"/><circle cx="-14.7" cy="-17.2" r="1.79"/><circle cx="-25.7" cy="8.2" r="1.48"/><circle cx="23.5" cy="4.3" r="1.14"/><circle cx="18.2" cy="9.8" r="1.62"/><circle cx="-8.4" cy="6.4" r="1.26"/><circle cx="-23.6" cy="-6.2" r="1.74"/><circle cx="-15" cy="-3.9" r="1.1"/><circle cx="-15.5" cy="11.3" r="1.47"/><circle cx="2.2" cy="-6.5" r="1.44"/><circle cx="-18.3" cy="9.3" r="1.21"/><circle cx="19.7" cy="5.2" r="1.5"/><circle cx="-9.9" cy="25.1" r="1.36"/><circle cx="6.6" cy="-8.1" r="1.25"/><circle cx="5.1" cy="-17.6" r="1.27"/><circle cx="-14.9" cy="-6.1" r="1.1"/><circle cx="-12.1" cy="-16.5" r="1.31"/><circle cx="-20.3" cy="13.9" r="1.36"/><circle cx="21.4" cy="9.9" r="1.72"/><circle cx="14.5" cy="16.1" r="1.44"/><circle cx="-6" cy="25" r="1.59"/><circle cx="-3.2" cy="29.8" r="1.27"/><circle cx="14.1" cy="-6.5" r="1.21"/><circle cx="-3.4" cy="-26.9" r="1.74"/><circle cx="-21.7" cy="-9.5" r="1.19"/><circle cx="2.3" cy="6.3" r="1.83"/><circle cx="19.5" cy="-18" r="1.52"/><circle cx="24.2" cy="8.7" r="1.63"/><circle cx="0.9" cy="6.2" r="1.54"/><circle cx="-15.4" cy="-22" r="1.61"/><circle cx="-0.4" cy="15" r="1.44"/><circle cx="5.9" cy="-7.7" r="1.87"/><circle cx="-11.8" cy="-9.6" r="1.55"/><circle cx="20.1" cy="15.6" r="1.76"/><circle cx="7.9" cy="18.9" r="1.1"/><circle cx="4.4" cy="17.5" r="1.12"/><circle cx="19.8" cy="7.8" r="1.77"/><circle cx="-0.5" cy="3.5" r="1.12"/><circle cx="-1.5" cy="23.6" r="1.72"/><circle cx="-2.3" cy="10.5" r="1.87"/><circle cx="-4.5" cy="-5" r="1.17"/><circle cx="12.3" cy="-15.7" r="1.28"/><circle cx="-3.7" cy="-4.5" r="1.24"/><circle cx="-12.3" cy="11.5" r="1.87"/><circle cx="-14.9" cy="-10.9" r="1.08"/><circle cx="3.9" cy="-2.7" r="1.26"/><circle cx="-0.7" cy="-8.3" r="1.5"/><circle cx="-26.3" cy="5.8" r="1.75"/><circle cx="-10.7" cy="-11.7" r="1.8"/><circle cx="8.9" cy="23.5" r="1.17"/><circle cx="-18.5" cy="18.9" r="1.48"/><circle cx="-10.1" cy="21.2" r="2.28"/><circle cx="-17.3" cy="-10.2" r="2.81"/><circle cx="-10.1" cy="-0.9" r="2.05"/><circle cx="7.9" cy="-22.9" r="2.48"/><circle cx="13.6" cy="8.1" r="2.35"/><circle cx="-13.7" cy="23" r="2.45"/><circle cx="18.4" cy="11.6" r="1.8"/><circle cx="4.1" cy="16.5" r="1.99"/><circle cx="-4" cy="21.5" r="2.53"/><circle cx="-8.8" cy="12.3" r="1.98"/><circle cx="-11.8" cy="11.5" r="1.76"/><circle cx="-5.6" cy="22.9" r="2.39"/><circle cx="-17" cy="2" r="4.12"/><circle cx="22" cy="10" r="3.62"/><circle cx="-8" cy="14" r="2.88"/><circle cx="-20" cy="-10" r="2.62"/>
</g>
<g fill="#5b54d2" opacity="0.6">
<circle cx="14.9" cy="6.9" r="0.53"/><circle cx="1.6" cy="-6.1" r="0.59"/><circle cx="13.3" cy="17.8" r="0.49"/><circle cx="-7.8" cy="10.9" r="0.61"/><circle cx="13.7" cy="7.5" r="0.69"/><circle cx="0.5" cy="-10.8" r="0.44"/><circle cx="-19.6" cy="9.5" r="0.57"/><circle cx="-23.8" cy="-9.2" r="0.75"/><circle cx="14.2" cy="3.8" r="0.45"/><circle cx="6.7" cy="0.1" r="0.41"/><circle cx="-25.4" cy="-7.2" r="0.62"/><circle cx="3.2" cy="14.5" r="0.44"/><circle cx="-6.6" cy="-22.5" r="0.65"/><circle cx="1.9" cy="-15.5" r="0.61"/><circle cx="-17.3" cy="16.1" r="0.58"/><circle cx="-2.1" cy="-12.3" r="0.43"/><circle cx="4.2" cy="-3.9" r="0.72"/><circle cx="-0.4" cy="4.6" r="0.48"/><circle cx="20.7" cy="5.1" r="0.73"/><circle cx="13.8" cy="10.5" r="0.58"/><circle cx="-8.9" cy="-9.5" r="0.43"/><circle cx="-4.3" cy="-6.6" r="0.74"/><circle cx="-7.3" cy="-3.2" r="0.7"/><circle cx="-15.7" cy="-18.3" r="0.64"/><circle cx="-0" cy="-12.8" r="0.41"/><circle cx="19.7" cy="-5.1" r="0.69"/><circle cx="-10.8" cy="-2.6" r="0.74"/><circle cx="-1.9" cy="7.6" r="0.78"/><circle cx="9.3" cy="-4.2" r="0.74"/><circle cx="18.6" cy="2.8" r="0.74"/><circle cx="-11.6" cy="4.9" r="0.66"/><circle cx="2.8" cy="-3.4" r="0.55"/><circle cx="-3.5" cy="20.9" r="0.5"/><circle cx="-16.6" cy="9.2" r="0.65"/><circle cx="-10.2" cy="8.3" r="0.78"/><circle cx="10.9" cy="-15.7" r="0.55"/><circle cx="4.3" cy="19" r="0.4"/><circle cx="6.7" cy="3.6" r="0.43"/><circle cx="17.1" cy="-10" r="0.44"/><circle cx="-24.4" cy="0.6" r="0.69"/><circle cx="1.3" cy="14" r="0.57"/><circle cx="-1.6" cy="11" r="0.75"/><circle cx="3.5" cy="14.7" r="0.64"/><circle cx="-16.1" cy="-9" r="0.4"/><circle cx="-2" cy="-18.5" r="0.48"/><circle cx="-2.8" cy="0.5" r="0.59"/><circle cx="16.4" cy="-8.3" r="0.55"/><circle cx="-2.4" cy="2.6" r="0.69"/><circle cx="-9.9" cy="-2.2" r="0.6"/><circle cx="15.4" cy="-7.1" r="0.53"/><circle cx="0.3" cy="-14.7" r="0.52"/><circle cx="8.2" cy="-1.2" r="0.65"/><circle cx="-6.6" cy="10.8" r="0.75"/><circle cx="3.8" cy="7.5" r="0.62"/><circle cx="-5.6" cy="9.7" r="0.43"/><circle cx="-17.4" cy="-19.5" r="0.45"/><circle cx="12.1" cy="-17.3" r="0.65"/><circle cx="11.7" cy="13.7" r="0.43"/><circle cx="12.7" cy="5.3" r="0.57"/><circle cx="-16.7" cy="-12.1" r="0.71"/><circle cx="-22.3" cy="22.9" r="0.58"/><circle cx="-12" cy="-6.7" r="0.56"/><circle cx="-9.4" cy="8.5" r="0.74"/><circle cx="-22.1" cy="8.8" r="0.73"/><circle cx="-7.6" cy="12.8" r="0.53"/><circle cx="-20.2" cy="3.1" r="0.54"/><circle cx="-8.5" cy="-9.8" r="0.42"/><circle cx="-4" cy="-3.5" r="0.48"/><circle cx="-1.3" cy="-22.1" r="0.41"/><circle cx="1.1" cy="10.7" r="0.61"/><circle cx="16.5" cy="5" r="0.4"/><circle cx="-6.7" cy="0.9" r="0.51"/><circle cx="-32.4" cy="5.3" r="0.65"/><circle cx="-12.7" cy="20.7" r="0.58"/><circle cx="-23.8" cy="-4.6" r="0.5"/><circle cx="-10.3" cy="-6.2" r="0.59"/><circle cx="-18.2" cy="0.3" r="0.77"/><circle cx="-11.3" cy="12" r="0.49"/><circle cx="-6.2" cy="16.2" r="0.58"/><circle cx="-1.9" cy="-3.2" r="0.52"/><circle cx="25.9" cy="-1.4" r="0.74"/><circle cx="-0.7" cy="-8.2" r="0.56"/><circle cx="-21.2" cy="15.9" r="0.43"/><circle cx="12.3" cy="9.2" r="0.62"/><circle cx="6.5" cy="7.8" r="0.44"/><circle cx="-14.4" cy="2.9" r="0.65"/><circle cx="-5.9" cy="-5.3" r="0.56"/><circle cx="15.2" cy="-6.1" r="0.5"/><circle cx="-10.2" cy="10.1" r="0.8"/><circle cx="-11.4" cy="-16.1" r="0.6"/><circle cx="23.5" cy="6.1" r="0.72"/><circle cx="22.4" cy="6.2" r="0.43"/><circle cx="-11.2" cy="-11.5" r="0.66"/><circle cx="8.6" cy="-12.7" r="0.69"/><circle cx="23.3" cy="-4.3" r="0.71"/><circle cx="15.8" cy="-16.6" r="0.59"/><circle cx="4.5" cy="21.6" r="0.72"/><circle cx="11" cy="9.6" r="0.56"/><circle cx="25.4" cy="-1.5" r="0.61"/><circle cx="-22.2" cy="-2.8" r="0.74"/><circle cx="-26.6" cy="3.6" r="0.6"/><circle cx="2.6" cy="24.9" r="0.53"/><circle cx="-6" cy="3.6" r="0.74"/><circle cx="10.7" cy="2.4" r="0.49"/><circle cx="7.5" cy="6.8" r="0.71"/><circle cx="12.1" cy="1.1" r="0.75"/><circle cx="-23.9" cy="-10" r="0.74"/><circle cx="7.9" cy="-9.5" r="0.62"/><circle cx="1" cy="-4.4" r="0.63"/><circle cx="5.3" cy="19.1" r="0.74"/><circle cx="-19" cy="19.3" r="0.41"/><circle cx="-4.2" cy="7" r="0.54"/><circle cx="19.1" cy="-15.9" r="0.77"/><circle cx="9.5" cy="4.7" r="0.5"/><circle cx="1.8" cy="-26.7" r="0.7"/><circle cx="-2.3" cy="25.2" r="0.62"/><circle cx="-11.6" cy="-8.6" r="0.45"/><circle cx="0.2" cy="-3.8" r="0.62"/><circle cx="21" cy="3.5" r="0.56"/><circle cx="-4.1" cy="-1.9" r="0.54"/><circle cx="3.5" cy="-25" r="0.6"/><circle cx="-1.6" cy="15.9" r="0.65"/><circle cx="-16.8" cy="2.1" r="0.69"/><circle cx="-2" cy="-15.3" r="0.44"/><circle cx="-0.6" cy="-15" r="0.57"/><circle cx="0.2" cy="3.5" r="0.43"/><circle cx="-4.7" cy="18.5" r="0.59"/><circle cx="-6.5" cy="-12.5" r="0.42"/><circle cx="-10.7" cy="-16.6" r="0.74"/><circle cx="3" cy="15.9" r="0.47"/><circle cx="6.1" cy="24.5" r="0.52"/><circle cx="12.2" cy="13.1" r="0.45"/><circle cx="-18.6" cy="18.8" r="0.6"/><circle cx="3.5" cy="19.6" r="0.41"/><circle cx="14.4" cy="-21.3" r="0.49"/><circle cx="-8.4" cy="14.8" r="0.45"/><circle cx="-7.6" cy="15.2" r="0.7"/><circle cx="-9.5" cy="17.7" r="0.5"/><circle cx="-23.7" cy="-5" r="0.52"/><circle cx="-7.7" cy="-19.1" r="0.48"/><circle cx="-5.9" cy="-8" r="0.68"/><circle cx="-0.4" cy="23.8" r="0.6"/><circle cx="9" cy="-13" r="0.75"/><circle cx="-5.4" cy="25.3" r="0.59"/><circle cx="5" cy="-18.3" r="0.41"/><circle cx="1" cy="-13.9" r="0.67"/><circle cx="-12.4" cy="-8.2" r="0.74"/><circle cx="-1.2" cy="4.8" r="0.59"/><circle cx="-3.1" cy="19.7" r="0.66"/><circle cx="-7" cy="11.6" r="0.43"/><circle cx="-8.4" cy="-1.4" r="0.66"/><circle cx="-18.5" cy="-15.7" r="0.57"/><circle cx="2.2" cy="3.1" r="0.69"/><circle cx="-8.6" cy="16.9" r="0.78"/><circle cx="-6.2" cy="-2.9" r="0.44"/><circle cx="3" cy="8.8" r="0.45"/><circle cx="-10" cy="-22.4" r="0.72"/><circle cx="15.7" cy="-13.7" r="0.65"/><circle cx="-7" cy="7.6" r="0.47"/><circle cx="18.6" cy="18.1" r="0.54"/><circle cx="-9" cy="11.5" r="0.45"/><circle cx="-12.5" cy="2.1" r="0.46"/><circle cx="-0.5" cy="-23.4" r="0.56"/><circle cx="-18.6" cy="17.6" r="0.42"/><circle cx="-18.1" cy="16.7" r="0.71"/><circle cx="7.6" cy="-9.6" r="0.51"/><circle cx="-7.3" cy="-9.2" r="0.49"/><circle cx="5.8" cy="-2.6" r="0.69"/><circle cx="-0" cy="-5.7" r="0.67"/><circle cx="-1.4" cy="-22.6" r="0.6"/><circle cx="20.9" cy="-17.3" r="0.69"/><circle cx="9.4" cy="-5.6" r="0.46"/><circle cx="11.1" cy="-14.8" r="0.66"/><circle cx="22.3" cy="-14.4" r="0.74"/><circle cx="-0.8" cy="25.6" r="0.47"/><circle cx="13.8" cy="4.2" r="0.52"/><circle cx="6.4" cy="22.7" r="0.4"/><circle cx="-15.7" cy="7.5" r="0.45"/><circle cx="-6.2" cy="9.1" r="0.48"/><circle cx="-1.5" cy="-24.3" r="0.62"/><circle cx="-18.7" cy="-7.5" r="0.74"/><circle cx="10.5" cy="19.3" r="0.76"/><circle cx="9.6" cy="-11.9" r="0.61"/><circle cx="-5.1" cy="5.6" r="0.58"/><circle cx="24" cy="6.1" r="0.42"/><circle cx="-13.7" cy="-6.1" r="0.65"/><circle cx="-15" cy="-17.3" r="0.76"/><circle cx="-2.9" cy="22.5" r="0.51"/><circle cx="-17.6" cy="24.1" r="0.49"/><circle cx="-0.6" cy="-10.8" r="0.63"/><circle cx="5.6" cy="4.5" r="0.75"/><circle cx="1.2" cy="-6.5" r="0.55"/><circle cx="2.8" cy="7.2" r="0.44"/><circle cx="14.7" cy="4.4" r="0.61"/><circle cx="-1.9" cy="28.1" r="1.05"/><circle cx="13.2" cy="-20" r="1.25"/><circle cx="9.4" cy="7.9" r="0.89"/><circle cx="0.9" cy="36" r="0.98"/><circle cx="2.8" cy="23.1" r="0.75"/><circle cx="-12.2" cy="-4.6" r="0.74"/><circle cx="-9.8" cy="13.1" r="1.08"/><circle cx="20.1" cy="7.6" r="0.78"/><circle cx="-13" cy="-17.6" r="1.24"/><circle cx="-12.8" cy="13" r="0.83"/><circle cx="12.6" cy="5.5" r="0.74"/><circle cx="-22.4" cy="-14.2" r="0.81"/><circle cx="22.8" cy="6.5" r="0.79"/><circle cx="0" cy="31.1" r="0.81"/><circle cx="14.1" cy="12.5" r="0.99"/><circle cx="14.2" cy="-11.3" r="0.86"/><circle cx="5.1" cy="-11.9" r="1.21"/><circle cx="12.6" cy="-10" r="1.21"/><circle cx="-24.5" cy="-7.6" r="1.18"/><circle cx="-5.5" cy="-2.1" r="1.04"/><circle cx="-7.3" cy="8.9" r="0.98"/><circle cx="-5.3" cy="-0.8" r="1.11"/><circle cx="11.9" cy="19.5" r="1.24"/><circle cx="-21" cy="14.2" r="0.83"/><circle cx="-2.8" cy="-25.1" r="1.14"/><circle cx="3.8" cy="-10.4" r="1.14"/><circle cx="0.4" cy="13.8" r="0.99"/><circle cx="8.1" cy="-9.3" r="0.81"/><circle cx="-21.2" cy="3.9" r="1.03"/><circle cx="3.8" cy="-26.5" r="0.78"/><circle cx="4.6" cy="-1" r="1.2"/><circle cx="6.6" cy="-5" r="0.79"/><circle cx="17.4" cy="-7" r="1.18"/><circle cx="-19.8" cy="-8.3" r="0.91"/><circle cx="-15.7" cy="-1.6" r="0.94"/><circle cx="-25.7" cy="8.2" r="0.98"/><circle cx="-8.4" cy="6.4" r="0.84"/><circle cx="-15" cy="-3.9" r="0.74"/><circle cx="-15.5" cy="11.3" r="0.98"/><circle cx="-18.3" cy="9.3" r="0.8"/><circle cx="5.1" cy="-17.6" r="0.85"/><circle cx="-14.9" cy="-6.1" r="0.74"/><circle cx="21.4" cy="9.9" r="1.15"/><circle cx="20.1" cy="15.6" r="1.17"/><circle cx="-12.3" cy="11.5" r="1.25"/><circle cx="3.9" cy="-2.7" r="0.84"/><circle cx="8.9" cy="23.5" r="0.78"/>
</g>
<g fill="#362cc4" opacity="0.87">
<circle cx="-12.6" cy="21.1" r="0.77"/><circle cx="3.2" cy="-20.1" r="0.77"/><circle cx="17.5" cy="-5" r="0.51"/><circle cx="-3.8" cy="-7.4" r="0.42"/><circle cx="6" cy="13.3" r="0.45"/><circle cx="-5.2" cy="13.5" r="0.68"/><circle cx="8" cy="-11.4" r="0.57"/><circle cx="-21.7" cy="13.2" r="0.66"/><circle cx="-5.4" cy="23.4" r="0.61"/><circle cx="-11.1" cy="-22" r="0.6"/><circle cx="-16.7" cy="3.4" r="0.58"/><circle cx="-14.4" cy="8.9" r="0.76"/><circle cx="-23" cy="5" r="0.7"/><circle cx="15.7" cy="17.1" r="0.42"/><circle cx="5.3" cy="-5.4" r="0.65"/><circle cx="-1" cy="-9" r="0.42"/><circle cx="-3.7" cy="-11.8" r="0.7"/><circle cx="-0.9" cy="15.9" r="0.7"/><circle cx="1.1" cy="-19.3" r="0.79"/><circle cx="19" cy="-1.2" r="0.58"/><circle cx="-4.7" cy="14.6" r="0.4"/><circle cx="2.8" cy="-18.1" r="0.79"/><circle cx="-2.6" cy="-3.4" r="0.77"/><circle cx="4.4" cy="-21.2" r="0.63"/><circle cx="5.4" cy="4.9" r="0.59"/><circle cx="-15.9" cy="6.3" r="0.54"/><circle cx="-14.6" cy="15.2" r="0.73"/><circle cx="-15.8" cy="21" r="0.65"/><circle cx="19.4" cy="1.8" r="0.43"/><circle cx="-12.2" cy="-3" r="0.63"/><circle cx="23.6" cy="8.1" r="0.58"/><circle cx="-7.6" cy="-8.8" r="0.64"/><circle cx="-0.6" cy="21.6" r="0.63"/><circle cx="-12.4" cy="-4.3" r="0.5"/><circle cx="-19.2" cy="11.2" r="0.46"/><circle cx="-20.9" cy="-0.5" r="0.57"/><circle cx="13.7" cy="-8.1" r="0.45"/><circle cx="-15.6" cy="6.8" r="0.52"/><circle cx="1.6" cy="-5.3" r="0.61"/><circle cx="5.2" cy="-9.6" r="0.65"/><circle cx="12.4" cy="-6.3" r="0.74"/><circle cx="23.8" cy="-12.9" r="0.41"/><circle cx="3.7" cy="-20.6" r="0.76"/><circle cx="-4.8" cy="10.8" r="0.79"/><circle cx="-2.2" cy="-14.2" r="0.44"/><circle cx="-15.1" cy="5.7" r="0.42"/><circle cx="6" cy="24.6" r="0.41"/><circle cx="-10.5" cy="15.9" r="0.78"/><circle cx="-22.7" cy="-15.3" r="0.42"/><circle cx="-1.3" cy="-8.1" r="0.44"/><circle cx="-12.7" cy="10.8" r="0.61"/><circle cx="-18" cy="-2.9" r="0.74"/><circle cx="-13.3" cy="-0.2" r="0.71"/><circle cx="-3.3" cy="-6.2" r="0.41"/><circle cx="14.7" cy="21.6" r="0.4"/><circle cx="6.3" cy="1.1" r="0.53"/><circle cx="20.5" cy="1.8" r="0.56"/><circle cx="17.7" cy="-20.6" r="0.73"/><circle cx="-19.8" cy="15.5" r="0.47"/><circle cx="9.9" cy="11.5" r="0.46"/><circle cx="2.4" cy="14.7" r="0.7"/><circle cx="20.5" cy="-6.9" r="0.57"/><circle cx="2.3" cy="21.7" r="0.47"/><circle cx="-6.6" cy="10.9" r="0.72"/><circle cx="-13.5" cy="6.1" r="0.7"/><circle cx="-3.5" cy="-15.5" r="0.69"/><circle cx="19.4" cy="4.6" r="0.75"/><circle cx="16.3" cy="-19.8" r="0.78"/><circle cx="3.6" cy="-5.7" r="0.77"/><circle cx="6.6" cy="14.8" r="0.72"/><circle cx="-17.9" cy="-12.9" r="0.41"/><circle cx="-21.4" cy="2.2" r="0.56"/><circle cx="21" cy="-1.8" r="0.48"/><circle cx="19.3" cy="-2.8" r="0.77"/><circle cx="-23.5" cy="-11.6" r="0.63"/><circle cx="3.7" cy="22.5" r="0.75"/><circle cx="-22.8" cy="10.4" r="0.4"/><circle cx="12.1" cy="-1" r="0.5"/><circle cx="-13.8" cy="18.6" r="0.8"/><circle cx="-1.5" cy="15.4" r="0.77"/><circle cx="12.4" cy="3.7" r="0.78"/><circle cx="-0.1" cy="3.1" r="0.65"/><circle cx="-10.3" cy="-15.3" r="0.5"/><circle cx="18.5" cy="-2.8" r="0.42"/><circle cx="-24.7" cy="7.2" r="0.46"/><circle cx="17.6" cy="15.2" r="0.48"/><circle cx="-14.1" cy="-23.1" r="0.54"/><circle cx="6.4" cy="-3.9" r="0.53"/><circle cx="11" cy="14.7" r="0.7"/><circle cx="-20.9" cy="6.9" r="0.52"/><circle cx="-2.6" cy="26.5" r="0.47"/><circle cx="-14.9" cy="14.2" r="0.6"/><circle cx="1.7" cy="-5.7" r="0.67"/><circle cx="-2.4" cy="14.3" r="0.46"/><circle cx="-4.9" cy="-20" r="0.42"/><circle cx="0.9" cy="3" r="0.75"/><circle cx="19.2" cy="17.7" r="0.46"/><circle cx="-4.3" cy="11" r="0.52"/><circle cx="16" cy="-20.9" r="0.45"/><circle cx="-26.1" cy="17.5" r="0.61"/><circle cx="9.5" cy="-14.3" r="0.77"/><circle cx="8.3" cy="3.6" r="0.51"/><circle cx="-18.2" cy="2.8" r="0.45"/><circle cx="-15.5" cy="20.3" r="0.47"/><circle cx="15.6" cy="1.5" r="0.52"/><circle cx="1.5" cy="-10.5" r="0.49"/><circle cx="-8.6" cy="10.3" r="0.61"/><circle cx="2.6" cy="-13.1" r="0.62"/><circle cx="-19.8" cy="8.3" r="0.66"/><circle cx="23.3" cy="-4.2" r="0.44"/><circle cx="19.9" cy="15.9" r="0.72"/><circle cx="7.8" cy="6" r="0.75"/><circle cx="-10" cy="-14.8" r="0.71"/><circle cx="4.7" cy="2.6" r="0.49"/><circle cx="-0" cy="6.1" r="0.64"/><circle cx="-13.2" cy="7.4" r="0.67"/><circle cx="14.3" cy="13.5" r="0.7"/><circle cx="1.6" cy="-2.7" r="0.75"/><circle cx="-6.5" cy="-19.5" r="0.52"/><circle cx="15.8" cy="15" r="0.68"/><circle cx="-4.4" cy="11.3" r="0.52"/><circle cx="5" cy="18.1" r="0.53"/><circle cx="5.7" cy="31.2" r="0.54"/><circle cx="10.2" cy="-4.4" r="0.48"/><circle cx="-3.1" cy="-19.1" r="0.69"/><circle cx="17.3" cy="-5.5" r="0.78"/><circle cx="11.2" cy="-24.6" r="0.43"/><circle cx="5.8" cy="25.6" r="0.55"/><circle cx="-9.3" cy="15" r="0.55"/><circle cx="-3.3" cy="5.3" r="0.72"/><circle cx="10.6" cy="38" r="0.55"/><circle cx="-13.1" cy="-11.2" r="0.43"/><circle cx="-5.9" cy="17.7" r="0.58"/><circle cx="-15" cy="19.1" r="0.42"/><circle cx="8.3" cy="-20.9" r="0.72"/><circle cx="-20.8" cy="-2.7" r="0.7"/><circle cx="-20.8" cy="-8.6" r="0.69"/><circle cx="6.8" cy="11.6" r="0.71"/><circle cx="15.7" cy="13.6" r="0.47"/><circle cx="-18.1" cy="6.5" r="0.41"/><circle cx="-11" cy="8.1" r="0.42"/><circle cx="4.6" cy="-20.4" r="0.76"/><circle cx="25.6" cy="-3.4" r="0.7"/><circle cx="-14.6" cy="8" r="0.56"/><circle cx="-16.2" cy="30.4" r="0.72"/><circle cx="-29.8" cy="-2.9" r="0.62"/><circle cx="-7.1" cy="8.8" r="1.04"/><circle cx="20.2" cy="-13.9" r="1.13"/><circle cx="26.3" cy="1.2" r="1.17"/><circle cx="0.3" cy="-22.2" r="0.72"/><circle cx="-21.6" cy="17.3" r="1.24"/><circle cx="12" cy="13.3" r="0.72"/><circle cx="17.4" cy="9.1" r="0.71"/><circle cx="12" cy="-2.7" r="0.8"/><circle cx="-7" cy="-23.6" r="0.85"/><circle cx="-13.1" cy="16.8" r="0.71"/><circle cx="-19.1" cy="16.1" r="0.87"/><circle cx="0.7" cy="5.3" r="1.13"/><circle cx="14.5" cy="1.6" r="1.16"/><circle cx="3.9" cy="0.5" r="0.82"/><circle cx="16.6" cy="14.8" r="1.07"/><circle cx="-6.5" cy="15.3" r="1.14"/><circle cx="-1.9" cy="2.3" r="1.25"/><circle cx="26.1" cy="-3" r="1.11"/><circle cx="-2.4" cy="2.6" r="1.13"/><circle cx="2.2" cy="-21.5" r="0.74"/><circle cx="12.9" cy="-3.4" r="1.07"/><circle cx="8.1" cy="9.3" r="0.73"/><circle cx="-3.5" cy="-10.5" r="1.05"/><circle cx="-21.2" cy="9.8" r="1.16"/><circle cx="-3.4" cy="-17.5" r="1.24"/><circle cx="10.1" cy="-9.7" r="1.2"/><circle cx="12.1" cy="-20.3" r="0.8"/><circle cx="-16.4" cy="11.9" r="1.06"/><circle cx="-8.4" cy="7.8" r="1.04"/><circle cx="-5.3" cy="6.7" r="0.82"/><circle cx="1.5" cy="-3.9" r="0.7"/><circle cx="-23.6" cy="-8.1" r="1.16"/><circle cx="-18" cy="4.7" r="0.78"/><circle cx="4.4" cy="23.9" r="1.16"/><circle cx="13.3" cy="9" r="0.95"/><circle cx="24" cy="1.9" r="0.72"/><circle cx="-21.9" cy="6.3" r="1.01"/><circle cx="14.8" cy="-13.5" r="1.05"/><circle cx="-14.2" cy="18.4" r="0.97"/><circle cx="-22" cy="10.5" r="0.95"/><circle cx="-9.3" cy="-4" r="0.74"/><circle cx="-2.3" cy="2.3" r="0.98"/><circle cx="5.1" cy="32.6" r="1.19"/><circle cx="-7.5" cy="9.5" r="1"/><circle cx="-26.1" cy="4.5" r="1.21"/><circle cx="-23.3" cy="11" r="1.17"/><circle cx="-9.1" cy="20.2" r="1.07"/><circle cx="-1" cy="-1.9" r="0.96"/><circle cx="5.2" cy="-10.9" r="0.8"/><circle cx="0" cy="11.5" r="1.12"/><circle cx="-12.4" cy="-3.1" r="0.78"/><circle cx="-26" cy="4.6" r="0.85"/><circle cx="12.2" cy="-5" r="0.86"/><circle cx="-18.4" cy="-1.8" r="0.7"/><circle cx="17.8" cy="15.2" r="0.71"/><circle cx="-18.1" cy="12.7" r="0.89"/><circle cx="-27.5" cy="9.6" r="1.02"/><circle cx="5.5" cy="17.8" r="1.24"/><circle cx="-19.2" cy="-10.9" r="0.87"/><circle cx="5.5" cy="-2.6" r="1.19"/><circle cx="-16.9" cy="13.9" r="0.71"/><circle cx="-9.4" cy="17.2" r="1.24"/><circle cx="-12.6" cy="-5.4" r="1.24"/><circle cx="6" cy="22.6" r="1.24"/><circle cx="-8.9" cy="-9.6" r="1"/><circle cx="6.7" cy="-17.1" r="1.21"/><circle cx="-2.3" cy="30" r="0.93"/><circle cx="22" cy="4.9" r="0.84"/><circle cx="-24.6" cy="10.3" r="0.88"/><circle cx="-2.8" cy="11.7" r="1"/><circle cx="-6.3" cy="-24.1" r="1.15"/><circle cx="14.1" cy="6.1" r="0.79"/><circle cx="-11.8" cy="6.1" r="0.77"/><circle cx="-17.6" cy="1.1" r="0.99"/><circle cx="-8.6" cy="25.2" r="0.76"/><circle cx="0.4" cy="26.9" r="1.19"/><circle cx="-7.8" cy="-10.5" r="0.96"/><circle cx="-6.4" cy="4.7" r="1.19"/><circle cx="3.4" cy="5" r="1.05"/><circle cx="11.3" cy="16.9" r="0.83"/><circle cx="6.1" cy="23.2" r="0.88"/><circle cx="11.3" cy="-13.1" r="0.84"/><circle cx="-11.5" cy="16.3" r="0.81"/><circle cx="3.5" cy="15.5" r="0.85"/><circle cx="15.2" cy="13.1" r="1.23"/><circle cx="0.5" cy="12.7" r="1.08"/><circle cx="-26.6" cy="-2.7" r="0.86"/><circle cx="2.6" cy="0.5" r="0.86"/><circle cx="0.8" cy="9.7" r="1.11"/><circle cx="6.4" cy="-23.5" r="0.73"/><circle cx="0.5" cy="4.9" r="1.14"/><circle cx="-3.7" cy="1.3" r="1.08"/><circle cx="-3.1" cy="21.9" r="0.9"/><circle cx="-21.8" cy="-4.8" r="1.16"/><circle cx="-6.2" cy="19.8" r="0.89"/><circle cx="-15.1" cy="-5.9" r="1.1"/><circle cx="-14.5" cy="17.7" r="1.25"/><circle cx="10.6" cy="-23.3" r="0.74"/><circle cx="0.8" cy="9.8" r="1.22"/><circle cx="26.4" cy="-0.8" r="0.87"/><circle cx="-3" cy="21.2" r="1.04"/><circle cx="18.5" cy="9.2" r="0.98"/><circle cx="3" cy="-14" r="0.84"/><circle cx="-25.7" cy="5.4" r="0.8"/><circle cx="-29.2" cy="10.4" r="0.72"/><circle cx="15" cy="-18.2" r="0.98"/><circle cx="7.7" cy="-21.5" r="1.24"/><circle cx="-5" cy="-16.6" r="0.76"/><circle cx="6.5" cy="-25.1" r="0.81"/><circle cx="15.6" cy="-2.4" r="1.03"/><circle cx="-14.7" cy="-17.2" r="1.2"/><circle cx="23.5" cy="4.3" r="0.76"/><circle cx="18.2" cy="9.8" r="1.08"/><circle cx="-23.6" cy="-6.2" r="1.16"/><circle cx="2.2" cy="-6.5" r="0.96"/><circle cx="19.7" cy="5.2" r="1"/><circle cx="-9.9" cy="25.1" r="0.91"/><circle cx="6.6" cy="-8.1" r="0.84"/><circle cx="-12.1" cy="-16.5" r="0.87"/><circle cx="-20.3" cy="13.9" r="0.91"/><circle cx="14.5" cy="16.1" r="0.96"/><circle cx="-6" cy="25" r="1.06"/><circle cx="-3.2" cy="29.8" r="0.85"/><circle cx="14.1" cy="-6.5" r="0.8"/><circle cx="-3.4" cy="-26.9" r="1.16"/><circle cx="-21.7" cy="-9.5" r="0.8"/><circle cx="2.3" cy="6.3" r="1.22"/><circle cx="19.5" cy="-18" r="1.01"/><circle cx="24.2" cy="8.7" r="1.09"/><circle cx="0.9" cy="6.2" r="1.03"/><circle cx="-15.4" cy="-22" r="1.08"/><circle cx="-0.4" cy="15" r="0.96"/><circle cx="5.9" cy="-7.7" r="1.24"/><circle cx="-11.8" cy="-9.6" r="1.03"/><circle cx="7.9" cy="18.9" r="0.73"/><circle cx="4.4" cy="17.5" r="0.75"/><circle cx="19.8" cy="7.8" r="1.18"/><circle cx="-0.5" cy="3.5" r="0.75"/><circle cx="-1.5" cy="23.6" r="1.15"/><circle cx="-2.3" cy="10.5" r="1.25"/><circle cx="-4.5" cy="-5" r="0.78"/><circle cx="12.3" cy="-15.7" r="0.85"/><circle cx="-3.7" cy="-4.5" r="0.83"/><circle cx="-14.9" cy="-10.9" r="0.72"/><circle cx="-0.7" cy="-8.3" r="1"/><circle cx="-26.3" cy="5.8" r="1.16"/><circle cx="-10.7" cy="-11.7" r="1.2"/><circle cx="-18.5" cy="18.9" r="0.99"/><circle cx="-10.1" cy="21.2" r="1.69"/><circle cx="-17.3" cy="-10.2" r="2.08"/><circle cx="-10.1" cy="-0.9" r="1.52"/><circle cx="7.9" cy="-22.9" r="1.83"/><circle cx="13.6" cy="8.1" r="1.74"/><circle cx="-13.7" cy="23" r="1.82"/><circle cx="18.4" cy="11.6" r="1.34"/><circle cx="4.1" cy="16.5" r="1.48"/><circle cx="-4" cy="21.5" r="1.88"/><circle cx="-8.8" cy="12.3" r="1.47"/><circle cx="-11.8" cy="11.5" r="1.3"/><circle cx="-5.6" cy="22.9" r="1.77"/><circle cx="-17" cy="2" r="3.3"/><circle cx="22" cy="10" r="2.9"/><circle cx="-8" cy="14" r="2.3"/><circle cx="-20" cy="-10" r="2.1"/>
</g>
</g></g>
<circle cx="231.2" cy="495" r="28.2" fill="#dddddf"/>
<g clip-path="url(#cp3)"><g filter="url(#bl)" transform="translate(231.2 495)">
<g fill="#7d78dc" opacity="0.33">
<circle cx="-2.3" cy="-4.6" r="1.77"/><circle cx="2.2" cy="22.6" r="1.42"/><circle cx="20.6" cy="15.2" r="1.78"/><circle cx="-17.2" cy="-11.1" r="1.75"/><circle cx="-5.2" cy="5.1" r="1.62"/><circle cx="-15.5" cy="14.2" r="1.11"/><circle cx="-19.8" cy="-4" r="1.81"/><circle cx="15.3" cy="-15.9" r="1.74"/><circle cx="-7" cy="20.9" r="1.49"/><circle cx="-19.7" cy="-1" r="1.64"/><circle cx="-14.9" cy="19.9" r="1.74"/><circle cx="11.6" cy="-5.7" r="1.5"/><circle cx="12.6" cy="-21.3" r="1.84"/><circle cx="11.4" cy="-16" r="1.66"/><circle cx="-15.5" cy="23.2" r="1.24"/><circle cx="16" cy="20.9" r="1.28"/><circle cx="-21.4" cy="11.8" r="1.4"/><circle cx="7.7" cy="-7.8" r="1.14"/><circle cx="-8.1" cy="25.2" r="1.08"/><circle cx="15.2" cy="-1.6" r="1.52"/><circle cx="1.1" cy="-9.1" r="1.74"/><circle cx="-1.8" cy="15.8" r="1.77"/><circle cx="-18.9" cy="-11.3" r="1.42"/><circle cx="0.4" cy="-8.6" r="1.27"/><circle cx="-13" cy="-11" r="1.85"/><circle cx="24.4" cy="2.6" r="1.13"/><circle cx="8.3" cy="-5.3" r="1.47"/><circle cx="-4.7" cy="-26.8" r="1.71"/><circle cx="-22.5" cy="-7.1" r="1.86"/><circle cx="-17.7" cy="-14.6" r="1.77"/><circle cx="-4.4" cy="21.5" r="1.17"/><circle cx="5.9" cy="-19.2" r="1.87"/><circle cx="12.3" cy="21.9" r="1.22"/><circle cx="-18.3" cy="-2.6" r="1.21"/><circle cx="11.2" cy="-12.8" r="1.45"/><circle cx="7.2" cy="3.4" r="1.35"/><circle cx="-4.4" cy="-25.2" r="1.26"/><circle cx="-29" cy="-2.5" r="1.62"/><circle cx="10.3" cy="-11.4" r="1.06"/><circle cx="20.8" cy="12.7" r="1.55"/><circle cx="2.1" cy="18.7" r="1.34"/><circle cx="7.6" cy="-9.7" r="1.05"/><circle cx="-18.4" cy="-18.9" r="1.13"/><circle cx="-21.3" cy="-10.7" r="1.65"/><circle cx="-3.6" cy="26.4" r="1.35"/><circle cx="9.4" cy="16" r="2.47"/><circle cx="-3" cy="-14" r="2.25"/>
</g>
<g fill="#5b54d2" opacity="0.6">
<circle cx="-13.8" cy="2.6" r="0.6"/><circle cx="9.4" cy="-13.9" r="0.5"/><circle cx="3.8" cy="-16.8" r="0.74"/><circle cx="7.7" cy="-21.5" r="0.76"/><circle cx="17.8" cy="-7.5" r="0.62"/><circle cx="9.3" cy="10.1" r="0.73"/><circle cx="6.4" cy="-1.8" r="0.63"/><circle cx="-11.2" cy="-8.3" r="0.46"/><circle cx="-6.2" cy="24.2" r="0.65"/><circle cx="-2" cy="-25" r="0.71"/><circle cx="5.7" cy="25.8" r="0.7"/><circle cx="19.6" cy="-9.3" r="0.53"/><circle cx="3.6" cy="-24.7" r="0.45"/><circle cx="1.6" cy="-3.1" r="0.57"/><circle cx="14" cy="-22.2" r="0.71"/><circle cx="-14" cy="22.4" r="0.52"/><circle cx="3.3" cy="-9.7" r="0.48"/><circle cx="-10.8" cy="6.4" r="0.57"/><circle cx="-22.1" cy="13.9" r="0.78"/><circle cx="14.4" cy="-4.1" r="0.8"/><circle cx="-16.3" cy="12.4" r="0.71"/><circle cx="-2.6" cy="-23.8" r="0.53"/><circle cx="-17.7" cy="6.1" r="0.63"/><circle cx="8.7" cy="-8.1" r="0.61"/><circle cx="5.8" cy="-0.8" r="0.52"/><circle cx="-9.6" cy="20.3" r="0.74"/><circle cx="-15.3" cy="22.1" r="0.64"/><circle cx="-10.3" cy="-16.4" r="0.75"/><circle cx="10.7" cy="14.8" r="0.78"/><circle cx="4.6" cy="5.9" r="0.44"/><circle cx="-0.3" cy="-15.2" r="0.64"/><circle cx="10.1" cy="-4.8" r="0.7"/><circle cx="8.8" cy="-5.1" r="0.61"/><circle cx="12.3" cy="-12.1" r="0.66"/><circle cx="6.4" cy="-22.6" r="0.47"/><circle cx="0.3" cy="8" r="0.64"/><circle cx="5.8" cy="-24.5" r="0.79"/><circle cx="-10.5" cy="-1" r="0.41"/><circle cx="6.7" cy="-25.4" r="0.4"/><circle cx="-3.4" cy="-9.9" r="0.54"/><circle cx="11.9" cy="-17.7" r="0.54"/><circle cx="0.6" cy="17.2" r="0.42"/><circle cx="-9.9" cy="6.5" r="0.57"/><circle cx="3.5" cy="-26" r="0.41"/><circle cx="-10.8" cy="-23.1" r="0.48"/><circle cx="6.4" cy="-25.5" r="0.7"/><circle cx="-10.4" cy="-24.5" r="0.7"/><circle cx="-14.6" cy="6.3" r="0.76"/><circle cx="21.1" cy="12.8" r="0.67"/><circle cx="3.1" cy="22.4" r="0.78"/><circle cx="-15.7" cy="13.8" r="0.5"/><circle cx="8.2" cy="-13.8" r="0.72"/><circle cx="0.6" cy="-16.7" r="0.53"/><circle cx="-25" cy="8.1" r="0.64"/><circle cx="23.4" cy="-11.5" r="0.41"/><circle cx="-15.8" cy="8.8" r="0.69"/><circle cx="-10.3" cy="-3.1" r="0.45"/><circle cx="10.7" cy="15.3" r="0.68"/><circle cx="-12.1" cy="-20.1" r="0.58"/><circle cx="22.2" cy="-9.8" r="0.51"/><circle cx="-7.9" cy="-5.5" r="0.42"/><circle cx="6.6" cy="-4.6" r="0.78"/><circle cx="-20.5" cy="13.5" r="0.64"/><circle cx="7.4" cy="21.9" r="0.7"/><circle cx="-16.7" cy="19.1" r="0.46"/><circle cx="12" cy="14.9" r="0.48"/><circle cx="-14.2" cy="17.1" r="0.57"/><circle cx="16.2" cy="7" r="0.69"/><circle cx="-0.9" cy="4.4" r="0.49"/><circle cx="-17.9" cy="-11.1" r="0.55"/><circle cx="15.7" cy="8" r="0.77"/><circle cx="4.3" cy="16" r="0.7"/><circle cx="15.7" cy="-5.1" r="0.51"/><circle cx="0.6" cy="22.4" r="0.71"/><circle cx="-7.6" cy="21.1" r="0.65"/><circle cx="20.6" cy="11.7" r="0.63"/><circle cx="-2.7" cy="-22.9" r="0.54"/><circle cx="16.4" cy="3.7" r="0.43"/><circle cx="-19.9" cy="15.6" r="0.56"/><circle cx="26.9" cy="-3.9" r="0.72"/><circle cx="-10.6" cy="-5.1" r="0.65"/><circle cx="-14.7" cy="3.4" r="0.51"/><circle cx="-14.1" cy="4.3" r="0.69"/><circle cx="-7.8" cy="-15.5" r="0.64"/><circle cx="-16.5" cy="-3" r="0.55"/><circle cx="8.3" cy="10.6" r="0.49"/><circle cx="-12.3" cy="-13.2" r="0.44"/><circle cx="6" cy="19" r="0.54"/><circle cx="-20.8" cy="-3.2" r="0.72"/><circle cx="-13.4" cy="0.3" r="0.65"/><circle cx="-20.5" cy="-3.9" r="0.46"/><circle cx="-18.7" cy="4.5" r="0.43"/><circle cx="8.9" cy="18.3" r="0.65"/><circle cx="-18.4" cy="-3.7" r="0.49"/><circle cx="14.5" cy="-23.7" r="0.56"/><circle cx="10.9" cy="-8.2" r="0.57"/><circle cx="-10.7" cy="-24.9" r="0.79"/><circle cx="2.8" cy="-8.2" r="0.66"/><circle cx="12.6" cy="16.5" r="0.44"/><circle cx="20.3" cy="10.3" r="0.41"/><circle cx="4.9" cy="19.1" r="0.58"/><circle cx="-6" cy="8.2" r="0.64"/><circle cx="-15.8" cy="-0.2" r="0.44"/><circle cx="13.2" cy="22.5" r="0.56"/><circle cx="0.8" cy="20.2" r="0.71"/><circle cx="-8.1" cy="-6.5" r="0.51"/><circle cx="21.8" cy="-0.6" r="0.52"/><circle cx="-9.4" cy="23.8" r="0.66"/><circle cx="0.8" cy="-19.5" r="0.73"/><circle cx="4.8" cy="-20.1" r="0.45"/><circle cx="-14" cy="6.7" r="0.42"/><circle cx="-3.7" cy="10.1" r="0.66"/><circle cx="-8.1" cy="12.8" r="0.57"/><circle cx="0.9" cy="-19.4" r="0.65"/><circle cx="-13.8" cy="-11.1" r="0.71"/><circle cx="4.9" cy="-13.2" r="0.76"/><circle cx="-16.7" cy="-20.1" r="0.79"/><circle cx="-19.8" cy="-18.3" r="0.75"/><circle cx="-4" cy="8.7" r="0.59"/><circle cx="-15.5" cy="14.2" r="0.74"/><circle cx="-19.8" cy="-4" r="1.2"/><circle cx="-19.7" cy="-1" r="1.09"/><circle cx="11.6" cy="-5.7" r="1"/><circle cx="12.6" cy="-21.3" r="1.23"/><circle cx="11.4" cy="-16" r="1.11"/><circle cx="-15.5" cy="23.2" r="0.82"/><circle cx="-21.4" cy="11.8" r="0.93"/><circle cx="7.7" cy="-7.8" r="0.76"/><circle cx="-8.1" cy="25.2" r="0.72"/><circle cx="15.2" cy="-1.6" r="1.02"/><circle cx="-18.9" cy="-11.3" r="0.95"/><circle cx="0.4" cy="-8.6" r="0.85"/><circle cx="8.3" cy="-5.3" r="0.98"/><circle cx="-22.5" cy="-7.1" r="1.24"/><circle cx="-17.7" cy="-14.6" r="1.18"/><circle cx="-4.4" cy="21.5" r="0.78"/><circle cx="5.9" cy="-19.2" r="1.24"/><circle cx="-18.3" cy="-2.6" r="0.81"/><circle cx="11.2" cy="-12.8" r="0.96"/><circle cx="7.2" cy="3.4" r="0.9"/><circle cx="-29" cy="-2.5" r="1.08"/><circle cx="10.3" cy="-11.4" r="0.7"/><circle cx="20.8" cy="12.7" r="1.03"/><circle cx="2.1" cy="18.7" r="0.9"/><circle cx="7.6" cy="-9.7" r="0.7"/><circle cx="-18.4" cy="-18.9" r="0.75"/><circle cx="-21.3" cy="-10.7" r="1.1"/>
</g>
<g fill="#362cc4" opacity="0.69">
<circle cx="10" cy="-25.4" r="0.54"/><circle cx="-23.4" cy="6" r="0.48"/><circle cx="21.6" cy="1.2" r="0.76"/><circle cx="-1.3" cy="5" r="0.76"/><circle cx="-17" cy="5.6" r="0.43"/><circle cx="1" cy="20.6" r="0.4"/><circle cx="9.4" cy="2" r="0.7"/><circle cx="4.1" cy="-12.2" r="0.52"/><circle cx="12" cy="-17" r="0.54"/><circle cx="13" cy="-7.7" r="0.45"/><circle cx="14.1" cy="9.7" r="0.66"/><circle cx="-1.9" cy="11.5" r="0.53"/><circle cx="13.9" cy="21" r="0.58"/><circle cx="-7.3" cy="7.5" r="0.62"/><circle cx="24.6" cy="-0.9" r="0.45"/><circle cx="-9.5" cy="4.6" r="0.76"/><circle cx="-2.2" cy="-23" r="0.7"/><circle cx="5.7" cy="-10.4" r="0.65"/><circle cx="-0.2" cy="11.6" r="0.65"/><circle cx="-9.7" cy="-7.5" r="0.62"/><circle cx="19.6" cy="10.4" r="0.57"/><circle cx="3" cy="11.5" r="0.61"/><circle cx="-5.5" cy="-22.5" r="0.66"/><circle cx="3.7" cy="-12.8" r="0.61"/><circle cx="-12.1" cy="-3.1" r="0.42"/><circle cx="15.9" cy="20" r="0.52"/><circle cx="-10.9" cy="9.8" r="0.69"/><circle cx="13" cy="20.8" r="0.64"/><circle cx="-6.7" cy="-14.4" r="0.62"/><circle cx="-21.5" cy="3.5" r="0.61"/><circle cx="-6.8" cy="-24.2" r="0.73"/><circle cx="-19.6" cy="17.4" r="0.5"/><circle cx="14.5" cy="-17.8" r="0.45"/><circle cx="21.9" cy="-3.6" r="0.6"/><circle cx="-19.9" cy="10.4" r="0.59"/><circle cx="9.4" cy="-12.8" r="0.74"/><circle cx="-3.4" cy="-13.4" r="0.54"/><circle cx="-7.4" cy="16.7" r="0.62"/><circle cx="-19.4" cy="-18.4" r="0.56"/><circle cx="-10.1" cy="-7.1" r="0.6"/><circle cx="-10.7" cy="13.7" r="0.61"/><circle cx="14.4" cy="7.5" r="0.59"/><circle cx="12" cy="11" r="0.54"/><circle cx="-20.1" cy="10.8" r="0.74"/><circle cx="-17.6" cy="-15.1" r="0.45"/><circle cx="18.8" cy="-8.6" r="0.45"/><circle cx="6.9" cy="-1.4" r="0.73"/><circle cx="-24.6" cy="-10.2" r="0.62"/><circle cx="19.1" cy="6.5" r="0.56"/><circle cx="-11.7" cy="-1.9" r="0.45"/><circle cx="1.4" cy="23.6" r="0.42"/><circle cx="-2.3" cy="-4.6" r="1.18"/><circle cx="2.2" cy="22.6" r="0.95"/><circle cx="20.6" cy="15.2" r="1.19"/><circle cx="-17.2" cy="-11.1" r="1.17"/><circle cx="-5.2" cy="5.1" r="1.08"/><circle cx="15.3" cy="-15.9" r="1.16"/><circle cx="-7" cy="20.9" r="0.99"/><circle cx="-14.9" cy="19.9" r="1.16"/><circle cx="16" cy="20.9" r="0.85"/><circle cx="1.1" cy="-9.1" r="1.16"/><circle cx="-1.8" cy="15.8" r="1.18"/><circle cx="-13" cy="-11" r="1.23"/><circle cx="24.4" cy="2.6" r="0.76"/><circle cx="-4.7" cy="-26.8" r="1.14"/><circle cx="12.3" cy="21.9" r="0.82"/><circle cx="-4.4" cy="-25.2" r="0.84"/><circle cx="-3.6" cy="26.4" r="0.9"/><circle cx="9.4" cy="16" r="1.83"/><circle cx="-3" cy="-14" r="1.8"/>
</g>
</g></g>
<circle cx="57" cy="559.5" r="28.2" fill="#c3c3c7"/>
<g clip-path="url(#cp4)"><g filter="url(#bl)" transform="translate(57 559.5)">
<g fill="#7d78dc" opacity="0.43">
<circle cx="-23.7" cy="-0.2" r="1.29"/><circle cx="-13.9" cy="-13.4" r="1.19"/><circle cx="-7.3" cy="1.1" r="1.07"/><circle cx="19.1" cy="-1.1" r="1.24"/><circle cx="-2.1" cy="14.8" r="1.18"/><circle cx="1" cy="9.2" r="1.73"/><circle cx="13.7" cy="-6.3" r="1.57"/><circle cx="-20.4" cy="-15.5" r="1.59"/><circle cx="-7.4" cy="4.7" r="1.8"/><circle cx="18.2" cy="-15.7" r="1.62"/><circle cx="-19.2" cy="15.1" r="1.31"/><circle cx="18.3" cy="15.8" r="1.51"/><circle cx="1" cy="25.6" r="1.56"/><circle cx="-2.3" cy="17.8" r="1.41"/><circle cx="-3.2" cy="-11.6" r="1.28"/><circle cx="-3.7" cy="23.9" r="1.36"/><circle cx="-4.7" cy="-4.6" r="1.79"/><circle cx="7.6" cy="1.3" r="1.23"/><circle cx="-13" cy="12.7" r="1.81"/><circle cx="17.2" cy="-5.8" r="1.47"/><circle cx="15.1" cy="-10.9" r="1.5"/><circle cx="-13.6" cy="4.7" r="1.15"/><circle cx="16.5" cy="-8.8" r="1.15"/><circle cx="20.2" cy="-5.2" r="1.87"/><circle cx="14.5" cy="-13" r="1.82"/><circle cx="-6.8" cy="16.2" r="1.44"/><circle cx="22.7" cy="11.2" r="1.43"/><circle cx="3.1" cy="-25.2" r="1.08"/><circle cx="-23.2" cy="-13.8" r="1.34"/><circle cx="17.9" cy="17.8" r="1.79"/><circle cx="4.9" cy="19" r="1.43"/><circle cx="-2" cy="19.3" r="1.51"/><circle cx="3.9" cy="13.5" r="1.49"/><circle cx="11.6" cy="-11.9" r="1.66"/><circle cx="3.2" cy="-14.8" r="1.25"/><circle cx="-2.9" cy="25.7" r="1.15"/><circle cx="4.4" cy="8.9" r="1.31"/><circle cx="-9.8" cy="-3.1" r="1.66"/><circle cx="14.4" cy="-12.8" r="1.14"/><circle cx="-7.7" cy="-6.2" r="1.42"/><circle cx="12.7" cy="1.8" r="1.31"/><circle cx="20.6" cy="-16.1" r="1.53"/><circle cx="11.8" cy="16.1" r="1.56"/><circle cx="-0.2" cy="8" r="1.67"/><circle cx="-21.5" cy="-5.9" r="1.55"/><circle cx="-13.4" cy="-21.5" r="1.6"/><circle cx="-0.3" cy="6.6" r="1.68"/><circle cx="0.4" cy="-10.4" r="1.48"/><circle cx="13.9" cy="15" r="1.86"/><circle cx="10.1" cy="-5.2" r="1.78"/><circle cx="25.8" cy="17.4" r="1.07"/><circle cx="13.5" cy="14" r="1.41"/><circle cx="8.2" cy="15.8" r="1.74"/><circle cx="-11.1" cy="4.9" r="1.3"/><circle cx="4.5" cy="21.1" r="1.62"/><circle cx="14.7" cy="5.3" r="2.68"/><circle cx="-2.4" cy="2.1" r="2.69"/><circle cx="3" cy="17" r="2.62"/><circle cx="-2" cy="-3" r="2.38"/>
</g>
<g fill="#5b54d2" opacity="0.6">
<circle cx="-7.4" cy="-24.2" r="0.6"/><circle cx="17.9" cy="13.7" r="0.78"/><circle cx="-10" cy="20.6" r="0.55"/><circle cx="7.3" cy="26.5" r="0.48"/><circle cx="-9.8" cy="3.3" r="0.65"/><circle cx="14.3" cy="-8.4" r="0.76"/><circle cx="15" cy="16" r="0.75"/><circle cx="-5.2" cy="6.9" r="0.76"/><circle cx="17.6" cy="-10.9" r="0.71"/><circle cx="-11.2" cy="10.1" r="0.68"/><circle cx="-12.4" cy="1.5" r="0.73"/><circle cx="-2.1" cy="25" r="0.73"/><circle cx="-8.3" cy="6.7" r="0.43"/><circle cx="16.7" cy="12.2" r="0.78"/><circle cx="14" cy="-22.3" r="0.56"/><circle cx="9" cy="-19" r="0.74"/><circle cx="14.5" cy="0.4" r="0.75"/><circle cx="-9" cy="-1" r="0.61"/><circle cx="-13.7" cy="-20.4" r="0.58"/><circle cx="-14.9" cy="5.1" r="0.55"/><circle cx="3.9" cy="3.4" r="0.8"/><circle cx="13.9" cy="-17.3" r="0.77"/><circle cx="-4.3" cy="-2.2" r="0.45"/><circle cx="11.2" cy="-2.6" r="0.43"/><circle cx="8.8" cy="25.1" r="0.7"/><circle cx="-10" cy="14" r="0.54"/><circle cx="9.2" cy="16.7" r="0.47"/><circle cx="-6" cy="18.3" r="0.61"/><circle cx="-0.8" cy="24.4" r="0.76"/><circle cx="19.7" cy="6.2" r="0.66"/><circle cx="-12.5" cy="17.2" r="0.62"/><circle cx="-8.7" cy="18.6" r="0.76"/><circle cx="25.1" cy="5.1" r="0.52"/><circle cx="14.5" cy="-8.7" r="0.61"/><circle cx="-18.2" cy="4.3" r="0.65"/><circle cx="-2.8" cy="-8" r="0.49"/><circle cx="19.2" cy="4.1" r="0.75"/><circle cx="8.4" cy="-13" r="0.68"/><circle cx="-9.6" cy="2.2" r="0.58"/><circle cx="18.2" cy="2.5" r="0.5"/><circle cx="-16.4" cy="-1.6" r="0.4"/><circle cx="17.7" cy="-10.4" r="0.67"/><circle cx="-11.6" cy="13.6" r="0.69"/><circle cx="14.8" cy="-2.6" r="0.6"/><circle cx="24.4" cy="-22.4" r="0.61"/><circle cx="-8.9" cy="-2" r="0.75"/><circle cx="15.6" cy="11.7" r="0.48"/><circle cx="-4.4" cy="12.5" r="0.78"/><circle cx="-19.6" cy="1.8" r="0.47"/><circle cx="-4.2" cy="-8.8" r="0.67"/><circle cx="4.9" cy="18.4" r="0.77"/><circle cx="22.5" cy="-3.5" r="0.72"/><circle cx="-6" cy="-12.5" r="0.7"/><circle cx="13.7" cy="3.3" r="0.77"/><circle cx="4.4" cy="-4.3" r="0.49"/><circle cx="-22.1" cy="13.1" r="0.49"/><circle cx="8" cy="7.9" r="0.53"/><circle cx="-12.3" cy="-7.8" r="0.63"/><circle cx="4" cy="3.5" r="0.58"/><circle cx="5.8" cy="-23.1" r="0.54"/><circle cx="22.8" cy="4.1" r="0.78"/><circle cx="-18.7" cy="-0.1" r="0.47"/><circle cx="6.4" cy="15.1" r="0.54"/><circle cx="-1" cy="16.9" r="0.58"/><circle cx="-14.9" cy="11" r="0.53"/><circle cx="-11.2" cy="-7.7" r="0.51"/><circle cx="23" cy="0.9" r="0.41"/><circle cx="24.2" cy="-11.9" r="0.73"/><circle cx="-14.9" cy="-9.6" r="0.7"/><circle cx="12.1" cy="16.1" r="0.61"/><circle cx="-18.1" cy="13.7" r="0.64"/><circle cx="1.1" cy="8.1" r="0.57"/><circle cx="-12.6" cy="9.5" r="0.78"/><circle cx="14.1" cy="-1.7" r="0.72"/><circle cx="-5.1" cy="2.2" r="0.56"/><circle cx="-6.1" cy="-14.9" r="0.48"/><circle cx="7.8" cy="-18.9" r="0.61"/><circle cx="4.1" cy="-9.2" r="0.54"/><circle cx="-10.1" cy="15.9" r="0.71"/><circle cx="-9.9" cy="-19.7" r="0.41"/><circle cx="-8.3" cy="7.3" r="0.48"/><circle cx="-11.9" cy="8.3" r="0.6"/><circle cx="0.6" cy="-0.7" r="0.69"/><circle cx="-15.2" cy="-2.3" r="0.75"/><circle cx="-8.7" cy="10.4" r="0.66"/><circle cx="-22.4" cy="5.8" r="0.51"/><circle cx="-12.6" cy="20.5" r="0.7"/><circle cx="8.2" cy="31.5" r="0.75"/><circle cx="4.1" cy="25.1" r="0.68"/><circle cx="4.5" cy="12.5" r="0.53"/><circle cx="1.2" cy="12.9" r="0.5"/><circle cx="-20" cy="11" r="0.6"/><circle cx="-4.3" cy="-0.5" r="0.53"/><circle cx="20.5" cy="23.9" r="0.44"/><circle cx="-14" cy="19.2" r="0.76"/><circle cx="-14.7" cy="14.4" r="0.52"/><circle cx="6.7" cy="-18.1" r="0.47"/><circle cx="-4.1" cy="14.8" r="0.55"/><circle cx="17.2" cy="-12.6" r="0.73"/><circle cx="17" cy="12.9" r="0.42"/><circle cx="14.3" cy="7.6" r="0.44"/><circle cx="-23.7" cy="-0.2" r="0.86"/><circle cx="-7.3" cy="1.1" r="0.71"/><circle cx="-2.1" cy="14.8" r="0.79"/><circle cx="1" cy="9.2" r="1.15"/><circle cx="13.7" cy="-6.3" r="1.05"/><circle cx="18.3" cy="15.8" r="1"/><circle cx="-3.7" cy="23.9" r="0.91"/><circle cx="-4.7" cy="-4.6" r="1.19"/><circle cx="-13.6" cy="4.7" r="0.77"/><circle cx="14.5" cy="-13" r="1.22"/><circle cx="4.9" cy="19" r="0.95"/><circle cx="-2" cy="19.3" r="1.01"/><circle cx="3.9" cy="13.5" r="0.99"/><circle cx="11.6" cy="-11.9" r="1.11"/><circle cx="11.8" cy="16.1" r="1.04"/><circle cx="-13.4" cy="-21.5" r="1.07"/><circle cx="10.1" cy="-5.2" r="1.19"/><circle cx="13.5" cy="14" r="0.94"/><circle cx="4.5" cy="21.1" r="1.08"/>
</g>
<g fill="#362cc4" opacity="0.79">
<circle cx="8.6" cy="23.9" r="0.69"/><circle cx="15.3" cy="6.5" r="0.53"/><circle cx="16.9" cy="17.1" r="0.49"/><circle cx="-18.7" cy="-11.1" r="0.69"/><circle cx="8.3" cy="-22" r="0.4"/><circle cx="-9.3" cy="-19.3" r="0.63"/><circle cx="24.9" cy="0.3" r="0.75"/><circle cx="-1.5" cy="19.5" r="0.41"/><circle cx="-14.4" cy="4.2" r="0.58"/><circle cx="21.2" cy="-14.1" r="0.47"/><circle cx="7" cy="14.2" r="0.49"/><circle cx="3.3" cy="6.2" r="0.61"/><circle cx="20.3" cy="6" r="0.77"/><circle cx="1.4" cy="17" r="0.41"/><circle cx="16" cy="-7.4" r="0.74"/><circle cx="21.8" cy="5.9" r="0.54"/><circle cx="7.7" cy="-21" r="0.49"/><circle cx="-7.6" cy="-15.2" r="0.71"/><circle cx="2.2" cy="9.6" r="0.64"/><circle cx="1.9" cy="-10.1" r="0.73"/><circle cx="16.1" cy="18.2" r="0.56"/><circle cx="-4.2" cy="-3.3" r="0.52"/><circle cx="-0" cy="3.2" r="0.52"/><circle cx="9.8" cy="5.1" r="0.69"/><circle cx="-10.9" cy="11.4" r="0.56"/><circle cx="-11.4" cy="13.1" r="0.42"/><circle cx="-26" cy="7.2" r="0.69"/><circle cx="3.7" cy="-23" r="0.43"/><circle cx="3" cy="6.9" r="0.56"/><circle cx="-0.5" cy="-4.7" r="0.78"/><circle cx="-4.1" cy="23.5" r="0.66"/><circle cx="3.8" cy="-8.7" r="0.41"/><circle cx="18.8" cy="3.1" r="0.48"/><circle cx="16.1" cy="31.7" r="0.48"/><circle cx="-4.4" cy="-12.3" r="0.55"/><circle cx="0.6" cy="-4.8" r="0.61"/><circle cx="-12.6" cy="0.7" r="0.58"/><circle cx="-13.2" cy="13.6" r="0.75"/><circle cx="3.9" cy="-16.1" r="0.57"/><circle cx="4.9" cy="24.9" r="0.44"/><circle cx="18.7" cy="9.1" r="0.69"/><circle cx="21.7" cy="12.7" r="0.56"/><circle cx="-7.4" cy="-0.4" r="0.58"/><circle cx="1.5" cy="7.7" r="0.65"/><circle cx="8.1" cy="-15.1" r="0.51"/><circle cx="13.6" cy="5.4" r="0.48"/><circle cx="-1" cy="-18.8" r="0.48"/><circle cx="10.7" cy="-2.2" r="0.7"/><circle cx="-3.3" cy="1.2" r="0.73"/><circle cx="-6" cy="14.1" r="0.42"/><circle cx="26.9" cy="15.4" r="0.77"/><circle cx="9.6" cy="-11.7" r="0.59"/><circle cx="11.4" cy="16.2" r="0.76"/><circle cx="6.3" cy="-18.8" r="0.68"/><circle cx="22.2" cy="8.6" r="0.45"/><circle cx="17.7" cy="-13.6" r="0.52"/><circle cx="11.4" cy="-2.6" r="0.47"/><circle cx="-6.9" cy="-8.4" r="0.48"/><circle cx="-16.7" cy="13.2" r="0.63"/><circle cx="-13.9" cy="-13.4" r="0.79"/><circle cx="19.1" cy="-1.1" r="0.83"/><circle cx="-20.4" cy="-15.5" r="1.06"/><circle cx="-7.4" cy="4.7" r="1.2"/><circle cx="18.2" cy="-15.7" r="1.08"/><circle cx="-19.2" cy="15.1" r="0.87"/><circle cx="1" cy="25.6" r="1.04"/><circle cx="-2.3" cy="17.8" r="0.94"/><circle cx="-3.2" cy="-11.6" r="0.85"/><circle cx="7.6" cy="1.3" r="0.82"/><circle cx="-13" cy="12.7" r="1.21"/><circle cx="17.2" cy="-5.8" r="0.98"/><circle cx="15.1" cy="-10.9" r="1"/><circle cx="16.5" cy="-8.8" r="0.76"/><circle cx="20.2" cy="-5.2" r="1.24"/><circle cx="-6.8" cy="16.2" r="0.96"/><circle cx="22.7" cy="11.2" r="0.95"/><circle cx="3.1" cy="-25.2" r="0.72"/><circle cx="-23.2" cy="-13.8" r="0.89"/><circle cx="17.9" cy="17.8" r="1.2"/><circle cx="3.2" cy="-14.8" r="0.83"/><circle cx="-2.9" cy="25.7" r="0.77"/><circle cx="4.4" cy="8.9" r="0.87"/><circle cx="-9.8" cy="-3.1" r="1.11"/><circle cx="14.4" cy="-12.8" r="0.76"/><circle cx="-7.7" cy="-6.2" r="0.95"/><circle cx="12.7" cy="1.8" r="0.87"/><circle cx="20.6" cy="-16.1" r="1.02"/><circle cx="-0.2" cy="8" r="1.11"/><circle cx="-21.5" cy="-5.9" r="1.03"/><circle cx="-0.3" cy="6.6" r="1.12"/><circle cx="0.4" cy="-10.4" r="0.99"/><circle cx="13.9" cy="15" r="1.24"/><circle cx="25.8" cy="17.4" r="0.71"/><circle cx="8.2" cy="15.8" r="1.16"/><circle cx="-11.1" cy="4.9" r="0.87"/><circle cx="14.7" cy="5.3" r="1.99"/><circle cx="-2.4" cy="2.1" r="2"/><circle cx="3" cy="17" r="2.1"/><circle cx="-2" cy="-3" r="1.9"/>
</g>
</g></g>
<circle cx="115" cy="559.5" r="28.2" fill="#d6d6da"/>
<g clip-path="url(#cp5)"><g filter="url(#bl)" transform="translate(115 559.5)">
<g fill="#7d78dc" opacity="0.4">
<circle cx="9.2" cy="18.1" r="1.86"/><circle cx="4.4" cy="15.2" r="1.4"/><circle cx="16.2" cy="20" r="1.24"/><circle cx="14.9" cy="-21.8" r="1.4"/><circle cx="-17.4" cy="-9.5" r="1.27"/><circle cx="7.4" cy="3.9" r="1.58"/><circle cx="-9.4" cy="21.9" r="1.52"/><circle cx="-3.5" cy="-11.4" r="1.43"/><circle cx="20.3" cy="4.3" r="1.73"/><circle cx="2.3" cy="-6.3" r="1.2"/><circle cx="5.7" cy="1.1" r="1.54"/><circle cx="-0.6" cy="9.3" r="1.33"/><circle cx="-2.1" cy="14.8" r="1.15"/><circle cx="6.9" cy="15.9" r="1.33"/><circle cx="5" cy="12.8" r="1.82"/><circle cx="-19.9" cy="16.1" r="1.36"/><circle cx="-7.3" cy="-20" r="1.76"/><circle cx="20.3" cy="4.8" r="1.85"/><circle cx="14.5" cy="1.5" r="1.66"/><circle cx="-7.6" cy="6.9" r="1.46"/><circle cx="-7.1" cy="-19.6" r="1.29"/><circle cx="-18.8" cy="0.9" r="1.14"/><circle cx="8" cy="5.9" r="1.54"/><circle cx="-8.6" cy="-4.9" r="1.56"/><circle cx="20.6" cy="0.1" r="1.77"/><circle cx="-4.5" cy="14.7" r="1.87"/><circle cx="4.7" cy="0.1" r="1.72"/><circle cx="7" cy="-3.2" r="1.53"/><circle cx="-11.8" cy="15.7" r="1.78"/><circle cx="16.5" cy="0.7" r="1.33"/><circle cx="8.8" cy="11.2" r="1.12"/><circle cx="-4.7" cy="-18.5" r="1.58"/><circle cx="20.2" cy="8.3" r="1.32"/><circle cx="-0.5" cy="-19" r="1.69"/><circle cx="-1.6" cy="7.6" r="1.31"/><circle cx="-6.6" cy="-7.9" r="1.79"/><circle cx="-17.1" cy="-14.3" r="1.28"/><circle cx="8.4" cy="-13.7" r="1.18"/><circle cx="-3.5" cy="-10.9" r="1.83"/><circle cx="-4.5" cy="15.3" r="1.86"/><circle cx="13.4" cy="6" r="2.44"/><circle cx="-22" cy="-4" r="3.38"/><circle cx="-12" cy="-8" r="2.62"/><circle cx="-4" cy="-24" r="2.12"/>
</g>
<g fill="#5b54d2" opacity="0.6">
<circle cx="18.4" cy="19.6" r="0.53"/><circle cx="1" cy="25.5" r="0.53"/><circle cx="-21.8" cy="-5.7" r="0.71"/><circle cx="13.8" cy="-13.7" r="0.59"/><circle cx="0.5" cy="16.7" r="0.64"/><circle cx="-20.4" cy="-2.7" r="0.77"/><circle cx="17.3" cy="-15.2" r="0.6"/><circle cx="-8.9" cy="15.7" r="0.63"/><circle cx="12.5" cy="-0.7" r="0.4"/><circle cx="26.2" cy="-6.1" r="0.7"/><circle cx="-5.4" cy="11.9" r="0.78"/><circle cx="7.5" cy="5.7" r="0.79"/><circle cx="-1.3" cy="-0.7" r="0.61"/><circle cx="3.3" cy="-9.6" r="0.76"/><circle cx="-24" cy="12.1" r="0.78"/><circle cx="18.3" cy="-16" r="0.42"/><circle cx="13.3" cy="-5.3" r="0.78"/><circle cx="5.4" cy="-3" r="0.78"/><circle cx="-2.3" cy="11.8" r="0.57"/><circle cx="-8.5" cy="14" r="0.54"/><circle cx="-15.1" cy="15.8" r="0.42"/><circle cx="-7.2" cy="12.1" r="0.54"/><circle cx="-17.1" cy="12.5" r="0.59"/><circle cx="-5.9" cy="7.4" r="0.43"/><circle cx="9.5" cy="18.7" r="0.67"/><circle cx="8.2" cy="3.3" r="0.43"/><circle cx="22.6" cy="-7.3" r="0.77"/><circle cx="-2.2" cy="-15.4" r="0.69"/><circle cx="-10.4" cy="7" r="0.55"/><circle cx="-25.3" cy="4.3" r="0.76"/><circle cx="-12.7" cy="1.9" r="0.48"/><circle cx="-20.9" cy="12.9" r="0.68"/><circle cx="21.1" cy="17" r="0.76"/><circle cx="-1" cy="13.8" r="0.4"/><circle cx="-12.8" cy="1.5" r="0.56"/><circle cx="7.2" cy="0.1" r="0.42"/><circle cx="-14" cy="-13" r="0.72"/><circle cx="-4.9" cy="18" r="0.57"/><circle cx="-6.6" cy="-20.1" r="0.73"/><circle cx="4" cy="8.9" r="0.74"/><circle cx="-11.9" cy="21.2" r="0.56"/><circle cx="5.8" cy="0.9" r="0.57"/><circle cx="-24.3" cy="-9.1" r="0.6"/><circle cx="-26.9" cy="1.4" r="0.7"/><circle cx="-0.2" cy="6.5" r="0.44"/><circle cx="4.5" cy="18.3" r="0.51"/><circle cx="12.7" cy="-3.4" r="0.46"/><circle cx="-11.5" cy="2" r="0.7"/><circle cx="8.8" cy="15.2" r="0.78"/><circle cx="-0.6" cy="-3.4" r="0.59"/><circle cx="-12.9" cy="-16.8" r="0.62"/><circle cx="-23" cy="13.2" r="0.55"/><circle cx="13.4" cy="-15.8" r="0.48"/><circle cx="-15.8" cy="5.9" r="0.78"/><circle cx="18.8" cy="4.5" r="0.5"/><circle cx="22.6" cy="5.9" r="0.42"/><circle cx="-21.7" cy="12.4" r="0.74"/><circle cx="15.4" cy="-5.5" r="0.78"/><circle cx="24" cy="4.6" r="0.73"/><circle cx="-1.2" cy="3.9" r="0.72"/><circle cx="-18.1" cy="14.3" r="0.67"/><circle cx="1.1" cy="21.9" r="0.55"/><circle cx="-10.7" cy="-2.4" r="0.46"/><circle cx="-4.4" cy="19.6" r="0.54"/><circle cx="4.2" cy="23.9" r="0.59"/><circle cx="15.1" cy="15.5" r="0.66"/><circle cx="-16.3" cy="17.8" r="0.72"/><circle cx="5.3" cy="7.4" r="0.68"/><circle cx="-18.4" cy="2.8" r="0.77"/><circle cx="12.8" cy="18.3" r="0.66"/><circle cx="12.3" cy="23.1" r="0.66"/><circle cx="11.6" cy="-13.4" r="0.78"/><circle cx="-19.1" cy="-3.7" r="0.55"/><circle cx="6.7" cy="14.3" r="0.65"/><circle cx="-8.9" cy="-2" r="0.41"/><circle cx="8.8" cy="3.5" r="0.48"/><circle cx="9.2" cy="18.1" r="1.24"/><circle cx="16.2" cy="20" r="0.83"/><circle cx="14.9" cy="-21.8" r="0.94"/><circle cx="-3.5" cy="-11.4" r="0.96"/><circle cx="5.7" cy="1.1" r="1.03"/><circle cx="-19.9" cy="16.1" r="0.9"/><circle cx="20.3" cy="4.8" r="1.24"/><circle cx="-8.6" cy="-4.9" r="1.04"/><circle cx="-4.5" cy="14.7" r="1.25"/><circle cx="7" cy="-3.2" r="1.02"/><circle cx="-11.8" cy="15.7" r="1.19"/><circle cx="-0.5" cy="-19" r="1.12"/><circle cx="-1.6" cy="7.6" r="0.87"/><circle cx="8.4" cy="-13.7" r="0.79"/><circle cx="-3.5" cy="-10.9" r="1.22"/>
</g>
<g fill="#362cc4" opacity="0.76">
<circle cx="-7.4" cy="1" r="0.74"/><circle cx="21.2" cy="2.5" r="0.58"/><circle cx="-16.7" cy="13.6" r="0.71"/><circle cx="19.3" cy="2.6" r="0.71"/><circle cx="-9.5" cy="-5.1" r="0.52"/><circle cx="-11.5" cy="7" r="0.53"/><circle cx="-16" cy="-17.3" r="0.49"/><circle cx="-15.8" cy="-16.9" r="0.49"/><circle cx="4.3" cy="8" r="0.76"/><circle cx="-8.2" cy="14.4" r="0.42"/><circle cx="18.4" cy="-5.7" r="0.52"/><circle cx="-4.1" cy="-8.4" r="0.43"/><circle cx="-8.6" cy="-8.3" r="0.44"/><circle cx="17.3" cy="-16.5" r="0.76"/><circle cx="13.6" cy="19.2" r="0.57"/><circle cx="24.9" cy="-4.2" r="0.64"/><circle cx="9" cy="-1.3" r="0.73"/><circle cx="8.7" cy="-13.3" r="0.77"/><circle cx="-1.7" cy="3.8" r="0.61"/><circle cx="-20.3" cy="6.2" r="0.76"/><circle cx="0.8" cy="-4.4" r="0.46"/><circle cx="17.5" cy="-12.1" r="0.41"/><circle cx="1.5" cy="24.1" r="0.47"/><circle cx="4.7" cy="-0.9" r="0.73"/><circle cx="20.2" cy="0.2" r="0.41"/><circle cx="7.1" cy="-11.2" r="0.55"/><circle cx="-9.5" cy="2.7" r="0.52"/><circle cx="8.2" cy="2.8" r="0.46"/><circle cx="7.5" cy="-17.2" r="0.8"/><circle cx="-2.6" cy="9.5" r="0.4"/><circle cx="-5.2" cy="25.3" r="0.41"/><circle cx="8.9" cy="2.5" r="0.79"/><circle cx="12" cy="12.2" r="0.55"/><circle cx="9.4" cy="-1.8" r="0.45"/><circle cx="7" cy="20.8" r="0.59"/><circle cx="13.2" cy="16" r="0.49"/><circle cx="0.3" cy="-24.3" r="0.64"/><circle cx="-6.7" cy="17.3" r="0.76"/><circle cx="-5.5" cy="-17.1" r="0.45"/><circle cx="14.3" cy="7.1" r="0.54"/><circle cx="16.6" cy="-12.2" r="0.79"/><circle cx="22.7" cy="2.5" r="0.74"/><circle cx="18.4" cy="-1.7" r="0.62"/><circle cx="-25.1" cy="1.6" r="0.73"/><circle cx="21.5" cy="-11.9" r="0.59"/><circle cx="19.4" cy="1.2" r="0.72"/><circle cx="26.8" cy="0.4" r="0.52"/><circle cx="10.9" cy="-10.2" r="0.58"/><circle cx="-9.4" cy="10" r="0.68"/><circle cx="-19.4" cy="-7.8" r="0.57"/><circle cx="-12.9" cy="12.2" r="0.56"/><circle cx="19" cy="8.1" r="0.58"/><circle cx="-10.2" cy="9.5" r="0.46"/><circle cx="9.4" cy="24.2" r="0.48"/><circle cx="4.4" cy="15.2" r="0.93"/><circle cx="-17.4" cy="-9.5" r="0.85"/><circle cx="7.4" cy="3.9" r="1.05"/><circle cx="-9.4" cy="21.9" r="1.02"/><circle cx="20.3" cy="4.3" r="1.15"/><circle cx="2.3" cy="-6.3" r="0.8"/><circle cx="-0.6" cy="9.3" r="0.89"/><circle cx="-2.1" cy="14.8" r="0.77"/><circle cx="6.9" cy="15.9" r="0.89"/><circle cx="5" cy="12.8" r="1.21"/><circle cx="-7.3" cy="-20" r="1.17"/><circle cx="14.5" cy="1.5" r="1.11"/><circle cx="-7.6" cy="6.9" r="0.97"/><circle cx="-7.1" cy="-19.6" r="0.86"/><circle cx="-18.8" cy="0.9" r="0.76"/><circle cx="8" cy="5.9" r="1.03"/><circle cx="20.6" cy="0.1" r="1.18"/><circle cx="4.7" cy="0.1" r="1.15"/><circle cx="16.5" cy="0.7" r="0.89"/><circle cx="8.8" cy="11.2" r="0.75"/><circle cx="-4.7" cy="-18.5" r="1.05"/><circle cx="20.2" cy="8.3" r="0.88"/><circle cx="-6.6" cy="-7.9" r="1.19"/><circle cx="-17.1" cy="-14.3" r="0.85"/><circle cx="-4.5" cy="15.3" r="1.24"/><circle cx="13.4" cy="6" r="1.8"/><circle cx="-22" cy="-4" r="2.7"/><circle cx="-12" cy="-8" r="2.1"/><circle cx="-4" cy="-24" r="1.7"/>
</g>
</g></g>
<circle cx="172.8" cy="559.5" r="28.2" fill="#d0d0d4"/>
<g clip-path="url(#cp6)"><g filter="url(#bl)" transform="translate(172.8 559.5)">
<g fill="#7d78dc" opacity="0.43">
<circle cx="-4.1" cy="9.9" r="1.48"/><circle cx="-12.6" cy="-9" r="1.41"/><circle cx="13.1" cy="12.9" r="1.66"/><circle cx="0.1" cy="15.7" r="1.57"/><circle cx="10.5" cy="16.3" r="1.11"/><circle cx="-15.2" cy="13.4" r="1.61"/><circle cx="-2" cy="-1.1" r="1.76"/><circle cx="-15.5" cy="16.2" r="1.62"/><circle cx="-13.9" cy="13.7" r="1.47"/><circle cx="-18.5" cy="11.3" r="1.66"/><circle cx="20.2" cy="-16.1" r="1.28"/><circle cx="8.5" cy="4.1" r="1.81"/><circle cx="-14.1" cy="-12.3" r="1.54"/><circle cx="14.7" cy="20.9" r="1.07"/><circle cx="12" cy="-21.9" r="1.15"/><circle cx="23.9" cy="6.8" r="1.44"/><circle cx="14.2" cy="21.2" r="1.84"/><circle cx="5.6" cy="6.7" r="1.68"/><circle cx="3.5" cy="7.1" r="1.12"/><circle cx="-3.6" cy="-12.1" r="1.32"/><circle cx="-10.8" cy="-3.6" r="1.69"/><circle cx="14.7" cy="-15.3" r="1.36"/><circle cx="16.4" cy="-13.2" r="1.39"/><circle cx="12.2" cy="-6.5" r="1.07"/><circle cx="3.6" cy="-16.2" r="1.57"/><circle cx="4" cy="24.7" r="1.39"/><circle cx="-21" cy="14.2" r="1.44"/><circle cx="5.4" cy="4.1" r="1.22"/><circle cx="13.2" cy="17.2" r="1.41"/><circle cx="21.4" cy="-5.7" r="1.17"/><circle cx="-5.8" cy="-14.6" r="1.64"/><circle cx="-1" cy="-2.1" r="1.41"/><circle cx="8.7" cy="24.5" r="1.77"/><circle cx="-21.1" cy="-3.9" r="1.22"/><circle cx="12.8" cy="-3.8" r="1.87"/><circle cx="7.1" cy="-18.8" r="1.27"/><circle cx="18.5" cy="-15.5" r="1.46"/><circle cx="-22.3" cy="-3.2" r="1.43"/><circle cx="-13.9" cy="-16.1" r="1.56"/><circle cx="4.1" cy="7.9" r="1.18"/><circle cx="-19.7" cy="-13.4" r="1.7"/><circle cx="-24" cy="-8.7" r="1.13"/><circle cx="2.4" cy="-26.2" r="1.78"/><circle cx="-9.2" cy="9.2" r="1.84"/><circle cx="22.4" cy="-5.9" r="1.33"/><circle cx="-4" cy="8.3" r="1.51"/><circle cx="-0.9" cy="-13.3" r="1.28"/><circle cx="-5.7" cy="21.3" r="1.43"/><circle cx="16.5" cy="-6.2" r="1.06"/><circle cx="15.2" cy="-10.8" r="1.08"/><circle cx="-4.5" cy="-8.9" r="1.51"/><circle cx="2" cy="-12.7" r="1.14"/><circle cx="-14" cy="-2.7" r="1.38"/><circle cx="-6.7" cy="8.5" r="1.35"/><circle cx="22.4" cy="1.8" r="1.41"/><circle cx="7.8" cy="10.6" r="1.55"/><circle cx="15.8" cy="2.6" r="1.29"/><circle cx="7.9" cy="-0.9" r="1.3"/><circle cx="7" cy="-10.1" r="1.83"/><circle cx="11.7" cy="-23.1" r="1.08"/><circle cx="13.7" cy="-7" r="2.68"/><circle cx="-1" cy="1.5" r="1.81"/><circle cx="14" cy="-11" r="4.88"/><circle cx="-22" cy="1" r="2.38"/>
</g>
<g fill="#5b54d2" opacity="0.6">
<circle cx="19.6" cy="-23.9" r="0.79"/><circle cx="-16.1" cy="-18.6" r="0.45"/><circle cx="17.3" cy="-11" r="0.68"/><circle cx="-13.2" cy="-1.4" r="0.78"/><circle cx="-7.4" cy="-5" r="0.41"/><circle cx="-6.6" cy="-22.4" r="0.5"/><circle cx="3.4" cy="3.5" r="0.56"/><circle cx="24.1" cy="-16.4" r="0.8"/><circle cx="-10.1" cy="12.2" r="0.72"/><circle cx="23.4" cy="0.4" r="0.72"/><circle cx="-0.7" cy="-11.4" r="0.64"/><circle cx="-9.1" cy="-23.5" r="0.58"/><circle cx="-22.4" cy="-8" r="0.63"/><circle cx="0.8" cy="24.5" r="0.45"/><circle cx="-16.7" cy="-9.8" r="0.45"/><circle cx="-4.9" cy="-18.5" r="0.71"/><circle cx="16.8" cy="-6.8" r="0.77"/><circle cx="-1" cy="-6.4" r="0.5"/><circle cx="-13" cy="-1.5" r="0.46"/><circle cx="-15.7" cy="-18.7" r="0.45"/><circle cx="19.2" cy="-5.9" r="0.79"/><circle cx="10.4" cy="-19.4" r="0.46"/><circle cx="-23.8" cy="11.6" r="0.63"/><circle cx="-2.1" cy="-3.6" r="0.75"/><circle cx="-18.7" cy="5.9" r="0.63"/><circle cx="8.2" cy="-10.4" r="0.66"/><circle cx="-1.8" cy="-12.6" r="0.46"/><circle cx="7.9" cy="16.4" r="0.74"/><circle cx="22.4" cy="-8.5" r="0.42"/><circle cx="-17.2" cy="-10.9" r="0.72"/><circle cx="4.9" cy="23.9" r="0.65"/><circle cx="-23.8" cy="0.1" r="0.49"/><circle cx="17.4" cy="-18.6" r="0.73"/><circle cx="-13.8" cy="14.8" r="0.53"/><circle cx="-12" cy="4.4" r="0.45"/><circle cx="-2" cy="11.8" r="0.55"/><circle cx="-24.4" cy="6.8" r="0.62"/><circle cx="-9.8" cy="-24.4" r="0.74"/><circle cx="-12.1" cy="7.4" r="0.41"/><circle cx="2.9" cy="9.7" r="0.52"/><circle cx="21" cy="-7.5" r="0.63"/><circle cx="-25" cy="4.4" r="0.45"/><circle cx="20.5" cy="1.9" r="0.46"/><circle cx="15.3" cy="-18" r="0.56"/><circle cx="7.3" cy="-20.1" r="0.41"/><circle cx="-23.1" cy="-5.1" r="0.78"/><circle cx="-15.3" cy="-6.3" r="0.44"/><circle cx="0.5" cy="10.5" r="0.79"/><circle cx="25" cy="3.9" r="0.64"/><circle cx="-16.5" cy="-20.2" r="0.69"/><circle cx="20.2" cy="-17.2" r="0.78"/><circle cx="-14.2" cy="20.9" r="0.73"/><circle cx="-3.5" cy="-7.3" r="0.48"/><circle cx="23.4" cy="-15.1" r="0.7"/><circle cx="0.2" cy="-9.2" r="0.58"/><circle cx="-10.4" cy="-14.7" r="0.78"/><circle cx="-0.8" cy="7.7" r="0.75"/><circle cx="-14.6" cy="16.1" r="0.5"/><circle cx="0.3" cy="-15.5" r="0.44"/><circle cx="6.9" cy="-2.6" r="0.64"/><circle cx="-10.2" cy="-22.6" r="0.64"/><circle cx="9.1" cy="23.8" r="0.43"/><circle cx="7.8" cy="-16.4" r="0.62"/><circle cx="23.8" cy="-7.3" r="0.5"/><circle cx="-20.6" cy="5.2" r="0.48"/><circle cx="-5.6" cy="13.6" r="0.65"/><circle cx="-14.6" cy="-12.5" r="0.74"/><circle cx="19.7" cy="-6.1" r="0.42"/><circle cx="1.5" cy="17.3" r="0.65"/><circle cx="-8.6" cy="-3" r="0.64"/><circle cx="-2.4" cy="7.9" r="0.48"/><circle cx="21.2" cy="-6.4" r="0.5"/><circle cx="-25.5" cy="-6.3" r="0.5"/><circle cx="-4.9" cy="-0.1" r="0.55"/><circle cx="5.1" cy="-4.3" r="0.51"/><circle cx="23.1" cy="10.3" r="0.4"/><circle cx="29.9" cy="-9.6" r="0.61"/><circle cx="22.5" cy="-14.8" r="0.45"/><circle cx="2.2" cy="9" r="0.7"/><circle cx="-4.5" cy="-11.4" r="0.74"/><circle cx="13" cy="19.3" r="0.63"/><circle cx="-2.7" cy="-9" r="0.46"/><circle cx="11.1" cy="-10.6" r="0.45"/><circle cx="-22.2" cy="-14.1" r="0.52"/><circle cx="-0.9" cy="-18.5" r="0.64"/><circle cx="-25.6" cy="-0.5" r="0.67"/><circle cx="8.5" cy="9.5" r="0.49"/><circle cx="24.7" cy="-17.6" r="0.54"/><circle cx="-12.7" cy="10.9" r="0.52"/><circle cx="-12" cy="3.4" r="0.62"/><circle cx="-5.5" cy="-20.2" r="0.55"/><circle cx="-15.3" cy="6.3" r="0.47"/><circle cx="-3" cy="-4" r="0.71"/><circle cx="-3.7" cy="-5.2" r="0.71"/><circle cx="16.5" cy="3.8" r="0.58"/><circle cx="10.1" cy="18.2" r="0.57"/><circle cx="1.6" cy="-6.5" r="0.73"/><circle cx="-1.4" cy="-12.4" r="0.77"/><circle cx="4.2" cy="21.4" r="0.51"/><circle cx="-12.8" cy="-19.3" r="0.76"/><circle cx="20.4" cy="10.3" r="0.67"/><circle cx="-21.1" cy="6.1" r="0.41"/><circle cx="7.9" cy="-16.3" r="0.47"/><circle cx="6.1" cy="-4.8" r="0.49"/><circle cx="0.5" cy="-23.4" r="0.67"/><circle cx="25.1" cy="7.8" r="0.52"/><circle cx="-11.2" cy="-17.7" r="0.67"/><circle cx="25.6" cy="-0.3" r="0.56"/><circle cx="-6.1" cy="4" r="0.48"/><circle cx="6.7" cy="-5.1" r="0.46"/><circle cx="9.5" cy="-16.1" r="0.79"/><circle cx="15.1" cy="15.9" r="0.77"/><circle cx="-23.1" cy="7.9" r="0.75"/><circle cx="3" cy="16" r="0.43"/><circle cx="-15.7" cy="-21.2" r="0.68"/><circle cx="3.8" cy="20.6" r="0.51"/><circle cx="-19" cy="-6.3" r="0.51"/><circle cx="10.5" cy="16.3" r="0.74"/><circle cx="-15.2" cy="13.4" r="1.08"/><circle cx="-15.5" cy="16.2" r="1.08"/><circle cx="20.2" cy="-16.1" r="0.85"/><circle cx="8.5" cy="4.1" r="1.21"/><circle cx="-14.1" cy="-12.3" r="1.03"/><circle cx="14.7" cy="20.9" r="0.71"/><circle cx="14.2" cy="21.2" r="1.22"/><circle cx="5.6" cy="6.7" r="1.12"/><circle cx="3.5" cy="7.1" r="0.75"/><circle cx="-10.8" cy="-3.6" r="1.12"/><circle cx="12.2" cy="-6.5" r="0.71"/><circle cx="4" cy="24.7" r="0.93"/><circle cx="5.4" cy="4.1" r="0.82"/><circle cx="21.4" cy="-5.7" r="0.78"/><circle cx="-5.8" cy="-14.6" r="1.09"/><circle cx="8.7" cy="24.5" r="1.18"/><circle cx="12.8" cy="-3.8" r="1.25"/><circle cx="7.1" cy="-18.8" r="0.85"/><circle cx="-22.3" cy="-3.2" r="0.96"/><circle cx="-13.9" cy="-16.1" r="1.04"/><circle cx="4.1" cy="7.9" r="0.79"/><circle cx="-24" cy="-8.7" r="0.76"/><circle cx="2.4" cy="-26.2" r="1.18"/><circle cx="-9.2" cy="9.2" r="1.23"/><circle cx="-5.7" cy="21.3" r="0.95"/><circle cx="15.2" cy="-10.8" r="0.72"/><circle cx="2" cy="-12.7" r="0.76"/><circle cx="22.4" cy="1.8" r="0.94"/><circle cx="7" cy="-10.1" r="1.22"/><circle cx="11.7" cy="-23.1" r="0.72"/>
</g>
<g fill="#362cc4" opacity="0.79">
<circle cx="3.3" cy="19.1" r="0.66"/><circle cx="3.7" cy="20.6" r="0.6"/><circle cx="9.3" cy="-1.5" r="0.7"/><circle cx="16.9" cy="-19.3" r="0.45"/><circle cx="-5" cy="-5.5" r="0.61"/><circle cx="12.6" cy="-15.1" r="0.5"/><circle cx="11.3" cy="8.6" r="0.63"/><circle cx="23" cy="-16.6" r="0.66"/><circle cx="13.3" cy="-18.4" r="0.63"/><circle cx="-7.9" cy="23.4" r="0.58"/><circle cx="-4.7" cy="10.9" r="0.52"/><circle cx="-18.7" cy="16" r="0.79"/><circle cx="-16.3" cy="15" r="0.69"/><circle cx="-5.9" cy="12.7" r="0.51"/><circle cx="-9.2" cy="-8.7" r="0.77"/><circle cx="-7.3" cy="10.2" r="0.77"/><circle cx="-13.5" cy="-2.5" r="0.5"/><circle cx="-8" cy="-2.3" r="0.62"/><circle cx="-9.6" cy="14.6" r="0.42"/><circle cx="-13.7" cy="-12.8" r="0.49"/><circle cx="26.4" cy="-0.6" r="0.69"/><circle cx="16" cy="2" r="0.51"/><circle cx="-14.2" cy="20.9" r="0.42"/><circle cx="-6.6" cy="21" r="0.7"/><circle cx="-5.6" cy="17" r="0.72"/><circle cx="22.1" cy="-6.3" r="0.72"/><circle cx="-14.1" cy="9.3" r="0.77"/><circle cx="5.3" cy="-25" r="0.48"/><circle cx="8.1" cy="4.9" r="0.66"/><circle cx="21.2" cy="-7.6" r="0.57"/><circle cx="-2.7" cy="-6" r="0.57"/><circle cx="-5.1" cy="-1.3" r="0.61"/><circle cx="13.8" cy="-12.1" r="0.79"/><circle cx="6.6" cy="-16.3" r="0.65"/><circle cx="-1.9" cy="8.3" r="0.76"/><circle cx="-2.4" cy="-11.3" r="0.67"/><circle cx="9.9" cy="13.7" r="0.7"/><circle cx="-11.8" cy="13.2" r="0.69"/><circle cx="-19.9" cy="-16.1" r="0.67"/><circle cx="-14.5" cy="-15.8" r="0.73"/><circle cx="14.4" cy="4" r="0.45"/><circle cx="3.3" cy="21.8" r="0.52"/><circle cx="-18.9" cy="-12.1" r="0.47"/><circle cx="-4.6" cy="-18.3" r="0.64"/><circle cx="6.1" cy="11.2" r="0.42"/><circle cx="-1.3" cy="0.3" r="0.63"/><circle cx="-1.3" cy="-5.9" r="0.73"/><circle cx="14.3" cy="-9.6" r="0.54"/><circle cx="14.9" cy="-17.4" r="0.77"/><circle cx="-2.3" cy="-11.1" r="0.69"/><circle cx="-21.4" cy="-10.9" r="0.5"/><circle cx="2" cy="-6.4" r="0.69"/><circle cx="-1.1" cy="-21.2" r="0.79"/><circle cx="5" cy="7" r="0.71"/><circle cx="-6" cy="9.4" r="0.78"/><circle cx="-3.7" cy="-9.7" r="0.74"/><circle cx="14.2" cy="-7.9" r="0.53"/><circle cx="0.6" cy="-15.1" r="0.47"/><circle cx="-8.8" cy="13" r="0.54"/><circle cx="4.2" cy="-1.3" r="0.62"/><circle cx="21" cy="14.2" r="0.61"/><circle cx="2.9" cy="-17.2" r="0.69"/><circle cx="-12.4" cy="-1.2" r="0.52"/><circle cx="-4.1" cy="9.9" r="0.98"/><circle cx="-12.6" cy="-9" r="0.94"/><circle cx="13.1" cy="12.9" r="1.11"/><circle cx="0.1" cy="15.7" r="1.04"/><circle cx="-2" cy="-1.1" r="1.17"/><circle cx="-13.9" cy="13.7" r="0.98"/><circle cx="-18.5" cy="11.3" r="1.11"/><circle cx="12" cy="-21.9" r="0.77"/><circle cx="23.9" cy="6.8" r="0.96"/><circle cx="-3.6" cy="-12.1" r="0.88"/><circle cx="14.7" cy="-15.3" r="0.91"/><circle cx="16.4" cy="-13.2" r="0.92"/><circle cx="3.6" cy="-16.2" r="1.05"/><circle cx="-21" cy="14.2" r="0.96"/><circle cx="13.2" cy="17.2" r="0.94"/><circle cx="-1" cy="-2.1" r="0.94"/><circle cx="-21.1" cy="-3.9" r="0.81"/><circle cx="18.5" cy="-15.5" r="0.98"/><circle cx="-19.7" cy="-13.4" r="1.13"/><circle cx="22.4" cy="-5.9" r="0.89"/><circle cx="-4" cy="8.3" r="1.01"/><circle cx="-0.9" cy="-13.3" r="0.86"/><circle cx="16.5" cy="-6.2" r="0.71"/><circle cx="-4.5" cy="-8.9" r="1.01"/><circle cx="-14" cy="-2.7" r="0.92"/><circle cx="-6.7" cy="8.5" r="0.9"/><circle cx="7.8" cy="10.6" r="1.03"/><circle cx="15.8" cy="2.6" r="0.86"/><circle cx="7.9" cy="-0.9" r="0.87"/><circle cx="13.7" cy="-7" r="1.99"/><circle cx="-1" cy="1.5" r="1.34"/><circle cx="14" cy="-11" r="3.9"/><circle cx="-22" cy="1" r="1.9"/>
</g>
</g></g>
<circle cx="231.2" cy="559.5" r="28.2" fill="#c9c9cd"/>
<g clip-path="url(#cp7)"><g filter="url(#bl)" transform="translate(231.2 559.5)">
<g fill="#7d78dc" opacity="0.39">
<circle cx="19.8" cy="11" r="1.74"/><circle cx="5.8" cy="1.5" r="1.71"/><circle cx="1.7" cy="-22.4" r="1.76"/><circle cx="1.3" cy="-21.9" r="1.7"/><circle cx="22.3" cy="-10.4" r="1.16"/><circle cx="4.4" cy="21" r="1.64"/><circle cx="7.3" cy="-22.4" r="1.38"/><circle cx="-25.9" cy="-0.9" r="1.12"/><circle cx="11.1" cy="10.5" r="1.51"/><circle cx="-5.3" cy="9.7" r="1.85"/><circle cx="17.7" cy="-13.6" r="1.39"/><circle cx="17" cy="11.2" r="1.58"/><circle cx="4.2" cy="-18.2" r="1.22"/><circle cx="10.1" cy="-4.7" r="1.86"/><circle cx="11.8" cy="-9.5" r="1.82"/><circle cx="-1.8" cy="-26.1" r="1.09"/><circle cx="-1.3" cy="8.9" r="1.76"/><circle cx="-0.7" cy="-16.7" r="1.78"/><circle cx="19.5" cy="-17.3" r="1.36"/><circle cx="-7.6" cy="8.8" r="1.54"/><circle cx="1.4" cy="1.4" r="1.83"/><circle cx="-4.9" cy="17.1" r="1.8"/><circle cx="-1.2" cy="11.1" r="1.64"/><circle cx="-13.5" cy="9.7" r="1.6"/><circle cx="-0.3" cy="14.9" r="1.6"/><circle cx="-6.9" cy="-14.1" r="1.79"/><circle cx="-5.8" cy="-0.9" r="1.74"/><circle cx="-3.1" cy="-14.1" r="1.24"/><circle cx="20.9" cy="3.9" r="1.71"/><circle cx="17.6" cy="5.9" r="1.75"/><circle cx="-3.5" cy="21.9" r="1.76"/><circle cx="-1.1" cy="1.3" r="1.23"/><circle cx="-1.7" cy="-14.3" r="1.8"/><circle cx="-0.4" cy="-10.8" r="1.07"/><circle cx="23.1" cy="-5" r="1.81"/><circle cx="-17.4" cy="-9.2" r="1.77"/><circle cx="5.8" cy="-7.5" r="2.44"/><circle cx="-25" cy="-2" r="2.12"/>
</g>
<g fill="#5b54d2" opacity="0.6">
<circle cx="13.5" cy="1.3" r="0.46"/><circle cx="2.1" cy="20.9" r="0.77"/><circle cx="20.8" cy="6.6" r="0.43"/><circle cx="0.5" cy="25.4" r="0.52"/><circle cx="23.5" cy="0.9" r="0.42"/><circle cx="3.6" cy="21.2" r="0.79"/><circle cx="6.3" cy="7.6" r="0.46"/><circle cx="5" cy="-4.6" r="0.44"/><circle cx="25.9" cy="4.1" r="0.77"/><circle cx="-5.1" cy="18.6" r="0.6"/><circle cx="-19.7" cy="8.5" r="0.57"/><circle cx="-0.4" cy="27.1" r="0.64"/><circle cx="-14.2" cy="1.1" r="0.53"/><circle cx="18.6" cy="14.7" r="0.64"/><circle cx="-5.5" cy="-20.1" r="0.47"/><circle cx="-18.7" cy="-1.8" r="0.54"/><circle cx="16.9" cy="10.7" r="0.53"/><circle cx="2.3" cy="-21.3" r="0.54"/><circle cx="-10" cy="13.6" r="0.42"/><circle cx="-20" cy="4.1" r="0.63"/><circle cx="-10.8" cy="-11.2" r="0.71"/><circle cx="13.5" cy="-19" r="0.43"/><circle cx="0.4" cy="12.4" r="0.75"/><circle cx="20" cy="-5.2" r="0.74"/><circle cx="23.5" cy="-5.8" r="0.46"/><circle cx="-13.1" cy="1.2" r="0.64"/><circle cx="15.5" cy="-19.4" r="0.75"/><circle cx="-8.6" cy="-7.7" r="0.51"/><circle cx="-3.7" cy="15.4" r="0.73"/><circle cx="-14.2" cy="22.6" r="0.7"/><circle cx="0.5" cy="-13.3" r="0.73"/><circle cx="15.2" cy="10.4" r="0.58"/><circle cx="-3.2" cy="10.3" r="0.65"/><circle cx="22.8" cy="-11.1" r="0.5"/><circle cx="-15.3" cy="10.6" r="0.47"/><circle cx="6.2" cy="19.3" r="0.76"/><circle cx="4.4" cy="22.3" r="0.67"/><circle cx="21.3" cy="-10.1" r="0.71"/><circle cx="-1.3" cy="15.5" r="0.44"/><circle cx="-5.4" cy="11.2" r="0.58"/><circle cx="-13.8" cy="22" r="0.45"/><circle cx="13" cy="5.4" r="0.44"/><circle cx="-17.5" cy="21.7" r="0.43"/><circle cx="-5.9" cy="14.9" r="0.54"/><circle cx="1.3" cy="-3.3" r="0.78"/><circle cx="-4.5" cy="9.7" r="0.48"/><circle cx="0.5" cy="3" r="0.48"/><circle cx="0.5" cy="9.6" r="0.75"/><circle cx="10.5" cy="-15.7" r="0.61"/><circle cx="8.4" cy="-12" r="0.42"/><circle cx="9.1" cy="21.7" r="0.76"/><circle cx="-8.8" cy="-18.9" r="0.74"/><circle cx="-11.8" cy="-2.1" r="0.67"/><circle cx="-24.9" cy="0.4" r="0.44"/><circle cx="-1.5" cy="-2.4" r="0.45"/><circle cx="0.6" cy="2.7" r="0.71"/><circle cx="0.1" cy="8.2" r="0.63"/><circle cx="-16.9" cy="5.5" r="0.77"/><circle cx="22" cy="-11.2" r="0.59"/><circle cx="8.9" cy="14.6" r="0.73"/><circle cx="-14" cy="-3.1" r="0.58"/><circle cx="16.4" cy="-9.3" r="0.65"/><circle cx="-18.9" cy="-3.4" r="0.66"/><circle cx="21.2" cy="6.4" r="0.54"/><circle cx="2.1" cy="-2" r="0.65"/><circle cx="-2.5" cy="-16.9" r="0.62"/><circle cx="3.2" cy="6.3" r="0.54"/><circle cx="22.1" cy="12.5" r="0.63"/><circle cx="-12.4" cy="-14.2" r="0.73"/><circle cx="15.7" cy="-2.6" r="0.54"/><circle cx="-25.8" cy="-7.7" r="0.61"/><circle cx="4" cy="27.2" r="0.66"/><circle cx="0.6" cy="-15.5" r="0.5"/><circle cx="17.8" cy="-15.1" r="0.68"/><circle cx="-13.7" cy="14.6" r="0.55"/><circle cx="23.1" cy="3.8" r="0.63"/><circle cx="13.2" cy="-3.5" r="0.47"/><circle cx="1.6" cy="23" r="0.63"/><circle cx="-2.2" cy="-18.4" r="0.63"/><circle cx="-4.6" cy="11.4" r="0.45"/><circle cx="-5.2" cy="24.8" r="0.67"/><circle cx="-9.3" cy="4.5" r="0.69"/><circle cx="0.4" cy="3.8" r="0.54"/><circle cx="6.9" cy="6.9" r="0.66"/><circle cx="-13.1" cy="-13.8" r="0.78"/><circle cx="-2.2" cy="17.2" r="0.54"/><circle cx="-4.3" cy="5.7" r="0.69"/><circle cx="-21.6" cy="1" r="0.43"/><circle cx="-23.6" cy="6.1" r="0.62"/><circle cx="5.8" cy="1.5" r="1.14"/><circle cx="22.3" cy="-10.4" r="0.77"/><circle cx="17.7" cy="-13.6" r="0.93"/><circle cx="4.2" cy="-18.2" r="0.82"/><circle cx="-1.3" cy="8.9" r="1.17"/><circle cx="19.5" cy="-17.3" r="0.9"/><circle cx="-7.6" cy="8.8" r="1.03"/><circle cx="1.4" cy="1.4" r="1.22"/><circle cx="-4.9" cy="17.1" r="1.2"/><circle cx="-1.2" cy="11.1" r="1.09"/><circle cx="-13.5" cy="9.7" r="1.07"/><circle cx="-0.3" cy="14.9" r="1.06"/><circle cx="-6.9" cy="-14.1" r="1.19"/><circle cx="-5.8" cy="-0.9" r="1.16"/><circle cx="17.6" cy="5.9" r="1.17"/><circle cx="-1.1" cy="1.3" r="0.82"/><circle cx="-1.7" cy="-14.3" r="1.2"/><circle cx="23.1" cy="-5" r="1.21"/><circle cx="-17.4" cy="-9.2" r="1.18"/>
</g>
<g fill="#362cc4" opacity="0.75">
<circle cx="-20.6" cy="-0.5" r="0.79"/><circle cx="-17" cy="-2.1" r="0.78"/><circle cx="4.6" cy="-10.6" r="0.51"/><circle cx="-9.4" cy="2.4" r="0.57"/><circle cx="20.4" cy="14.3" r="0.55"/><circle cx="18.3" cy="-2.7" r="0.77"/><circle cx="15.4" cy="-16.7" r="0.72"/><circle cx="15.6" cy="9.3" r="0.73"/><circle cx="6.3" cy="-0.6" r="0.76"/><circle cx="23.6" cy="6.7" r="0.61"/><circle cx="-1.7" cy="10.8" r="0.59"/><circle cx="-17.2" cy="2.2" r="0.54"/><circle cx="22.5" cy="8.6" r="0.67"/><circle cx="-5.4" cy="18" r="0.67"/><circle cx="-21.8" cy="-9.6" r="0.79"/><circle cx="6.6" cy="-22.1" r="0.41"/><circle cx="13.4" cy="-3.5" r="0.79"/><circle cx="0.9" cy="10.9" r="0.67"/><circle cx="-13.5" cy="19.5" r="0.53"/><circle cx="-21.6" cy="-6.8" r="0.5"/><circle cx="6.1" cy="13.5" r="0.63"/><circle cx="-0.1" cy="-2.5" r="0.56"/><circle cx="21.7" cy="-7.9" r="0.69"/><circle cx="5.8" cy="-14.3" r="0.53"/><circle cx="11.8" cy="15.7" r="0.57"/><circle cx="-19.2" cy="9.6" r="0.78"/><circle cx="2" cy="12.7" r="0.65"/><circle cx="13.6" cy="6.9" r="0.69"/><circle cx="14.3" cy="10.9" r="0.66"/><circle cx="1.7" cy="17.9" r="0.67"/><circle cx="13.4" cy="-14.3" r="0.46"/><circle cx="-0.7" cy="7.5" r="0.6"/><circle cx="13" cy="-10.7" r="0.47"/><circle cx="14.8" cy="-2.6" r="0.66"/><circle cx="-2.2" cy="16.8" r="0.59"/><circle cx="4.5" cy="18.9" r="0.48"/><circle cx="-4.6" cy="-8.6" r="0.76"/><circle cx="-7.9" cy="3.9" r="0.48"/><circle cx="-14.7" cy="-16.8" r="0.58"/><circle cx="-4.6" cy="-27.6" r="0.48"/><circle cx="11.3" cy="-4.6" r="0.43"/><circle cx="19.8" cy="11" r="1.16"/><circle cx="1.7" cy="-22.4" r="1.17"/><circle cx="1.3" cy="-21.9" r="1.13"/><circle cx="4.4" cy="21" r="1.1"/><circle cx="7.3" cy="-22.4" r="0.92"/><circle cx="-25.9" cy="-0.9" r="0.74"/><circle cx="11.1" cy="10.5" r="1"/><circle cx="-5.3" cy="9.7" r="1.24"/><circle cx="17" cy="11.2" r="1.05"/><circle cx="10.1" cy="-4.7" r="1.24"/><circle cx="11.8" cy="-9.5" r="1.22"/><circle cx="-1.8" cy="-26.1" r="0.73"/><circle cx="-0.7" cy="-16.7" r="1.19"/><circle cx="-3.1" cy="-14.1" r="0.83"/><circle cx="20.9" cy="3.9" r="1.14"/><circle cx="-3.5" cy="21.9" r="1.17"/><circle cx="-0.4" cy="-10.8" r="0.72"/><circle cx="5.8" cy="-7.5" r="1.81"/><circle cx="-25" cy="-2" r="1.7"/>
</g>
</g></g>
<text x="224.8" y="648" font-size="12.8" text-anchor="start" fill="#111" >I</text>
<text x="303" y="647.8" font-size="9.8" text-anchor="middle" fill="#111" >ANT</text>
<text x="346" y="647.8" font-size="9.8" text-anchor="middle" fill="#111" >ADC</text>
<rect x="280.2" y="652" width="88.8" height="16.6" fill="#e3e3e3"/>
<clipPath id="bc652"><rect x="280.2" y="652" width="88.8" height="16.6"/></clipPath>
<g clip-path="url(#bc652)"><g filter="url(#bb)">
<rect x="284" y="658.5" width="18" height="3" rx="1.5" fill="#2a2a2a" opacity="0.9"/>
<rect x="306" y="658.5" width="17" height="3" rx="1.5" fill="#2a2a2a" opacity="0.85"/>
<rect x="326.5" y="657.7" width="19" height="4.6" rx="2.3" fill="#0c0c0c" opacity="1"/>
<rect x="347" y="657.8" width="19" height="4.4" rx="2.2" fill="#0c0c0c" opacity="1"/>
</g></g>
<rect x="280.2" y="652" width="88.8" height="16.6" fill="none" stroke="#111" stroke-width="1.5"/>
<rect x="280.2" y="672.6" width="88.8" height="17" fill="#d2d2d2"/>
<clipPath id="bc672"><rect x="280.2" y="672.6" width="88.8" height="17"/></clipPath>
<g clip-path="url(#bc672)"><g filter="url(#bb)">
<rect x="282" y="676.9" width="22" height="8.6" rx="4.3" fill="#050505" opacity="1"/>
<rect x="303.5" y="676.9" width="22" height="8.6" rx="4.3" fill="#050505" opacity="1"/>
<rect x="325" y="676.9" width="22" height="8.6" rx="4.3" fill="#050505" opacity="1"/>
<rect x="346" y="677" width="21" height="8.4" rx="4.2" fill="#050505" opacity="1"/>
<rect x="284.5" y="678.45" width="80" height="5.5" rx="2.75" fill="#0a0a0a" opacity="0.9"/>
</g></g>
<rect x="280.2" y="672.6" width="88.8" height="17" fill="none" stroke="#111" stroke-width="1.5"/>
<text x="276.7" y="664.7" font-size="10.7" text-anchor="end" fill="#111" >FPN</text>
<text x="276.7" y="678.7" font-size="10.7" text-anchor="end" fill="#111" >Na<tspan font-size="6.5" dy="-3.8">+</tspan><tspan dy="3.8">-K</tspan><tspan font-size="6.5" dy="-3.8">+</tspan></text>
<text x="276.7" y="691.3" font-size="10.7" text-anchor="end" fill="#111" >ATPase</text>
<text x="371.5" y="664.7" font-size="10.7" text-anchor="start" fill="#111" >62 kDa</text>
<text x="371.5" y="684.7" font-size="10.7" text-anchor="start" fill="#111" >100 kDa</text>
<text x="302.7" y="713.2" font-size="9.8" text-anchor="middle" fill="#111" >ANT</text>
<text x="346.1" y="713.2" font-size="9.8" text-anchor="middle" fill="#111" >SCC</text>
<rect x="280.2" y="716.4" width="88.8" height="16.2" fill="#dedede"/>
<clipPath id="bc716"><rect x="280.2" y="716.4" width="88.8" height="16.2"/></clipPath>
<g clip-path="url(#bc716)"><g filter="url(#bb)">
<rect x="284.5" y="722.9" width="11" height="3.6" rx="1.8" fill="#1a1a1a" opacity="0.95"/>
<rect x="288" y="723.2" width="16" height="3" rx="1.5" fill="#2a2a2a" opacity="0.8"/>
<rect x="306" y="722.8" width="11" height="3.8" rx="1.9" fill="#1a1a1a" opacity="0.95"/>
<rect x="309.5" y="723.1" width="16" height="3.2" rx="1.6" fill="#2a2a2a" opacity="0.85"/>
<rect x="326" y="721.9" width="20" height="5.6" rx="2.8" fill="#060606" opacity="1"/>
<rect x="346.5" y="722" width="20" height="5.4" rx="2.7" fill="#060606" opacity="1"/>
</g></g>
<rect x="280.2" y="716.4" width="88.8" height="16.2" fill="none" stroke="#111" stroke-width="1.5"/>
<rect x="280.2" y="737" width="88.8" height="16.2" fill="#dadada"/>
<clipPath id="bc737"><rect x="280.2" y="737" width="88.8" height="16.2"/></clipPath>
<g clip-path="url(#bc737)"><g filter="url(#bb)">
<rect x="283" y="742.9" width="19" height="5" rx="2.5" fill="#060606" opacity="1"/>
<rect x="304.75" y="742.9" width="19.5" height="5" rx="2.5" fill="#060606" opacity="1"/>
<rect x="325.5" y="742.9" width="20" height="5" rx="2.5" fill="#060606" opacity="1"/>
<rect x="347.75" y="743" width="16.5" height="4.8" rx="2.4" fill="#0a0a0a" opacity="1"/>
</g></g>
<rect x="280.2" y="737" width="88.8" height="16.2" fill="none" stroke="#111" stroke-width="1.5"/>
<text x="276.7" y="728.7" font-size="10.7" text-anchor="end" fill="#111" >FPN</text>
<text x="276.7" y="742.2" font-size="10.7" text-anchor="end" fill="#111" >Na<tspan font-size="6.5" dy="-3.8">+</tspan><tspan dy="3.8">-K</tspan><tspan font-size="6.5" dy="-3.8">+</tspan></text>
<text x="276.7" y="755.6" font-size="10.7" text-anchor="end" fill="#111" >ATPase</text>
<text x="371.5" y="728.7" font-size="10.7" text-anchor="start" fill="#111" >62 kDa</text>
<text x="371.5" y="748.7" font-size="10.7" text-anchor="start" fill="#111" >100 kDa</text>
<g fill="#aaaaaa">
<ellipse cx="395" cy="766.3" rx="7.7" ry="6.3"/>
<path d="M390.2 770.5 l-1.6 3.6 l4.6 -2.2 z"/>
<ellipse cx="402.7" cy="771.7" rx="7.2" ry="6.2" fill="#fff"/>
<ellipse cx="402.7" cy="771.7" rx="6.5" ry="5.5"/>
<path d="M405.2 776 l2.2 2.2 l-4.4 -1.2 z"/>
<circle cx="392.6" cy="764.3" r="1.1" fill="#fff"/><circle cx="397.4" cy="764.3" r="1.1" fill="#fff"/>
<circle cx="400.2" cy="769.6" r="0.95" fill="#fff"/><circle cx="404.9" cy="769.6" r="0.95" fill="#fff"/>
</g>
<text class="wm" y="775" font-size="16.1" fill="#a2a2a2" font-family="'Liberation Sans', 'Noto Sans CJK SC', sans-serif"><tspan x="414.4">公众号</tspan><tspan x="465.5"> · </tspan><tspan x="483" letter-spacing="0.3">强耀科研服务</tspan></text>
</svg>
</body></html>
